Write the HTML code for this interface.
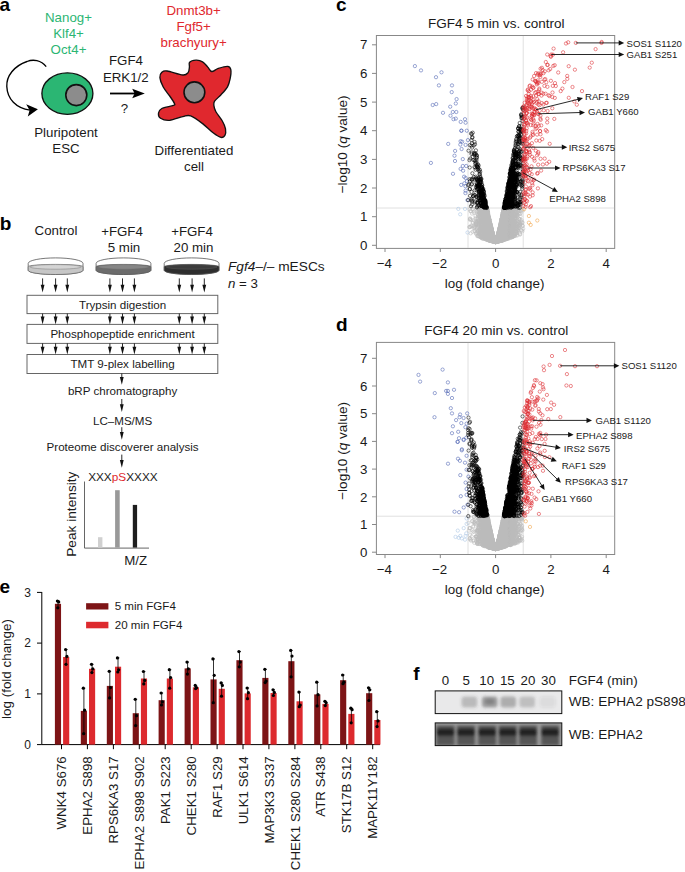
<!DOCTYPE html><html><head><meta charset="utf-8"><title>Figure</title><style>html,body{margin:0;padding:0;background:#fff;}body{width:685px;height:872px;overflow:hidden;}svg{display:block;font-family:"Liberation Sans", sans-serif;}text:not([fill]){fill:#1a1a1a;}</style></head><body>
<svg width="685" height="872" viewBox="0 0 685 872">
<defs>
<marker id="mg" markerWidth="6" markerHeight="6" refX="3" refY="3" markerUnits="userSpaceOnUse" overflow="visible"><circle cx="3" cy="3" r="1.65" fill="none" stroke="#bbbbbb" stroke-width="0.55"/></marker>
<marker id="mlb" markerWidth="6" markerHeight="6" refX="3" refY="3" markerUnits="userSpaceOnUse" overflow="visible"><circle cx="3" cy="3" r="1.65" fill="none" stroke="#a8c4e4" stroke-width="0.55"/></marker>
<marker id="mo" markerWidth="6" markerHeight="6" refX="3" refY="3" markerUnits="userSpaceOnUse" overflow="visible"><circle cx="3" cy="3" r="1.65" fill="none" stroke="#f0a040" stroke-width="0.55"/></marker>
<marker id="mb" markerWidth="6" markerHeight="6" refX="3" refY="3" markerUnits="userSpaceOnUse" overflow="visible"><circle cx="3" cy="3" r="1.65" fill="none" stroke="#4a5fb0" stroke-width="0.55"/></marker>
<marker id="mk" markerWidth="6" markerHeight="6" refX="3" refY="3" markerUnits="userSpaceOnUse" overflow="visible"><circle cx="3" cy="3" r="1.65" fill="none" stroke="#000" stroke-width="0.55"/></marker>
<marker id="mr" markerWidth="6" markerHeight="6" refX="3" refY="3" markerUnits="userSpaceOnUse" overflow="visible"><circle cx="3" cy="3" r="1.65" fill="none" stroke="#dd2a30" stroke-width="0.55"/></marker>
</defs>
<text x="-0.6" y="10.5" font-size="19" font-weight="bold" fill="#000">a</text>
<text x="68.5" y="21.8" font-size="13.3" text-anchor="middle" fill="#2bb673">Nanog+</text>
<text x="68.5" y="38.1" font-size="13.3" text-anchor="middle" fill="#2bb673">Klf4+</text>
<text x="68.5" y="54.400000000000006" font-size="13.3" text-anchor="middle" fill="#2bb673">Oct4+</text>
<text x="193.6" y="15.3" font-size="13.3" text-anchor="middle" fill="#e0282e">Dnmt3b+</text>
<text x="193.6" y="31.0" font-size="13.3" text-anchor="middle" fill="#e0282e">Fgf5+</text>
<text x="193.6" y="46.7" font-size="13.3" text-anchor="middle" fill="#e0282e">brachyury+</text>
<text x="126" y="65.4" font-size="13.3" text-anchor="middle">FGF4</text>
<text x="125.8" y="82.2" font-size="13.3" text-anchor="middle">ERK1/2</text>
<text x="124.5" y="113" font-size="13.3" text-anchor="middle">?</text>
<path d="M110,93.5H137" stroke="#000" stroke-width="1.8"/>
<path d="M144.8,93.5L132.2,88.8L134.6,93.5L132.2,98.2Z" fill="#000"/>
<path d="M46.2,66.6C41,60 33,59 27,61.5C14,66 6.3,76 6.8,86.5C7.3,99 16,108 30,110.2" fill="none" stroke="#000" stroke-width="1.35"/>
<path d="M37.9,109.2L26.2,104.3L29.6,110.3L27.8,116.4Z" fill="#000"/>
<ellipse cx="67.4" cy="93.6" rx="25.5" ry="20.8" fill="#2bb673" stroke="#111" stroke-width="1.35"/>
<circle cx="76.3" cy="95.1" r="10.5" fill="#8c8c8c" stroke="#111" stroke-width="1.6"/>
<text x="66" y="136.8" font-size="13.3" text-anchor="middle">Pluripotent</text>
<text x="66" y="153.2" font-size="13.3" text-anchor="middle">ESC</text>
<path d="M189.4,67.1C189.7,65.4 188.5,63.4 189.6,62.3C190.7,61.1 193.8,60.3 196.0,60.2C198.2,60.1 200.6,60.6 202.6,61.8C204.6,62.9 206.3,65.5 207.8,67.1C209.3,68.7 210.1,71.3 211.8,71.5C213.6,71.7 215.7,69.2 218.3,68.4C220.9,67.6 225.4,66.2 227.5,66.4C229.6,66.6 230.4,67.6 230.8,69.7C231.2,71.8 230.7,76.1 230.1,78.9C229.5,81.8 229.0,84.2 227.5,86.8C226.0,89.4 223.2,92.3 221.0,94.7C218.8,97.1 215.8,99.4 214.6,101.2C213.4,103.0 213.7,103.8 213.9,105.6C214.1,107.4 214.5,109.2 215.9,111.8C217.3,114.4 220.7,118.2 222.3,121.0C223.9,123.8 225.1,126.4 225.5,128.8C225.9,131.2 225.7,134.0 224.9,135.4C224.2,136.8 223.0,137.8 221.0,137.4C219.0,137.0 216.2,135.1 213.1,132.8C210.0,130.5 206.3,126.4 202.6,123.6C198.9,120.8 194.0,117.1 190.7,115.9C187.4,114.7 186.3,115.9 182.8,116.6C179.3,117.3 173.4,120.0 169.7,120.3C166.0,120.6 162.4,119.5 160.5,118.3C158.6,117.1 158.3,114.7 158.5,113.1C158.7,111.5 159.3,109.8 161.8,108.5C164.3,107.2 171.3,106.3 173.4,105.4C175.5,104.5 174.9,104.8 174.3,103.2C173.7,101.6 171.6,98.7 169.7,96.0C167.8,93.3 164.7,89.9 163.1,86.8C161.5,83.7 160.1,80.0 159.9,77.6C159.7,75.2 160.6,73.4 161.8,72.3C163.0,71.2 163.6,70.5 167.1,71.0C170.6,71.5 179.3,74.7 182.8,75.0C186.3,75.3 187.0,73.9 188.1,72.6C189.2,71.3 189.2,68.8 189.4,67.1Z" fill="#e0282e" stroke="#111" stroke-width="1.35"/>
<circle cx="194.4" cy="92.3" r="10.4" fill="#8c8c8c" stroke="#111" stroke-width="1.6"/>
<text x="194" y="155" font-size="13.3" text-anchor="middle">Differentiated</text>
<text x="194" y="171.4" font-size="13.3" text-anchor="middle">cell</text>
<text x="-0.3" y="230.4" font-size="19" font-weight="bold" fill="#000">b</text>
<text x="56" y="234.9" font-size="13.3" text-anchor="middle">Control</text>
<text x="122" y="235.6" font-size="13.3" text-anchor="middle">+FGF4</text>
<text x="124" y="251.6" font-size="13.3" text-anchor="middle">5 min</text>
<text x="192" y="235.6" font-size="13.3" text-anchor="middle">+FGF4</text>
<text x="193.5" y="251.6" font-size="13.3" text-anchor="middle">20 min</text>
<path d="M28.200000000000003,263.4V270.3A27.4,4.2 0 0 0 83.0,270.3V263.4A27.4,5.5 0 0 0 28.200000000000003,263.4Z" fill="#fff" stroke="#555" stroke-width="0.8"/>
<path d="M28.200000000000003,266.6V270.3A27.4,4.2 0 0 0 83.0,270.3V266.6A27.4,2.2 0 0 0 28.200000000000003,266.6Z" fill="#c6c6c6" stroke="#555" stroke-width="0.6"/>
<ellipse cx="55.6" cy="266.90000000000003" rx="25.5" ry="2.3" fill="#d4d4d4" stroke="#666" stroke-width="0.4"/>
<path d="M96.1,263.4V270.3A27.4,4.2 0 0 0 150.9,270.3V263.4A27.4,5.5 0 0 0 96.1,263.4Z" fill="#fff" stroke="#555" stroke-width="0.8"/>
<path d="M96.1,266.6V270.3A27.4,4.2 0 0 0 150.9,270.3V266.6A27.4,2.2 0 0 0 96.1,266.6Z" fill="#6c6c6c" stroke="#555" stroke-width="0.6"/>
<ellipse cx="123.5" cy="266.90000000000003" rx="25.5" ry="2.3" fill="#868686" stroke="#666" stroke-width="0.4"/>
<path d="M164.2,263.4V270.3A27.4,4.2 0 0 0 219.0,270.3V263.4A27.4,5.5 0 0 0 164.2,263.4Z" fill="#fff" stroke="#555" stroke-width="0.8"/>
<path d="M164.2,266.6V270.3A27.4,4.2 0 0 0 219.0,270.3V266.6A27.4,2.2 0 0 0 164.2,266.6Z" fill="#2e2e2e" stroke="#555" stroke-width="0.6"/>
<ellipse cx="191.6" cy="266.90000000000003" rx="25.5" ry="2.3" fill="#3c3c3c" stroke="#666" stroke-width="0.4"/>
<text x="228" y="270.6" font-size="13.7"><tspan font-style="italic">Fgf4</tspan>–/– mESCs</text>
<text x="228" y="288.2" font-size="13.3"><tspan font-style="italic">n</tspan> = 3</text>
<path d="M42.6,278.4V287.5" stroke="#111" stroke-width="0.9"/>
<path d="M40.7,284.7L44.5,284.7L42.6,292.5Z" fill="#111"/>
<path d="M55.6,278.4V287.5" stroke="#111" stroke-width="0.9"/>
<path d="M53.7,284.7L57.5,284.7L55.6,292.5Z" fill="#111"/>
<path d="M67.3,278.4V287.5" stroke="#111" stroke-width="0.9"/>
<path d="M65.39999999999999,284.7L69.2,284.7L67.3,292.5Z" fill="#111"/>
<path d="M109.9,278.4V287.5" stroke="#111" stroke-width="0.9"/>
<path d="M108.0,284.7L111.80000000000001,284.7L109.9,292.5Z" fill="#111"/>
<path d="M122.5,278.4V287.5" stroke="#111" stroke-width="0.9"/>
<path d="M120.6,284.7L124.4,284.7L122.5,292.5Z" fill="#111"/>
<path d="M134.4,278.4V287.5" stroke="#111" stroke-width="0.9"/>
<path d="M132.5,284.7L136.3,284.7L134.4,292.5Z" fill="#111"/>
<path d="M179.3,278.4V287.5" stroke="#111" stroke-width="0.9"/>
<path d="M177.4,284.7L181.20000000000002,284.7L179.3,292.5Z" fill="#111"/>
<path d="M192.1,278.4V287.5" stroke="#111" stroke-width="0.9"/>
<path d="M190.2,284.7L194.0,284.7L192.1,292.5Z" fill="#111"/>
<path d="M204.3,278.4V287.5" stroke="#111" stroke-width="0.9"/>
<path d="M202.4,284.7L206.20000000000002,284.7L204.3,292.5Z" fill="#111"/>
<rect x="27" y="295.3" width="190.8" height="18.3" fill="#fff" stroke="#666" stroke-width="1"/>
<text x="122.6" y="309.1" font-size="11.6" text-anchor="middle">Trypsin digestion</text>
<rect x="27" y="324.4" width="190.8" height="19.0" fill="#fff" stroke="#666" stroke-width="1"/>
<text x="122.6" y="338.2" font-size="11.6" text-anchor="middle">Phosphopeptide enrichment</text>
<rect x="27" y="354.5" width="190.8" height="19.0" fill="#fff" stroke="#666" stroke-width="1"/>
<text x="122.6" y="368.3" font-size="11.6" text-anchor="middle">TMT 9-plex labelling</text>
<path d="M42.6,313.6V319.4" stroke="#111" stroke-width="0.9"/>
<path d="M40.7,316.59999999999997L44.5,316.59999999999997L42.6,324.4Z" fill="#111"/>
<path d="M42.6,343.4V349.5" stroke="#111" stroke-width="0.9"/>
<path d="M40.7,346.7L44.5,346.7L42.6,354.5Z" fill="#111"/>
<path d="M55.6,313.6V319.4" stroke="#111" stroke-width="0.9"/>
<path d="M53.7,316.59999999999997L57.5,316.59999999999997L55.6,324.4Z" fill="#111"/>
<path d="M55.6,343.4V349.5" stroke="#111" stroke-width="0.9"/>
<path d="M53.7,346.7L57.5,346.7L55.6,354.5Z" fill="#111"/>
<path d="M67.3,313.6V319.4" stroke="#111" stroke-width="0.9"/>
<path d="M65.39999999999999,316.59999999999997L69.2,316.59999999999997L67.3,324.4Z" fill="#111"/>
<path d="M67.3,343.4V349.5" stroke="#111" stroke-width="0.9"/>
<path d="M65.39999999999999,346.7L69.2,346.7L67.3,354.5Z" fill="#111"/>
<path d="M109.9,313.6V319.4" stroke="#111" stroke-width="0.9"/>
<path d="M108.0,316.59999999999997L111.80000000000001,316.59999999999997L109.9,324.4Z" fill="#111"/>
<path d="M109.9,343.4V349.5" stroke="#111" stroke-width="0.9"/>
<path d="M108.0,346.7L111.80000000000001,346.7L109.9,354.5Z" fill="#111"/>
<path d="M122.5,313.6V319.4" stroke="#111" stroke-width="0.9"/>
<path d="M120.6,316.59999999999997L124.4,316.59999999999997L122.5,324.4Z" fill="#111"/>
<path d="M122.5,343.4V349.5" stroke="#111" stroke-width="0.9"/>
<path d="M120.6,346.7L124.4,346.7L122.5,354.5Z" fill="#111"/>
<path d="M134.4,313.6V319.4" stroke="#111" stroke-width="0.9"/>
<path d="M132.5,316.59999999999997L136.3,316.59999999999997L134.4,324.4Z" fill="#111"/>
<path d="M134.4,343.4V349.5" stroke="#111" stroke-width="0.9"/>
<path d="M132.5,346.7L136.3,346.7L134.4,354.5Z" fill="#111"/>
<path d="M179.3,313.6V319.4" stroke="#111" stroke-width="0.9"/>
<path d="M177.4,316.59999999999997L181.20000000000002,316.59999999999997L179.3,324.4Z" fill="#111"/>
<path d="M179.3,343.4V349.5" stroke="#111" stroke-width="0.9"/>
<path d="M177.4,346.7L181.20000000000002,346.7L179.3,354.5Z" fill="#111"/>
<path d="M192.1,313.6V319.4" stroke="#111" stroke-width="0.9"/>
<path d="M190.2,316.59999999999997L194.0,316.59999999999997L192.1,324.4Z" fill="#111"/>
<path d="M192.1,343.4V349.5" stroke="#111" stroke-width="0.9"/>
<path d="M190.2,346.7L194.0,346.7L192.1,354.5Z" fill="#111"/>
<path d="M204.3,313.6V319.4" stroke="#111" stroke-width="0.9"/>
<path d="M202.4,316.59999999999997L206.20000000000002,316.59999999999997L204.3,324.4Z" fill="#111"/>
<path d="M204.3,343.4V349.5" stroke="#111" stroke-width="0.9"/>
<path d="M202.4,346.7L206.20000000000002,346.7L204.3,354.5Z" fill="#111"/>
<path d="M121.8,373.5V379.8" stroke="#111" stroke-width="0.9"/>
<path d="M119.89999999999999,377.0L123.7,377.0L121.8,384.8Z" fill="#111"/>
<text x="122.6" y="395.2" font-size="11.6" text-anchor="middle">bRP chromatography</text>
<path d="M121.8,399V407" stroke="#111" stroke-width="0.9"/>
<path d="M119.89999999999999,404.2L123.7,404.2L121.8,412Z" fill="#111"/>
<text x="122.6" y="425.4" font-size="11.6" text-anchor="middle">LC–MS/MS</text>
<path d="M121.8,427.2V434.8" stroke="#111" stroke-width="0.9"/>
<path d="M119.89999999999999,432.0L123.7,432.0L121.8,439.8Z" fill="#111"/>
<text x="122.6" y="450.6" font-size="11.6" text-anchor="middle">Proteome discoverer analysis</text>
<path d="M121.8,454.6V462.8" stroke="#111" stroke-width="0.9"/>
<path d="M119.89999999999999,460.0L123.7,460.0L121.8,467.8Z" fill="#111"/>
<text x="122.9" y="480.5" font-size="11.8" text-anchor="middle">XXX<tspan fill="#e0282e">pS</tspan>XXXX</text>
<path d="M84.5,481.5V548.1H149" fill="none" stroke="#555" stroke-width="0.9"/>
<rect x="98" y="537.2" width="4.4" height="10.4" fill="#d0d0d0"/>
<rect x="115.1" y="490.2" width="4.6" height="57.4" fill="#999"/>
<rect x="132.8" y="504.9" width="4.3" height="42.7" fill="#1e1e1e"/>
<text transform="translate(76.3,556.8) rotate(-90)" font-size="13.7">Peak intensity</text>
<text x="124.2" y="565.2" font-size="13.3">M/Z</text>
<text x="336" y="10.5" font-size="19" font-weight="bold" fill="#000">c</text>
<rect x="376.4" y="35.5" width="238.3" height="212.9" fill="none" stroke="#888" stroke-width="1"/>
<path d="M376.9,208.0H614.2M468.0,36.0V247.9M523.2,36.0V247.9" stroke="#d6d6d6" stroke-width="0.75"/>
<path d="M372,245.3H376.4" stroke="#888" stroke-width="1"/>
<text x="367.5" y="250.0" font-size="13.3" text-anchor="end">0</text>
<path d="M372,216.7H376.4" stroke="#888" stroke-width="1"/>
<text x="367.5" y="221.35" font-size="13.3" text-anchor="end">1</text>
<path d="M372,188.0H376.4" stroke="#888" stroke-width="1"/>
<text x="367.5" y="192.7" font-size="13.3" text-anchor="end">2</text>
<path d="M372,159.4H376.4" stroke="#888" stroke-width="1"/>
<text x="367.5" y="164.05" font-size="13.3" text-anchor="end">3</text>
<path d="M372,130.7H376.4" stroke="#888" stroke-width="1"/>
<text x="367.5" y="135.4" font-size="13.3" text-anchor="end">4</text>
<path d="M372,102.1H376.4" stroke="#888" stroke-width="1"/>
<text x="367.5" y="106.75000000000001" font-size="13.3" text-anchor="end">5</text>
<path d="M372,73.4H376.4" stroke="#888" stroke-width="1"/>
<text x="367.5" y="78.10000000000004" font-size="13.3" text-anchor="end">6</text>
<path d="M372,44.8H376.4" stroke="#888" stroke-width="1"/>
<text x="367.5" y="49.45000000000003" font-size="13.3" text-anchor="end">7</text>
<path d="M385.0,248.4V252.0" stroke="#888" stroke-width="1"/>
<text x="384.4" y="267.9" font-size="13.3" text-anchor="middle">−4</text>
<path d="M440.3,248.4V252.0" stroke="#888" stroke-width="1"/>
<text x="439.7" y="267.9" font-size="13.3" text-anchor="middle">−2</text>
<path d="M495.6,248.4V252.0" stroke="#888" stroke-width="1"/>
<text x="495.6" y="267.9" font-size="13.3" text-anchor="middle">0</text>
<path d="M550.9,248.4V252.0" stroke="#888" stroke-width="1"/>
<text x="550.9" y="267.9" font-size="13.3" text-anchor="middle">2</text>
<path d="M606.2,248.4V252.0" stroke="#888" stroke-width="1"/>
<text x="606.2" y="267.9" font-size="13.3" text-anchor="middle">4</text>
<text x="494.6" y="287.8" font-size="13.4" text-anchor="middle">log (fold change)</text>
<text transform="translate(347.4,144.4) rotate(-90)" font-size="13.6" text-anchor="middle">−log10 (<tspan font-style="italic">q</tspan> value)</text>
<text x="496.2" y="28" font-size="13.5" text-anchor="middle">FGF4 5 min vs. control</text>
<polyline points="497.8,238.3 490.9,229.6 497.3,240.3 496.7,239.3 500.1,230.2 506.0,210.8 502.7,226.6 502.4,224.6 509.1,210.8 486.5,215.1 499.0,236.7 510.0,222.5 487.4,233.6 481.3,221.4 493.2,237.4 497.8,238.0 491.4,234.6 501.7,237.5 487.5,231.4 487.6,234.1 495.5,241.8 497.8,237.0 498.0,240.8 494.5,240.5 495.0,241.5 488.1,230.9 502.8,238.0 497.9,240.4 487.7,221.7 497.9,236.5 486.0,214.3 504.2,214.5 505.2,225.3 494.0,240.7 520.5,216.3 508.7,214.5 511.8,228.1 508.2,220.8 490.4,240.5 499.5,237.1 493.9,240.8 490.4,226.4 487.5,235.1 492.0,236.1 502.8,214.0 511.8,216.7 503.5,237.7 491.3,228.8 501.9,219.2 501.8,240.4 502.0,231.1 495.4,241.7 509.1,231.8 491.6,237.8 482.2,211.9 500.1,237.7 507.4,214.0 504.1,239.6 508.8,231.6 501.9,229.6 493.7,239.7 501.1,225.0 497.3,240.5 496.5,241.3 501.1,224.7 499.9,232.0 493.4,236.1 493.6,239.7 506.4,220.9 503.9,230.0 497.4,237.5 496.4,240.7 504.3,226.8 488.8,226.9 487.5,232.1 503.7,225.1 496.1,241.2 490.4,224.2 500.9,227.9 498.7,233.2 507.1,215.8 492.6,234.7 493.4,238.2 498.4,235.7 495.5,241.8 508.5,227.1 488.4,235.7 507.9,228.8 499.2,237.9 501.9,230.8 488.6,238.0 510.5,208.5 491.9,237.8 506.9,220.9 481.2,218.1 504.4,214.4 500.1,233.9 497.3,237.4 490.9,226.8 507.3,236.2 509.9,220.1 500.1,233.7 491.7,233.4 500.1,229.3 470.1,218.4 494.2,239.9 479.6,209.8 494.9,241.5 504.6,237.5 518.2,209.5 506.9,219.4 504.0,235.0 504.8,211.1 489.7,223.9 506.8,210.4 510.0,222.2 504.4,222.9 491.8,239.6 488.9,226.9 498.5,235.0 496.9,240.9 496.4,240.4 487.0,228.4 495.6,241.9 475.6,221.8 490.2,229.5 507.0,215.5 489.7,235.1 489.8,224.5 498.1,240.8 491.5,229.2 493.6,238.3 495.2,241.4 487.8,215.9 503.3,210.9 495.3,241.6 493.6,238.8 480.2,215.1 488.7,232.9 496.1,241.1 492.3,241.3 500.5,237.4 488.3,234.8 486.1,231.2 494.9,241.1 491.3,240.0 506.9,232.6 503.9,228.1 485.6,218.5 492.4,232.4 491.2,227.8 514.3,221.0 509.8,222.9 503.5,234.0 488.4,235.0 486.7,219.5 495.4,241.6 500.7,227.8 505.9,215.1 496.4,241.4 495.4,241.8 501.6,220.4 491.1,229.7 489.8,221.6 484.4,208.1 500.9,239.4 495.4,241.8 502.8,236.1 493.1,239.3 511.9,233.6 486.5,231.0 503.3,216.9 501.7,229.9 500.4,233.2 505.6,228.6 481.5,221.1 499.3,240.7 490.7,240.4 491.9,233.3 516.6,215.8 488.9,232.0 492.9,236.0 503.3,240.1 496.4,241.2 493.0,238.3 503.5,223.0 492.6,238.8 498.2,235.7 487.9,220.9 488.4,215.5 492.7,240.2 487.2,212.3 493.8,237.8 496.5,240.6 497.2,238.5 500.1,227.3 497.4,237.7 502.9,218.3 494.8,241.7 491.0,235.1 489.3,223.5 487.8,219.4 501.1,229.5 490.4,224.6 508.0,226.0 491.9,239.3 513.8,213.3 501.5,224.4 490.1,237.6 486.7,229.1 500.6,239.7 483.3,232.5 485.5,209.5 498.4,241.3 501.0,236.4 494.4,239.9 501.8,219.5 496.9,241.1 500.7,235.0 481.1,225.5 504.4,226.0 499.6,235.1 496.2,241.8 502.7,217.5 501.1,235.6 497.0,240.6 494.1,241.2 492.8,237.8 509.7,231.5 502.6,223.5 487.8,223.9 497.2,240.6 486.8,232.6 491.4,234.0 501.1,226.4 499.6,230.1 481.1,221.7 501.3,230.8 498.4,235.0 504.9,228.0 494.9,241.2 500.5,237.0 497.7,238.7 501.1,221.7 510.3,209.8 501.5,235.3 498.3,234.1 502.3,238.4 494.2,239.8 504.7,226.3 492.8,240.7 502.0,237.3 494.0,241.5 494.8,241.0 489.8,232.2 511.2,224.1 499.4,238.7 515.3,215.3 502.7,229.4 489.2,221.7 496.4,241.7 513.6,216.8 501.5,229.1 486.4,225.3 492.9,236.9 504.3,226.4 510.8,230.5 499.6,230.3 494.6,240.6 490.4,233.9 505.9,209.7 485.7,219.0 502.5,227.1 497.9,239.3 495.5,241.8 495.3,241.6 494.0,239.9 490.7,228.5 503.3,215.2 495.2,241.6 500.2,225.6 487.0,211.5 493.1,239.3 482.0,234.9 502.8,239.5 487.2,225.3 489.1,219.7 492.0,235.0 492.5,239.9 498.8,231.8 485.4,227.0 483.1,225.9 502.9,212.7 489.4,227.5 499.8,239.5 514.7,224.6 504.8,214.7 487.6,234.6 499.4,233.0 517.4,220.0 495.2,241.3 481.2,221.7 506.8,224.2 498.1,240.0 488.6,227.9 500.3,228.3 492.5,237.3 507.3,214.5 497.7,238.1 501.0,230.0 488.5,220.5 504.3,233.5 502.0,219.4 488.9,227.4 500.3,237.7 500.5,236.7 487.7,212.0 497.4,240.4 495.5,241.8 499.7,239.9 497.8,236.6 493.3,239.1 487.7,219.1 502.8,218.9 489.3,228.9 489.2,233.7 506.0,212.2 499.9,228.6 498.2,239.3 499.6,240.6 486.2,235.5 499.4,234.4 487.9,220.7 470.0,219.0 495.9,241.7 495.4,241.7 498.8,240.8 487.1,220.2 498.7,233.8 498.0,239.4 485.0,208.4 499.8,230.6 487.2,216.2 493.1,236.1 496.1,241.7 489.4,231.4 485.5,210.1 498.3,240.8 492.4,240.2 508.6,218.4 498.8,240.1 483.8,209.3 507.2,234.4 496.0,241.8 496.8,239.9 502.3,220.0 500.8,235.6 485.0,228.6 509.1,221.9 495.8,241.8 508.3,218.6 481.8,230.7 521.0,221.7 500.5,240.7 488.1,231.5 502.8,216.0 507.5,214.8 500.8,222.7 490.9,227.5 496.7,241.3 502.8,220.3 502.9,224.5 498.7,236.0 500.0,237.2 498.8,241.3 499.5,238.7 503.1,224.1 509.6,219.6 508.3,212.3 499.0,240.7 498.4,235.5 501.3,237.1 512.7,226.8 507.0,222.2 502.5,233.1 500.0,229.5 499.1,231.1 500.3,240.9 482.8,233.2 492.4,237.3 504.2,223.4 500.2,236.1 517.9,230.3 499.0,236.4 477.4,214.0 500.7,232.4 500.9,238.4 500.7,232.5 497.8,239.8 482.8,218.7 501.7,235.4 509.7,232.3 496.6,239.8 495.9,241.6 518.9,223.4 497.6,239.2 498.0,241.0 482.6,215.1 503.3,227.1 509.5,222.7 485.2,218.7 497.2,240.6 490.5,233.7 495.6,241.9 491.6,240.8 500.0,234.8 500.2,227.7 492.1,236.4 504.4,213.2 501.8,219.1 498.5,235.8 500.5,228.8 498.0,237.5 500.0,235.4 495.3,241.5 509.7,224.6 494.3,239.1 499.4,233.0 490.4,231.2 498.8,235.2 497.2,239.9 475.6,218.0 491.6,232.0 500.3,239.3 501.3,228.3 505.2,228.5 494.9,241.6 497.2,241.2 499.2,231.8 504.6,226.7 509.0,232.5 485.5,216.1 490.9,231.3 507.6,217.2 495.9,241.4 502.5,230.6 501.4,238.4 490.7,230.1 499.0,232.0 502.6,218.7 505.3,214.9 493.2,240.2 501.0,231.4 495.3,241.6 499.9,233.2 502.3,217.0 490.2,227.5 485.0,217.2 505.0,227.4 490.7,233.6 503.6,218.3 494.9,241.4 501.3,224.5 486.3,225.1 506.7,212.8 501.0,228.4 511.5,217.5 491.7,230.8 497.7,239.2 506.8,235.8 496.5,240.3 484.2,224.1 509.5,215.1 494.7,241.7 499.2,236.3 500.3,237.9 495.6,241.8 503.4,220.1 495.6,241.8 496.5,240.7 491.9,236.7 491.2,238.9 492.2,239.9 489.0,221.0 514.9,236.1 504.5,219.9 480.7,219.7 508.9,218.0 503.8,238.1 498.0,239.1 500.9,238.2 496.7,241.3 498.5,240.3 494.3,241.1 487.2,214.7 497.3,238.2 497.4,237.8 506.7,236.5 492.6,238.0 500.0,236.0 497.2,239.1 502.4,225.3 502.3,235.0 489.0,226.7 515.5,233.7 491.0,238.5 507.0,238.7 494.9,241.7 496.9,241.5 499.9,228.1 502.1,228.1 498.9,234.7 482.4,229.4 495.1,241.8 502.6,234.6 516.1,231.7 496.5,240.0 495.5,241.8 502.1,238.0 509.7,222.1 502.6,229.6 487.6,210.8 495.1,241.4 514.3,209.9 502.0,227.4 497.6,238.8 513.2,212.0 494.3,241.4 510.3,234.9 500.8,229.2 503.2,218.3 497.8,235.6 493.7,240.2 501.4,233.8 511.4,224.9 486.1,238.5 496.1,241.2 493.1,236.1 508.9,228.1 491.6,230.1 494.6,241.1 498.0,237.8 507.4,225.4 499.5,240.8 494.5,239.6 495.2,241.8 495.9,241.6 489.6,226.4 486.6,224.1 492.5,237.7 493.2,240.8 493.4,236.8 500.6,240.2 491.7,239.3 489.6,226.3 513.5,221.9 501.4,224.4 505.9,224.5 504.0,232.2 499.0,233.6 487.2,214.8 493.2,237.3 504.3,219.1 496.6,239.8 489.2,218.9 510.3,223.9 500.0,233.0 496.9,238.6 494.0,238.0 500.0,237.9 492.1,241.1 495.8,241.8 513.7,231.1 502.8,213.4 491.3,229.2 501.6,223.9 504.4,209.0 497.3,240.3 489.0,231.2 496.9,239.6 489.7,222.6 490.4,236.5 493.8,241.0 502.1,225.3 496.8,239.6 491.9,241.1 492.2,239.3 486.1,223.4 498.2,235.0 498.0,236.4 515.1,216.7 496.1,241.3 496.4,240.6 509.3,234.7 497.8,237.9 492.1,233.7 514.2,215.6 507.2,212.8 493.4,236.9 501.4,228.0 497.1,238.4 484.1,210.2 502.1,238.5 483.7,218.4 495.7,241.8 495.9,241.7 491.4,233.9 493.2,237.2 482.0,215.9 505.2,217.3 475.9,233.8 512.5,236.8 489.4,240.0 481.6,209.1 498.1,239.7 499.4,238.1 501.1,235.6 503.5,238.8 511.3,222.2 499.7,240.3 496.6,240.3 496.8,241.5 519.8,214.0 500.2,238.2 498.9,235.7 482.3,231.3 484.5,221.9 501.1,226.3 485.3,215.1 499.8,235.7 500.9,231.9 494.8,241.6 500.9,224.3 486.8,214.9 494.8,240.6 502.3,228.7 502.7,220.4 505.2,212.7 510.5,235.8 494.5,240.7 505.6,230.3 496.6,239.8 493.3,241.2 499.0,236.6 501.3,229.5 507.4,219.9 492.9,237.5 489.1,226.3 493.7,239.3 485.3,214.6 503.5,210.3 491.3,237.1 489.1,229.6 489.4,222.1 499.0,231.0 488.4,231.0 504.1,222.8 494.5,241.3 499.2,239.7 497.9,238.3 489.3,219.6 486.3,219.9 510.5,221.3 503.1,212.6 482.3,218.9 501.4,223.4 496.9,239.8 497.8,238.5 497.3,240.2 498.5,235.4 492.4,239.9 488.0,224.0 500.5,228.3 487.3,217.9 498.2,235.8 509.8,226.1 492.3,237.4 486.3,237.3 493.7,239.8 505.0,222.5 499.4,234.4 488.4,222.9 489.6,233.6 486.3,217.7 497.0,240.8 505.9,230.8 500.0,233.7 494.0,240.1 495.1,241.6 491.4,240.1 479.5,209.6 495.0,241.8 498.8,232.5 493.9,237.6 483.4,232.3 480.5,214.8 506.4,223.8 505.1,235.9 488.7,231.0 495.8,241.7 498.1,237.5 493.6,240.6 488.9,219.2 502.6,215.9 499.3,237.4 503.6,233.0 486.3,222.6 504.0,218.6 471.2,225.7 499.9,237.2 487.1,236.4 490.0,239.4 487.5,217.0 490.4,226.4 487.8,236.9 492.0,239.2 510.4,221.9 496.7,239.6 491.3,237.4 509.8,224.5 492.4,236.9 488.9,240.5 500.0,238.0 497.3,238.1 490.3,239.2 501.4,235.1 510.3,232.7 491.8,236.7 497.2,241.5 502.2,236.4 500.2,230.6 506.8,219.0 486.1,228.3 496.4,241.4 504.1,220.2 488.3,219.5 503.2,238.1 499.2,234.2 503.8,216.4 489.3,225.5 492.8,239.4 503.3,223.9 493.7,240.5 496.8,240.9 505.8,218.1 484.5,230.0 501.2,236.3 503.6,210.5 496.1,241.5 502.2,221.4 500.9,229.8 502.4,221.5 492.3,240.5 516.9,213.0 490.3,226.6 498.8,239.0 499.5,234.2 488.3,226.6 499.6,235.0 501.9,233.7 507.2,225.7 497.4,237.3 497.9,240.8 487.3,209.9 495.5,241.8 519.7,211.0 502.9,225.8 491.8,236.2 496.8,239.0 504.4,231.3 487.1,218.0 494.7,240.7 493.4,238.4 493.5,241.0 516.8,223.7 488.5,237.7 505.0,209.5 495.3,241.5 491.7,231.7 502.9,227.9 496.7,240.3 495.8,241.8 495.8,241.7 490.6,229.0 497.6,239.6 479.8,211.9 517.8,214.7 494.8,240.8 501.4,221.4 491.8,234.3 492.5,235.0 488.0,216.5 500.4,237.1 497.3,241.5 510.3,225.0 479.8,234.0 503.0,236.4 495.3,241.7 497.6,237.9 488.3,236.5 500.8,231.1 491.6,230.0 499.7,235.3 494.0,238.4 502.6,235.2 484.4,220.7 491.1,227.2 500.0,232.6 486.3,211.5 506.4,210.8 493.4,236.4 496.1,241.1 501.6,234.4 490.7,232.4 503.1,226.6 507.8,222.9 507.5,214.7 497.0,239.5 491.4,236.3 499.5,234.9 502.7,237.4 504.7,210.8 490.8,240.3 488.4,222.9 487.7,231.7 505.9,233.2 497.9,235.5 517.1,223.8 491.4,235.0 495.6,241.9 505.4,227.3 488.8,221.9 498.5,237.0 487.2,238.9 492.8,234.5 490.6,238.0 499.6,233.1 504.0,227.6 489.4,234.5 507.7,236.2 494.5,240.6 501.7,231.8 489.4,233.7 491.1,229.3 508.0,238.5 500.7,225.1 492.6,234.2 497.4,238.0 503.4,213.5 490.1,234.0 495.2,241.6 499.0,236.6 494.9,241.1 492.4,232.2 485.9,213.8 507.1,210.0 500.0,237.4 498.3,241.4 503.2,219.9 493.6,241.2 502.9,237.9 491.5,230.4 490.5,238.0 490.9,238.6 490.3,235.3 506.0,224.4 493.7,241.3 495.3,241.6 493.2,236.2 494.1,241.3 509.1,215.0 497.5,238.9 493.4,238.5 494.2,239.3 489.6,227.6 498.3,236.8 494.6,239.8 494.8,241.1 495.7,241.8 495.3,241.6 498.7,234.9 499.5,239.2 490.1,226.0 486.6,225.7 517.2,228.8 500.6,231.0 503.8,230.3 502.2,220.6 494.9,240.8 503.8,225.8 503.0,231.1 492.4,234.4 494.9,240.5 514.7,212.0 492.5,233.8 505.0,218.1 496.6,240.2 503.1,220.0 502.3,223.8 506.3,228.8 491.1,237.5 491.2,236.7 489.7,231.5 501.9,218.8 498.8,234.8 497.2,238.0 491.9,231.7 502.7,229.5 487.5,230.0 494.1,239.5 484.8,218.1 500.3,235.9 504.4,231.3 476.8,225.0 482.5,212.9 494.6,240.6 498.0,237.3 488.7,239.2 486.0,212.6 492.0,232.0 490.1,231.1 500.1,228.4 496.8,240.8 499.8,235.5 498.1,240.5 510.2,210.3 507.1,221.3 497.0,239.4 495.8,241.8 496.0,241.7 492.4,235.2 489.9,240.3 512.9,211.9 496.8,240.5 499.2,237.7 510.5,223.1 495.0,241.4 499.9,230.0 488.3,238.0 491.0,231.7 499.6,232.4 490.2,230.0 495.4,241.7 511.7,221.1 491.9,233.7 492.9,240.3 494.6,241.1 501.1,240.3 469.4,227.2 494.7,241.0 487.2,217.4 508.6,234.7 512.0,223.2 490.1,238.3 488.0,217.5 512.9,225.0 517.3,228.5 495.2,241.8 496.6,241.7 487.5,224.2 495.3,241.6 496.2,241.5 487.1,214.1 503.6,215.5 514.6,235.9 501.1,230.1 490.1,234.6 481.3,226.9 494.4,240.6 506.7,219.1 477.4,208.3 494.2,240.2 488.5,234.0 496.0,241.5 488.2,219.4 513.1,229.7 495.8,241.8 481.7,236.8 499.7,236.7 473.9,212.7 486.1,212.7 499.8,237.0 494.1,241.4 513.5,229.8 499.2,230.9 500.5,230.7 506.9,217.0 506.6,237.7 498.6,239.8 495.5,241.8 497.6,236.4 497.5,237.4 499.0,239.6 497.3,241.1 503.0,232.5 491.4,229.4 497.3,239.1 492.4,240.0 503.3,211.5 498.4,241.1 491.4,236.9 504.2,210.0 489.4,236.3 500.4,239.8 494.7,240.0 496.5,241.1 494.0,239.7 495.2,241.8 494.8,241.0 494.3,241.6 518.4,225.3 501.6,236.3 489.8,228.8 489.2,227.0 497.4,237.7 505.9,213.8 507.4,222.3 490.6,237.1 490.5,229.9 506.9,209.5 487.2,225.9 492.9,238.6 508.1,237.6 498.3,234.3 490.6,236.7 495.7,241.9 495.5,241.8 494.2,238.6 485.0,238.9 509.8,226.2 495.9,241.8 499.2,239.0 502.8,229.9 501.1,225.3 509.2,219.3 504.7,223.2 495.4,241.7 496.1,241.0 494.6,240.8 481.9,227.3 512.3,225.3 499.1,233.2 498.7,235.7 505.5,208.8 486.5,239.5 498.4,237.9 502.3,240.5 491.1,240.1 482.2,214.4 497.3,239.5 494.8,240.5 498.9,235.9 489.1,230.0 503.6,227.0 505.3,239.5 499.7,240.5 511.0,237.7 493.3,239.2 495.0,241.3 487.1,210.1 501.3,233.1 498.2,234.0 502.6,223.0 509.7,219.3 500.5,237.2 497.2,240.6 491.8,239.7 508.1,213.3 495.4,241.8 487.0,211.1 493.4,237.1 503.0,221.7 504.4,227.1 511.1,236.3 498.9,232.4 485.7,231.8 491.7,239.3 506.0,216.7 490.8,226.6 499.8,229.4 501.7,238.0 493.4,236.9 492.8,235.9 503.7,235.1 476.5,222.6 497.4,240.3 502.9,214.7 499.5,240.0 490.0,229.5 499.4,231.4 502.2,229.8 505.1,214.1 500.3,238.0 499.5,236.2 506.3,218.9 488.3,221.7 486.9,238.4 503.6,218.1 495.5,241.8 503.2,216.6 501.1,237.1 502.3,220.3 483.4,229.1 490.1,234.7 493.5,240.1 494.6,241.5 507.2,224.3 496.4,240.3 512.0,218.8 493.6,236.7 511.3,217.3 489.9,222.2 500.6,226.7 492.2,239.4 503.9,226.8 496.6,241.4 499.6,229.0 491.4,238.2 486.9,229.4 500.0,232.2 513.5,234.3 496.6,240.7 497.2,239.1 500.6,240.0 491.8,230.1 499.9,235.3 497.5,240.7 495.7,241.8 488.9,229.9 506.8,224.1 506.9,216.0 511.6,227.5 504.0,231.7 490.5,239.4 505.2,239.1 510.5,225.2 516.0,208.7 505.0,213.5 488.5,225.5 512.3,225.8 470.7,233.3 492.0,235.0 512.2,231.6 493.5,239.0 497.8,239.6 502.0,240.4 507.7,223.0 497.0,238.3 492.6,233.7 491.6,240.6 491.2,233.5 485.9,215.8 493.4,237.4 515.4,216.6 490.0,230.9 504.8,232.3 491.4,234.8 496.6,240.0 498.0,235.6 499.1,236.1 505.8,238.4 498.1,239.8 498.3,235.3 487.8,224.8 501.2,238.3 512.1,210.9 495.6,241.9 489.8,221.8 502.3,220.3 496.0,241.6 498.3,236.8 489.5,227.2 492.2,236.5 487.5,233.2 490.4,237.6 496.7,241.5 483.6,229.1 489.3,230.6 500.9,239.7 504.5,224.5 504.0,229.4 500.2,229.4 496.5,241.6 498.8,232.5 496.1,241.2 491.8,236.7 495.0,241.2 499.5,229.1 500.6,225.2 504.8,237.2 492.3,233.7 499.5,237.1 496.1,241.8 502.5,239.1 505.5,216.6 499.9,234.0 500.6,233.1 498.0,240.1 499.4,229.2 509.0,237.0 515.1,226.2 500.9,237.3 504.4,212.8 493.8,240.0 494.5,239.8 492.0,232.1 511.4,237.3 506.6,216.8 497.7,237.9 509.3,209.0 488.8,217.6 502.3,236.2 495.3,241.7 492.5,234.1 503.4,233.9 493.5,238.9 493.1,237.1 498.1,236.6 491.5,236.8 495.6,241.9 482.5,216.2 503.3,226.0 491.4,228.7 506.4,216.1 503.0,233.0 511.6,234.4 500.6,230.8 493.4,237.5 496.8,239.8 511.0,229.9 490.1,231.6 502.9,227.0 499.4,240.1 483.1,238.2 493.7,238.2 496.4,241.6 507.1,233.8 496.2,241.7 506.1,216.1 500.0,240.1 491.7,235.4 500.7,228.9 489.6,236.7 496.5,240.1 501.0,235.6 499.5,232.8 490.5,240.6 492.6,234.0 487.9,217.2 491.5,236.6 484.5,237.9 485.2,222.2 500.4,233.8 494.5,240.6 502.3,234.4 489.6,231.5 499.4,230.7 484.2,231.0 494.5,241.4 489.5,228.3 487.6,239.5 494.9,241.4 486.4,232.1 498.4,235.9 494.4,241.6 498.4,240.3 496.4,241.3 494.1,238.6 515.7,224.6 497.4,241.0 494.6,241.2 469.6,209.3 504.3,210.1 489.5,238.9 485.6,216.2 503.8,215.3 501.4,235.9 506.3,234.0 496.0,241.8 504.9,216.5 511.0,226.3 515.2,234.2 480.8,237.2 488.6,234.4 486.3,212.7 488.9,227.5 505.2,231.5 494.8,241.6 492.0,238.7 482.8,208.9 501.9,236.6 499.9,239.3 493.9,239.0 499.4,239.6 501.4,234.4 491.4,234.9 495.7,241.8 503.9,218.0 502.8,232.2 509.8,237.0 498.4,241.1 494.4,239.9 503.0,214.0 496.0,241.4 502.2,216.1 496.8,240.4 484.3,217.4 493.8,240.6 500.6,234.3 483.0,220.1 496.9,239.2 491.1,237.7 523.0,210.4 501.1,236.1 491.2,229.6 497.7,239.8 503.0,226.1 502.0,231.4 503.3,223.5 508.2,230.5 503.7,211.2 492.8,235.6 498.8,240.1 500.6,228.4 494.3,240.5 503.4,211.4 499.3,236.7 512.7,210.0 515.6,209.1 501.3,238.9 494.4,239.3 501.9,239.9 493.7,238.5 501.1,229.0 484.1,215.8 502.8,228.9 501.1,230.1 492.1,241.3 494.9,241.5 495.9,241.7 502.0,224.3 503.1,228.9 500.7,226.7 503.8,228.9 497.3,241.6 490.1,231.9 490.0,228.3 494.2,241.2 522.6,222.5 492.5,236.9 514.5,225.0 502.8,233.5 479.6,214.0 492.6,233.9 507.8,233.6 498.4,234.7 484.0,214.2 500.8,239.3 492.6,236.5 506.5,231.4 494.9,241.4 493.9,240.1 496.8,239.7 491.1,232.5 513.6,224.2 505.9,217.1 493.7,240.4 484.7,230.6 502.8,238.9 495.9,241.6 500.4,240.8 499.8,233.6 493.8,238.4 523.2,228.8 490.2,226.9 495.0,241.5 491.6,233.9 489.6,226.0 498.9,238.4 493.6,237.0 504.4,220.6 505.5,209.9 493.5,238.8 503.7,236.1 505.7,221.2 495.4,241.7 502.1,218.7 497.7,241.3 496.5,241.7 499.5,239.1 516.4,230.5 502.4,237.8 499.4,239.1 496.8,240.2 517.4,230.6 500.1,228.7 511.3,218.6 497.4,240.4 507.3,225.5 495.1,241.5 492.4,239.3 500.9,225.6 490.0,240.0 487.5,230.9 501.9,240.4 500.4,240.9 501.4,228.1 503.1,225.4 494.8,241.0 490.7,234.9 496.9,240.6 490.7,240.8 499.2,236.1 503.7,239.0 495.8,241.8 502.6,237.6 497.6,238.7 486.7,214.4 507.6,231.2 511.3,219.9 483.7,231.9 488.4,230.4 481.3,237.6 508.7,229.8 499.8,227.7 500.3,233.9 491.5,230.3 502.2,230.6 509.6,223.9 506.2,219.1 475.2,231.5 499.2,230.9 494.7,240.6 496.7,240.4 483.6,235.5 491.0,239.9 488.8,217.7 499.3,240.0 497.4,240.4 503.4,223.2 503.5,215.1 501.9,238.7 482.1,227.7 508.8,226.3 492.6,238.5 501.7,219.5 489.8,230.7 479.8,233.5 501.0,229.7 500.1,226.9 488.1,231.0 494.4,239.3 495.1,241.1 510.6,223.8 481.6,238.1 478.6,215.7 477.2,222.0 483.2,228.7 494.4,240.9 489.4,223.6 501.0,232.5 498.2,241.3 498.1,236.3 491.6,237.6 495.7,241.8 480.2,232.2 500.1,236.7 488.6,230.4 496.8,241.1 499.2,240.0 490.2,229.2 478.1,230.8 492.6,239.1 501.2,233.7 495.3,241.7 489.3,228.8 502.7,234.0 494.5,240.0 498.8,233.6 512.3,224.0 496.5,240.6 501.2,220.6 497.8,239.7 501.2,236.9 493.6,238.9 497.5,240.1 497.6,236.4 481.3,217.0 497.6,240.9 499.1,238.0 496.4,240.5 500.5,233.1 518.6,227.7 496.1,241.7 495.4,241.7 488.1,218.7 503.4,212.5 511.2,209.4 497.2,238.4 487.9,224.7 502.6,222.8 502.2,237.6 504.0,236.6 491.4,238.8 501.7,223.1 488.1,233.5 489.0,239.3 497.3,241.2 500.4,237.8 496.7,241.2 489.1,238.6 489.2,239.3 495.3,241.7 505.6,223.6 497.7,240.4 488.4,224.6 499.5,237.1 487.6,212.9 501.5,227.4 492.3,235.7 498.5,233.9 499.6,236.2 494.7,240.4 506.9,238.6 491.5,234.7 497.0,239.7 498.3,239.9 501.6,228.6 501.1,229.0 491.3,238.4 497.9,238.8 502.1,219.4 506.0,224.5 496.6,241.2 501.4,222.1 474.7,226.6 496.2,241.0 492.1,240.1 489.8,233.8 494.7,241.4 486.8,214.9 495.8,241.7 505.6,208.5 500.9,228.5 498.0,237.6 488.0,228.9 509.8,233.0 498.5,235.1 504.5,223.2 504.9,232.3 494.1,238.8 490.4,239.3 496.1,241.0 502.9,222.5 508.4,218.8 496.2,241.4 495.0,241.2 496.8,240.1 497.1,238.9 485.6,230.6 485.4,233.6 496.5,241.4 501.5,228.1 503.4,230.1 483.5,220.6 501.3,236.5 492.0,237.3 491.7,240.7 516.6,228.5 498.8,238.7 484.0,224.2 507.4,236.6 507.9,224.8 500.3,240.1 503.9,221.6 507.9,229.4 512.9,221.3 485.0,216.7 490.9,232.5 505.9,235.5 503.5,210.5 494.7,240.2 490.0,237.0 492.8,236.5 496.0,241.2 497.8,237.5 502.5,225.8 484.3,234.7 495.2,241.5 503.0,232.7 499.0,232.9 493.5,240.3 481.5,230.8 512.2,219.7 497.8,240.4 492.0,237.2 486.8,238.8 498.1,236.7 498.1,237.3 503.1,234.1 503.6,234.3 485.1,221.6 509.8,230.6 490.5,231.5 502.8,223.0 496.0,241.6 488.7,238.8 513.1,211.4 499.2,237.6 496.1,241.5 496.5,241.1 504.2,210.5 494.6,240.9 504.8,234.7 503.1,237.5 481.4,226.0 492.5,236.2 505.7,218.4 492.5,236.3 498.7,234.5 500.1,235.1 492.1,232.0 494.6,241.2 501.1,226.7 503.6,231.3 495.6,241.9 492.7,240.7 493.2,235.7 500.3,233.2 500.5,227.7 499.1,234.7 506.3,226.9 511.8,213.7 500.9,225.6 494.9,241.1 507.8,221.8 496.5,240.1 511.3,217.3 494.4,239.5 483.2,236.6 501.4,226.7 487.4,217.4 494.4,240.1 498.5,235.7 488.7,219.2 494.5,241.5 493.8,241.3 483.3,219.1 481.9,219.3 500.8,231.6 506.4,209.5 502.4,230.9 490.0,238.7 512.4,231.8 494.0,240.9 503.5,212.3 492.7,235.5 506.5,220.7 494.4,239.7 509.1,232.4 503.9,220.6 499.0,238.3 488.8,220.4 487.5,222.4 489.3,235.6 514.7,211.5 507.6,210.7 491.3,234.8 502.5,223.5 499.2,231.0 497.4,241.2 501.2,240.1 501.1,224.4 487.3,228.4 504.0,211.4 497.7,239.5 487.2,224.8 482.9,227.0 493.9,239.6 489.6,224.6 489.8,228.3 495.5,241.7 491.0,231.0 499.6,241.1 491.7,237.0 492.5,238.5 502.9,222.8 493.1,237.1 502.0,236.7 499.2,234.4 502.0,218.5 506.8,238.8 500.2,228.1 470.1,227.0 489.5,234.1 494.5,240.0 496.2,241.1 493.1,238.0 495.9,241.5 508.1,230.2 512.2,223.2 518.9,213.1 489.8,222.3 497.7,236.6 503.1,223.0 498.1,237.6 489.0,232.7 500.3,226.6 502.1,226.9 484.1,216.0 478.8,216.5 500.9,237.6 487.9,227.9 489.0,234.5 488.5,240.2 488.6,238.4 503.2,220.2 496.6,241.6 493.6,240.8 492.9,239.9 492.6,233.7 510.2,226.9 501.8,239.0 497.0,240.7 506.3,208.3 496.8,239.3 486.4,211.8 494.2,240.5 489.8,238.2 508.9,214.7 479.9,229.6 500.3,240.7 497.4,239.1 501.0,231.7 502.1,237.3 490.2,238.5 487.3,221.5 502.2,218.5 491.0,239.0 493.7,240.1 488.6,217.1 496.4,240.6 497.2,240.3 501.8,226.5 489.5,231.9 502.5,229.1 492.1,234.9 504.6,227.5 490.6,226.5 495.2,241.4 496.7,240.5 510.4,225.5 511.0,210.2 495.0,241.0 502.1,236.6 514.8,209.3 485.7,232.6 493.8,240.6 495.1,241.4 500.6,238.1 504.5,213.3 495.9,241.7 494.1,238.4 500.2,238.1 502.0,235.8 494.7,241.1 501.0,229.8 498.4,235.7 483.9,226.0 499.1,233.6 487.2,226.4 507.1,222.1 513.2,225.9 490.9,230.0 490.9,236.6 500.0,233.5 506.3,219.4 496.9,238.9 495.6,241.8 503.1,218.5 484.8,224.8 481.5,211.3 508.1,208.7 505.5,209.7 511.5,215.4 497.9,240.7 483.7,208.9 509.1,225.7 483.3,219.5 484.2,230.9 491.3,235.2 502.3,232.7 492.1,238.8 483.1,211.2 506.3,215.3 489.3,240.4 497.4,237.2 485.8,223.9 493.5,241.5 481.4,227.9 497.5,237.1 484.7,219.4 494.4,240.9 509.9,210.0 502.9,214.9 488.0,220.3 499.7,228.0 519.1,218.8 497.0,238.7 481.2,220.0 493.5,238.7 500.6,235.3 498.8,238.0 491.7,240.2 510.5,212.0 495.3,241.7 489.5,224.6 503.7,228.6 496.0,241.7 487.5,211.8 491.4,232.6 494.2,240.2 489.8,240.6 497.0,239.0 499.6,239.5 480.1,218.0 485.8,209.1 495.7,241.8 503.3,232.6 499.0,238.6 469.9,219.8 490.1,226.8 492.2,233.0 501.8,234.6 483.8,212.8 520.4,226.1 490.0,236.3 486.6,221.4 497.8,236.2 487.8,231.9 509.7,229.3 498.7,235.3 498.8,235.7 499.5,237.7 502.8,222.7 484.6,212.8 499.7,239.8 500.2,238.1 502.6,225.3 503.8,213.5 485.8,221.1 498.2,234.5 487.3,211.8 489.7,229.4 489.8,238.4 492.3,240.7 504.2,212.5 481.2,212.7 496.4,240.8 510.8,227.0 489.6,238.0 501.5,226.7 495.2,241.6 486.5,228.9 497.6,241.4 484.3,215.1 509.7,222.8 486.0,235.2 493.8,240.5 489.2,221.8 494.0,238.1 502.6,231.6 492.4,240.6 496.8,241.4 482.9,238.6 500.5,238.4 489.5,229.3 491.2,236.8 505.6,216.6 494.7,240.5 501.3,228.1 495.8,241.6 507.0,225.4 485.8,210.9 492.0,238.9 501.9,225.6 496.5,240.4 479.0,236.4 499.1,238.0 491.2,237.9 489.8,221.6 512.5,235.8 495.4,241.7 490.4,225.0 501.4,223.2 505.4,221.2 507.0,212.3 502.3,230.4 495.7,241.8 492.8,236.8 505.8,221.7 504.3,211.2 501.2,237.7 504.7,226.6 487.2,215.6 497.4,238.3 497.6,239.0 494.7,241.7 518.4,222.4 490.8,240.7 495.0,241.8 513.8,222.9 501.5,231.4 499.0,231.9 503.0,217.8 517.8,224.0 498.4,240.8 498.8,233.5 495.1,241.3 496.4,241.1 479.9,217.5 491.3,240.1 520.0,234.2 498.2,234.5 503.8,224.4 497.0,240.4 488.7,229.6 494.2,239.6 490.6,224.9 486.2,224.8 498.2,241.0 495.1,241.5 499.9,230.2 498.0,238.7 498.8,238.2 504.1,238.8 499.2,238.9 499.3,232.2 499.6,234.3 502.4,225.9 502.3,219.4 497.7,241.4 498.8,238.6 492.7,240.1 512.2,234.5 492.6,238.2 501.8,236.9 500.2,230.4 507.7,231.1 497.9,235.3 501.9,233.3 504.6,213.6 513.5,209.8 482.3,224.1 490.6,232.6 480.8,222.3 498.3,239.1 488.5,217.0 495.5,241.8 501.3,239.8 489.6,239.5 488.4,228.5 495.3,241.6 501.1,230.7 487.0,209.8 492.3,237.6 497.0,239.0 494.4,239.3 502.7,239.1 502.0,240.1 496.7,239.6 503.5,219.4 508.5,208.6 488.4,228.1 512.0,221.2 502.4,236.9 495.9,241.6 489.5,223.9 517.7,229.2 492.3,235.3 505.6,224.5 496.3,241.0 483.1,221.7 502.2,221.1 491.0,239.1 498.2,235.6 496.4,240.7 486.8,215.3 491.5,236.3 496.2,240.9 493.9,238.2 499.4,238.9 490.4,230.5 503.3,236.0 505.1,229.9 489.5,231.3 500.3,237.6 496.9,241.6 504.8,209.3 502.2,235.2 494.8,240.9 490.3,240.1 496.8,241.6 504.9,219.1 493.0,240.3 494.9,241.5 504.4,216.8 503.2,233.3 506.9,218.8 508.7,229.9 507.1,211.4 494.5,241.5 509.4,214.9 497.4,237.2 518.4,218.7 504.6,235.9 500.6,224.3 473.6,220.6 502.5,225.1 503.4,214.9 505.1,208.8 504.4,221.0 495.4,241.6 483.8,232.2 490.8,229.0 499.0,235.6 486.3,235.6 495.2,241.5 491.2,233.3 496.2,241.2 492.5,232.9 519.6,208.2 500.7,238.9 504.0,226.7 501.3,236.4 493.4,239.2 488.0,220.9 492.6,240.4 490.4,232.2 487.8,234.9 498.1,239.8 480.6,213.5 500.1,231.0 495.3,241.7 493.0,236.4 487.2,235.7 503.7,214.3 509.5,228.4 501.8,237.7 488.5,236.5 513.7,229.4 507.1,227.1 502.1,238.2 488.4,234.7 493.5,240.7 488.9,228.6 492.7,237.6 487.7,228.8 502.6,234.6 512.8,215.8 504.4,217.5 499.0,233.8 489.6,233.7 490.2,228.4 487.0,221.8 500.1,237.5 495.0,241.6 506.2,216.8 498.8,235.1 485.3,216.3 483.4,219.5 494.9,241.7 496.3,241.2 492.0,237.9 472.5,231.8 501.6,218.9 494.5,240.5 497.4,238.5 495.5,241.9 497.1,238.9 497.7,237.9 491.5,235.5 488.9,226.2 502.5,237.2 488.2,234.7 508.8,219.7 492.0,236.4 505.6,224.7 492.7,236.2 504.1,222.8 489.9,228.4 510.1,216.5 499.7,232.0 483.8,209.8 503.1,228.3 485.8,211.7 491.4,228.5 504.4,238.3 498.8,240.5 488.8,220.5 504.9,233.4 492.4,240.2 491.1,240.9 508.2,215.6 494.3,241.5 486.2,235.5 499.1,235.6 498.1,238.3 487.2,221.0 500.0,237.8 502.9,221.9 499.8,240.8 495.5,241.8 493.5,237.4 498.3,233.9 512.1,226.7 503.9,208.2 503.5,237.6 495.6,241.8 487.9,230.1 495.4,241.7 490.9,235.5 498.6,241.3 496.6,240.1 512.0,211.8 503.6,219.2 493.7,241.3 497.7,237.2 485.6,224.9 491.4,236.9 492.9,234.9 493.0,234.6 490.1,233.4 498.0,238.8 498.5,234.9 499.8,232.7 492.7,235.6 511.4,235.9 493.3,236.1 491.8,239.5 502.3,240.2 514.9,223.3 511.5,221.0 503.6,233.9 502.7,240.0 502.5,221.6 499.3,232.3 500.8,228.7 499.7,240.0 491.2,238.2 485.8,216.1 493.7,239.9 494.8,241.2 500.6,236.5 505.6,235.0 493.9,241.5 499.0,235.7 497.3,241.3 500.7,223.3 499.4,229.9 481.6,224.3 502.9,229.2 502.8,239.5 486.2,211.5 495.3,241.6 492.5,237.0 490.3,229.1 503.0,237.7 494.3,239.7 495.0,241.4 494.0,241.6 489.8,225.3 491.1,234.9 487.6,230.5 508.6,210.3 496.5,241.6 493.8,239.7 499.7,238.7 488.5,236.1 519.7,219.4 495.6,241.9 503.6,234.1 490.2,226.3 491.5,236.8 504.5,230.3 487.1,234.1 501.7,231.6 489.3,231.3 517.8,221.7 503.7,216.9 501.8,222.2 493.0,236.3 486.5,231.1 483.4,220.5 494.3,240.1 489.0,221.8 501.3,237.9 497.1,238.6 495.9,241.4 493.8,238.7 499.1,235.8 501.0,222.4 494.3,239.4 491.3,236.9 487.4,230.5 489.4,230.8 492.6,234.7 498.9,240.7 483.7,233.5 500.6,231.6 509.3,221.5 497.4,240.1 505.5,227.9 487.1,224.6 488.0,223.6 487.9,226.4 512.5,226.3 496.3,240.4 493.5,236.6 490.4,230.0 496.5,240.2 490.4,232.4 497.0,240.1 509.3,233.2 503.2,236.6 492.2,232.1 497.7,239.1 496.1,241.3 497.3,241.2 511.4,227.3 500.5,233.6 500.7,224.9 508.7,228.6 490.0,239.4 494.8,241.0 493.8,240.2 481.2,227.9 492.7,239.5 485.1,223.7 501.6,234.6 492.3,238.0 508.4,233.8 500.3,232.2 501.1,229.3 493.9,239.1 504.2,221.3 506.2,213.3 490.6,226.8 505.9,225.4 500.7,239.5 496.2,241.8 515.8,218.0 492.0,232.4 488.4,236.2 495.0,241.5 503.5,228.6 493.4,241.5 498.1,238.1 498.1,238.7 490.8,228.9 503.4,221.6 501.0,233.0 500.7,229.5 506.6,232.4 487.2,215.1 490.3,223.8 497.7,240.6 487.0,208.2 484.5,237.1 498.9,237.4 503.2,211.4 488.1,214.0 500.3,225.6 497.8,236.5 503.5,231.9 501.4,228.2 501.4,237.2 491.9,231.7 496.1,241.6 500.5,235.8 504.7,211.8 498.3,238.2 491.1,238.1 499.2,232.1 488.9,217.5 492.1,235.1 491.0,226.5 488.0,227.1 497.7,236.1 486.5,233.5 496.9,240.8 497.5,236.8 504.5,238.6 496.6,240.6 504.3,237.9 513.2,223.3 498.9,233.3 502.8,222.2 474.6,228.1 489.8,240.3 501.8,239.7 502.2,228.4 497.7,240.5 498.5,239.5 505.5,223.6 503.3,239.0 499.0,239.2 495.5,241.8 493.5,238.4 497.1,239.9 498.6,238.4 500.9,235.5 503.3,236.8 512.4,231.8 509.7,211.6 487.2,210.0 490.3,224.2 497.6,238.2 492.6,236.3 494.0,239.1 490.8,240.9 498.1,236.8 502.6,233.5 487.6,213.0 497.7,237.7 507.7,223.0 483.6,213.7 502.7,235.3 486.7,216.8 487.4,214.5 507.1,234.8 501.4,222.7 494.0,238.9 499.5,234.0 494.9,241.6 490.0,222.9 493.5,237.5 495.5,241.7 482.6,213.1 512.0,215.3 497.6,240.4 493.6,241.2 494.2,238.6 497.5,238.5 480.4,211.3 489.0,232.4 484.3,235.3 491.3,239.7 487.8,220.9 503.7,225.3 496.6,241.7 502.3,234.9 500.1,239.7 494.2,239.7 512.2,215.9 502.3,238.0 492.9,237.1 482.4,213.1 501.5,240.4 485.1,215.5 483.4,216.4 489.3,236.8 489.8,221.5 496.2,241.0 495.7,241.8 497.5,236.8 490.4,239.9 500.1,227.6 520.7,213.5 503.0,227.0 498.6,236.2 500.6,231.7 510.2,218.9 489.5,235.6 496.0,241.6 486.4,235.1 497.2,239.4 484.1,215.4 486.7,237.3 482.1,231.4 494.3,239.2 500.0,229.7 488.2,235.4 491.9,230.7 503.3,228.5 496.7,241.6 494.5,240.3 495.1,241.6 497.3,240.6 494.5,241.6 493.3,237.1 491.9,234.5 513.6,218.9 499.7,237.1 503.2,214.3 495.6,241.9 504.8,213.4 481.5,217.2 499.4,233.5 505.9,234.0 503.8,220.0 486.7,237.8 489.3,236.7 491.5,229.1 493.1,235.6 486.6,222.4 499.3,235.1 483.8,211.2 488.6,233.7 504.7,237.6 504.3,213.1 495.8,241.7 499.2,233.8 497.2,239.4 506.8,228.2 515.0,225.1 496.5,241.2 493.1,235.9 506.3,229.5 470.4,211.0 500.2,233.4 499.5,239.4 502.1,235.6 494.0,240.9 497.4,237.9 493.6,239.9 516.9,214.2 497.5,237.0 505.2,236.0 497.4,238.5 498.8,239.6 493.2,238.5 497.2,239.9 505.1,216.0 516.4,221.6 499.5,233.3 493.8,239.9 498.9,236.6 492.7,234.2 510.9,233.0 501.9,224.1 489.2,219.4 496.4,240.2 510.5,219.4 497.4,241.3 497.5,240.3 497.6,237.1 491.6,234.2 515.2,224.5 494.5,240.9 495.0,241.3 490.7,228.8 497.8,237.2 494.8,241.5 499.1,241.2 506.8,230.5 504.0,217.4 493.4,239.0 494.1,240.5 501.6,237.4 491.5,239.0 494.9,241.7 497.3,241.5 491.6,240.6 489.5,223.4 491.4,236.5 492.0,232.8 492.9,236.2 494.1,238.6 504.6,232.9 488.6,230.8 496.2,241.6 492.7,239.8 493.8,241.0 495.8,241.6 481.3,225.0 506.8,230.0 494.6,240.6 480.4,221.2 505.1,216.6 481.9,236.9 510.0,222.2 486.7,239.4 488.9,220.6 488.2,215.0 516.3,233.5 494.8,241.5 504.8,217.0 494.5,241.1 494.1,240.4 495.5,241.8 495.7,241.8 482.7,213.5 501.0,225.0 494.6,241.3 490.6,233.8 501.0,226.8 489.1,228.7 494.6,240.2 488.3,221.9 504.7,232.1 490.5,238.7 499.6,229.1 511.0,221.5 500.8,234.0 500.6,231.3 489.8,234.9 503.3,219.6 513.5,226.8 498.2,239.0 491.1,233.6 506.9,218.8 505.7,209.1 513.6,236.2 490.9,228.6 481.0,209.1 508.8,220.7 503.0,224.7 513.0,234.8 497.0,239.0 499.4,233.3 497.6,238.1 508.9,209.9 499.6,231.4 497.5,236.9 489.5,229.7 486.7,221.4 493.1,240.1 500.1,236.8 491.6,239.2 500.0,239.5 491.7,231.9 492.8,238.7 497.6,238.5 484.4,220.6 501.6,219.1 498.5,233.1 502.7,227.7 479.6,213.0 496.3,240.7 513.3,235.6 497.7,236.7 494.7,241.5 491.0,236.8 501.8,233.9 507.9,225.3 496.2,241.7 492.8,241.3 490.0,240.4 495.4,241.8 481.2,228.3 496.5,240.8 494.3,240.6 488.5,225.9 494.2,238.7 495.1,241.5 490.1,234.1 502.0,231.0 497.0,238.3 509.8,216.2 511.4,231.5 505.6,231.7 505.8,229.5 504.4,224.2 490.0,237.2 484.7,215.3 507.1,216.8 489.5,237.9 499.8,236.5 498.4,238.4 499.4,239.1 510.9,217.6 493.7,238.8 490.8,226.1 505.6,217.6 519.1,210.2 497.4,240.6 511.5,210.5 495.9,241.5 491.3,240.0 476.2,223.5 494.4,239.5 487.2,229.9 500.6,231.8 502.3,220.0 493.2,240.4 494.7,240.3 488.4,238.3 499.6,236.1 493.6,237.4 499.8,239.7 496.5,241.6 512.3,215.8 508.4,211.0 487.4,237.1 496.9,239.4 505.0,219.3 496.1,241.4 501.0,229.5 510.7,229.3 507.0,210.7 500.6,237.5 505.2,212.2 495.7,241.8 510.3,224.2 495.7,241.8 500.0,228.1 504.5,231.5 485.2,231.8 495.0,241.2 505.8,216.8 495.5,241.8 503.4,214.4 496.5,241.0 478.9,215.6 491.7,238.5 504.8,215.4 489.7,226.9 499.4,234.7 514.3,235.4 496.3,240.8 507.6,229.6 483.1,229.0 499.4,229.0 493.3,239.9 510.6,213.5 495.8,241.7 488.1,222.6 508.4,234.3 501.7,223.1 498.7,240.0 510.9,224.3 499.1,237.2 499.1,234.4 491.4,234.2 490.3,239.8 492.3,240.1 502.8,220.6 489.9,235.6 493.9,241.0 496.6,239.6 487.7,211.4 500.3,229.2 490.8,235.8 493.5,241.4 491.0,233.5 505.8,220.7 502.9,214.5 500.2,232.5 492.2,237.6 500.3,229.8 497.7,236.6 498.7,235.4 502.0,237.4 504.8,215.3 491.9,232.0 493.7,239.5 514.8,221.8 491.5,240.2 493.1,237.8 491.6,232.6 499.2,233.9 496.7,239.6 522.0,222.4 494.9,240.9 488.4,224.9 490.0,240.7 496.4,240.6 509.4,213.5 485.2,210.8 497.9,236.3 502.8,239.9 497.6,241.4 490.3,231.3 492.5,236.2 495.0,241.7 497.6,237.4 506.2,215.2 486.1,215.1 498.2,235.3 487.2,215.2 509.3,220.3 491.5,229.5 507.5,219.2 511.6,214.0 503.3,210.6 501.5,219.9 497.4,240.2 495.9,241.8 495.8,241.8 479.7,231.8 494.1,239.1 502.4,237.1 511.1,210.1 488.5,218.8 510.8,226.2 491.2,232.9 501.1,231.9 478.3,228.5 493.1,235.4 506.8,230.9 510.8,210.4 497.7,237.5 489.4,221.3 478.1,212.0 501.8,224.6 497.6,237.1 493.7,240.6 481.5,210.9 495.8,241.7 500.9,235.0 480.5,231.3 501.7,225.6 500.6,236.7 486.7,216.1 507.2,217.7 487.5,216.8 493.8,239.6 488.6,224.3 503.5,217.8 505.1,234.1 493.1,235.9 497.2,237.6 489.7,233.6 497.4,238.2 502.8,239.5 512.0,237.1 497.7,238.5 498.9,233.2 496.8,241.5 493.4,240.0 490.6,230.0 482.2,211.9 490.3,227.6 509.5,210.0 496.6,241.4 498.2,239.2 493.7,238.2 501.5,226.6 498.0,234.8 488.9,232.8 520.1,224.7 495.3,241.8 509.6,223.5 487.6,236.8 507.5,236.2 506.5,228.8 503.8,208.8 495.1,241.3 510.3,214.4 501.5,239.8 514.3,223.6 495.6,241.9 487.1,229.1 487.5,228.5 491.5,237.0 490.5,240.5 502.4,237.0 509.5,235.1 494.1,239.7 501.0,233.5 486.3,234.6 501.9,228.9 500.1,232.4 489.8,232.0 500.6,231.0 489.4,223.1 489.0,222.3 499.5,240.2 490.8,236.6 508.8,238.5 500.0,228.2 497.7,236.3 495.8,241.8 499.9,238.4 490.5,225.9 486.8,233.0 495.2,241.4 503.6,234.6 502.5,230.9 488.5,239.5 500.4,232.7 482.4,213.2 499.5,239.7 496.6,241.1 490.4,233.2 491.4,233.7 495.3,241.7 488.3,239.2 490.1,225.2 508.5,208.9 503.8,239.6 495.0,241.4 496.0,241.5 502.0,216.8 497.6,238.2 485.1,230.4 507.9,236.7 510.8,231.5 493.7,240.2 496.6,239.5 492.2,235.2 487.5,223.8 504.5,238.7 493.1,236.5 513.0,216.4 514.2,233.9 499.2,230.2 497.1,238.8 501.5,231.6 498.2,236.2 500.0,235.3 477.3,236.2 505.9,221.8 503.9,228.3 502.1,220.3 495.9,241.6 489.7,226.5 503.5,231.2 502.6,215.9 500.0,234.4 490.9,233.0 497.8,239.9 492.4,233.7 494.4,241.0 512.5,221.8 487.4,220.2 493.6,237.4 501.2,228.1 483.2,235.8 486.9,213.2 494.3,240.1 492.6,238.1 494.2,239.6 486.1,218.8 486.3,235.6 490.2,235.7 504.9,221.4 488.3,224.7 494.5,240.5 488.5,232.1 499.2,235.1 503.9,236.9 490.3,239.2 503.2,223.8 495.1,241.7 504.6,237.9 469.6,226.8 492.3,238.3 497.3,238.9 499.6,237.5 508.6,234.5 503.1,213.1 502.9,232.5 496.0,241.7 495.3,241.7 489.2,227.2 504.7,211.7 494.3,239.5 507.5,231.2 503.6,233.2 507.7,221.9 503.1,221.0 502.0,234.6 484.4,226.0 482.6,236.2 499.2,238.6 496.6,240.0 512.0,216.7 487.1,237.0 498.2,240.4 485.6,214.8 502.9,228.0 484.0,217.9 485.9,230.2 486.8,239.9 495.6,241.8 499.2,238.9 495.1,241.7 498.9,231.1 498.8,237.9 489.8,224.7 488.1,237.8 502.9,232.6 493.7,238.3 498.5,238.0 490.9,235.0 485.6,213.5 507.8,211.2 492.9,237.6 488.9,231.8 500.1,232.6 493.7,238.1 495.0,241.6 488.2,220.2 504.3,212.8 510.3,212.8 498.7,238.2 491.1,235.1 494.5,240.0 493.8,240.4 490.5,231.6 504.8,221.8 498.4,235.4 493.0,238.9 514.3,227.7 502.3,217.6 502.9,212.4 506.2,229.5 492.2,233.0 489.6,222.6 487.0,219.5 490.9,231.2 498.8,237.3 493.5,240.6 506.7,226.1 500.1,239.0 493.5,239.2 509.2,219.9 500.4,229.7 491.5,232.4 499.0,231.1 497.1,239.0 494.3,240.7 498.1,239.8 495.9,241.4 493.1,241.0 489.8,238.8 492.3,232.3 500.3,233.0 500.9,239.2 501.6,236.7 504.8,228.2 503.7,216.7 493.5,240.0 502.9,236.0 486.8,221.7 496.3,241.1 489.6,226.3 505.5,236.7 478.3,222.4 500.2,233.8 492.4,236.8 498.2,235.0 486.6,229.5 498.3,240.4 494.0,238.9 492.2,233.6 507.6,230.1 498.8,233.2 496.2,240.9 494.8,241.3 492.1,236.7 480.7,225.0 496.7,240.7 497.0,241.1 502.5,234.9 496.4,241.2 498.1,240.0 487.8,235.1 490.8,234.1 494.6,241.0 501.5,226.1 494.9,241.3 506.9,217.7 500.8,223.6 504.6,232.2 519.5,232.9 483.8,219.8 486.9,228.7 493.6,240.1 500.3,230.8 493.6,237.4 493.0,235.4 491.7,235.8 492.0,235.6 488.6,239.5 495.8,241.7 491.2,233.9 492.3,232.5 502.1,223.5 494.0,240.4 493.0,237.7 489.6,228.2 498.5,234.2 497.0,239.9 495.6,241.9 489.3,238.9 506.5,223.2 508.7,223.8 487.8,223.9 508.3,217.3 498.0,238.4 500.5,229.8 494.6,240.2 485.1,231.2 502.9,221.1 495.3,241.4 506.4,238.2 507.3,226.1 500.7,225.3 492.9,237.2 506.3,232.2 489.0,223.3 477.4,220.7 495.2,241.6 502.9,228.9 506.9,229.6 500.8,237.2 520.2,223.2 500.0,227.4 496.7,241.0 519.7,219.2 501.4,222.9 502.1,236.2 477.6,233.5 488.8,236.4 499.4,240.4 494.7,240.7 500.5,236.5 502.7,225.0 495.7,241.8 497.5,239.5 510.1,224.2 501.6,234.4 489.0,228.5 503.9,220.5 485.5,218.3 495.9,241.8 495.6,241.9 488.5,220.5 488.8,222.6 506.3,236.3 497.8,238.6 508.2,223.9 492.6,234.9 496.1,241.0 496.2,241.2 489.7,232.4 501.2,227.4 492.3,238.8 488.8,227.3 495.9,241.8 497.8,241.4 488.4,219.7 501.4,231.7 497.6,239.4 495.5,241.8 496.6,240.1 497.8,237.8 506.6,208.2 509.1,231.8 496.2,240.7 494.4,241.5 498.9,240.5 489.1,219.4 498.0,236.4 503.0,232.8 496.0,241.5 494.9,241.1 499.7,229.9 498.5,238.6 501.7,228.3 496.5,241.2 510.5,220.7 507.2,220.6 493.2,241.5 492.9,239.7 504.8,214.6 496.4,240.2 495.7,241.8 485.7,218.3 498.5,240.0 500.2,229.3 499.7,232.0 497.5,241.6 501.3,222.7 495.4,241.8 490.9,237.2 492.4,237.6 488.0,237.3 493.8,238.8 484.6,235.2 504.9,222.8 495.7,241.7 490.5,239.1 486.6,239.2 505.5,218.4 493.2,236.3 503.2,237.0 501.2,223.3 497.0,238.7 495.9,241.5 498.9,232.4 496.4,240.7 505.5,213.4 499.5,234.9 491.1,237.5 497.3,240.2 502.0,222.5 500.8,226.1 498.9,234.6 508.9,212.2 488.9,225.6 507.2,216.1 510.6,221.4 493.1,240.5 496.3,241.7 494.8,241.2 508.2,234.5 509.9,208.6 502.4,221.2 481.3,232.9 481.7,236.5 485.4,231.6 488.4,227.6 502.8,230.8 492.6,235.6 499.0,237.4 501.9,226.8 503.6,222.1 507.5,229.0 501.1,234.9 494.5,240.8 487.7,226.8 502.3,218.1 511.5,208.5 496.3,241.2 514.8,224.5 508.5,225.5 502.8,222.4 498.7,234.9 489.4,233.5 505.8,236.6 488.4,223.6 505.9,234.8 490.7,237.3 496.3,241.0 486.7,209.5 492.3,237.3 492.3,233.8 501.1,238.5 516.6,212.7 474.7,227.0 489.4,238.5 515.8,231.7 489.2,219.4 492.0,237.1 505.3,214.9 488.6,227.0 489.0,233.4 487.5,229.6 496.9,240.8 490.6,238.9 501.1,240.0 500.2,227.3 495.9,241.6 496.0,241.6 494.0,238.3 496.7,240.1 491.7,233.1 498.7,240.4 492.0,233.7 497.3,240.0 490.3,230.5 502.1,237.6 501.9,228.0 498.8,240.5 490.4,227.1 484.4,238.2 482.2,208.3 492.3,239.3 502.8,213.0 495.8,241.7 495.6,241.8 510.4,212.0 486.1,226.1 493.9,239.8 494.3,239.9 488.7,219.7 491.4,235.4 504.5,216.8 515.6,233.8 496.8,241.4 486.1,214.6 496.7,239.8 494.9,240.9 497.2,238.4 503.6,212.4 489.6,226.0 487.3,217.9 498.6,241.1 490.6,231.4 499.1,233.8 492.9,238.0 493.8,238.7 484.8,238.5 503.0,213.7 503.0,238.9 495.1,241.1 509.5,212.9 489.9,231.9 510.2,228.9 501.6,228.7 491.2,231.7 497.8,236.8 493.6,238.0 496.2,241.6 503.1,217.9 487.5,233.4 493.3,238.0 496.3,240.6 501.5,224.6 499.1,238.9 494.2,241.7 511.5,216.1 498.8,231.9 484.4,234.9 495.2,241.5 505.9,229.0 488.9,225.4 488.4,217.5 491.7,238.7 505.2,217.4 502.8,220.8 487.0,227.2 504.8,217.8 494.3,240.3 503.0,228.0 495.3,241.5 503.0,236.1 503.8,229.8 492.2,239.4 482.1,221.8 501.8,238.6 505.1,227.7 489.9,222.7 498.1,238.8 493.7,237.5 492.2,239.4 496.4,241.7 499.3,234.7 499.7,238.2 490.0,228.9 490.2,232.2 496.5,240.2 487.7,222.7 498.6,236.7 489.4,220.8 499.4,236.8 491.5,232.1 495.9,241.4 488.2,219.1 486.2,215.6 505.6,237.2 493.5,238.3 512.0,236.0 503.6,240.0 498.8,232.5 490.7,236.5 506.4,218.9 503.3,239.9 501.1,237.6 500.8,234.0 497.8,236.9 511.6,233.4 490.7,238.7 496.7,240.1 504.3,218.7 488.1,218.6 491.1,228.9 488.7,225.0 499.6,229.6 489.9,229.3 494.1,238.3 497.3,237.6 489.6,232.2 503.7,221.8 503.8,230.3 503.1,237.4 502.6,229.8 497.5,237.6 500.1,230.1 490.8,232.6 492.5,235.0 520.1,234.5 495.6,241.8 491.8,230.3 499.8,238.0 502.1,222.0 491.5,238.4 499.8,231.8 512.7,227.5 502.2,216.2 506.1,220.4 481.5,236.0 495.5,241.9 516.5,235.3 506.9,219.8 502.7,218.8 494.1,240.4 505.0,221.9 501.7,237.2 497.0,238.6 485.1,229.6 486.4,216.5 499.6,239.1 497.5,239.9 489.3,235.8 501.1,237.4 493.7,239.0 495.4,241.8 490.2,226.9 510.3,228.1 488.7,230.6 496.0,241.6 503.5,233.2 489.6,229.7 499.7,237.3 488.7,219.2 494.7,241.7 496.8,240.9 503.5,210.6 493.1,238.9 519.0,228.1 510.6,230.7 517.2,208.3 493.8,240.5 490.6,226.7 521.7,230.3 502.8,222.7 497.0,240.4 497.4,240.2 499.5,229.1 489.1,233.5 505.6,223.2 488.8,240.0 491.6,238.6 491.7,231.1 496.4,240.7 489.3,226.5 496.6,240.6 487.8,217.5 505.4,225.8 495.4,241.8 497.1,240.6 499.4,231.1 488.5,221.4 505.4,220.4 499.9,237.6 484.3,216.8 504.6,237.8 501.0,224.3 508.7,215.5 487.0,218.2 489.4,224.1 485.0,208.7 488.4,231.6 498.9,239.7 493.5,240.1 500.7,232.8 501.2,228.9 502.4,218.1 493.3,238.9 504.5,229.0 498.1,234.4 492.9,240.4 505.9,220.1 513.5,219.9 509.7,212.4 480.6,234.1 497.3,238.4 499.2,240.8 503.2,225.8 499.9,227.6 494.8,240.9 490.7,230.9 472.0,213.6 503.0,226.3 489.9,228.7 506.8,217.8 506.8,223.5 500.5,240.3 502.1,239.7 489.2,220.2 495.1,241.3 499.4,230.8 495.0,241.7 500.8,233.0 481.2,211.0 485.7,232.1 504.5,239.6 478.9,225.4 501.6,231.0 491.1,227.3 507.8,230.1 496.4,240.6 500.2,228.5 503.0,215.2 503.9,227.9 488.0,225.2 505.1,219.6 495.0,241.4 503.3,217.1 506.3,224.3 486.0,215.3 488.4,219.7 514.7,218.8 501.0,235.3 494.1,239.2 488.2,225.2 490.2,233.7 492.9,239.8 493.9,239.4 489.8,227.2 494.4,240.6 491.2,231.6 506.5,238.5 502.9,239.8 495.3,241.8 503.3,212.0 498.5,237.2 491.0,229.2 495.9,241.7 503.2,218.6 488.4,236.7 501.1,225.1 490.6,239.2 506.2,233.9 488.0,238.5 493.1,236.1 499.7,230.2 492.3,232.5 498.1,235.0 497.5,238.2 509.7,227.7 505.7,215.8 498.6,235.7 501.3,235.7 498.1,236.3 488.6,218.5 502.1,224.9 497.0,240.8 508.6,211.8 508.4,224.9 502.1,235.0 503.4,224.1 496.8,240.7 495.8,241.7 493.1,236.3 494.1,239.2 495.0,241.4 491.9,238.8 497.4,237.9 506.5,210.3 498.8,237.5 499.6,231.9 502.0,240.4 488.2,236.9 507.7,226.7 488.8,230.9 495.2,241.5 488.0,237.7 489.3,237.4 496.1,241.4 505.3,220.0 488.1,225.9 493.1,237.2 480.4,233.3 494.9,241.7 484.3,229.0 494.2,239.0 491.2,229.1 513.2,209.9 503.8,217.7 498.2,234.3 489.7,221.8 505.3,232.7 501.5,237.7 502.1,237.0 495.0,241.6 503.1,218.5 493.2,237.6 470.9,211.4 518.2,230.8 500.3,233.0 504.8,209.1 498.6,236.7 483.5,223.2 487.6,226.9 498.4,238.0 486.6,213.4 490.5,230.7 490.9,228.3 485.3,218.0 496.9,239.1 516.9,226.3 503.0,212.5 514.9,234.1 497.0,241.6 482.1,210.7 501.3,225.1 498.4,237.4 486.5,215.4 500.2,239.6 499.4,231.3 493.7,237.4 505.5,238.5 501.6,230.8 490.6,225.6 486.0,211.0 500.8,225.0 492.8,233.9 502.1,225.9 491.1,238.4 485.0,220.4 508.0,231.7 500.7,227.2 485.7,235.4 492.8,241.1 487.4,220.9 495.8,241.8 495.8,241.7 509.8,213.5 485.2,232.4 502.5,235.6 502.1,236.7 493.5,238.8 503.5,236.4 482.2,209.7 501.5,231.5 511.0,213.1 501.9,221.1 511.6,223.6 516.2,214.7 495.7,241.7 510.5,211.9 499.7,233.4 500.4,226.1 486.5,222.6 500.6,223.9 504.4,225.1 498.5,237.9 503.5,239.9 494.6,239.7 494.7,240.7 484.3,229.8 492.2,236.0 507.8,238.0 479.9,212.4 500.4,229.7 499.4,240.4 500.6,239.8 494.3,239.9 488.1,226.1 501.0,224.5 495.2,241.5 499.3,240.4 501.2,227.2 499.1,240.7 499.5,233.7 500.1,233.2 497.7,237.8 519.0,225.5 512.7,209.3 510.4,208.9 495.3,241.5 497.3,241.1 496.8,240.5 513.9,223.4 495.4,241.9 500.9,226.8 505.8,216.9 486.5,216.5 495.8,241.7 492.4,236.1 496.6,240.7 497.4,240.2 483.7,228.6 499.1,230.9 485.5,226.4 492.0,238.6 499.9,239.3 479.1,210.4 506.1,237.4 495.9,241.5 494.5,241.5 491.3,238.3 505.3,228.6 490.0,224.0 490.7,237.0 489.1,222.3 489.3,231.6 512.6,209.2 491.3,228.1 511.5,212.1 485.5,239.2 492.5,237.6 500.8,234.5 503.8,237.9 473.3,209.3 483.6,234.6 496.2,241.0 496.1,241.8 477.8,230.9 506.4,222.9 501.8,233.6 497.1,240.7 492.2,232.5 501.5,235.9 494.3,239.6 504.3,227.9 500.4,229.8 502.9,235.7 499.8,240.0 504.3,216.1 495.9,241.7 496.5,239.8 500.4,228.2 490.2,223.0 508.1,208.3 495.5,241.8 496.3,240.5 502.4,217.9 501.8,238.6 507.3,219.0 479.5,234.4 494.4,239.3 509.7,219.4 498.9,232.0 499.5,237.3 488.8,225.0 510.4,232.4 481.1,211.5 478.9,236.1 471.0,226.5 499.4,234.2 491.1,237.1 510.6,223.8 488.3,223.2 494.7,240.1 501.5,229.5 494.8,240.9 497.4,240.9 501.4,234.3 489.1,219.4 517.7,217.4 478.0,236.0 490.2,232.2 507.4,226.0 485.4,232.3 492.7,240.7 516.7,229.5 494.1,240.6 492.8,238.5 481.6,222.4 495.9,241.7 507.7,210.3 484.7,218.1 487.2,232.2 500.9,239.8 502.2,222.7 500.3,226.9 492.5,234.8 487.1,227.8 498.9,231.5 493.8,239.6 488.6,231.0 487.9,233.6 497.2,237.8 489.6,224.8 494.5,240.9 492.6,240.9 496.8,240.7 496.6,241.7 494.0,240.3 510.9,230.6 487.0,231.1 496.0,241.4 490.0,223.0 502.7,227.3 499.9,235.6 495.7,241.8 497.9,241.4 490.1,234.0 493.9,239.8 505.2,230.4 509.4,236.4 489.6,230.1 498.1,235.7 490.1,238.1 496.5,241.0 501.3,229.3 492.2,237.5 503.3,234.0 507.3,231.9 497.3,241.6 505.9,222.7 487.2,209.0 502.2,218.9 496.2,241.4 481.1,216.6 494.4,239.9 503.1,226.8 490.9,234.2 487.8,235.3 504.9,210.6 497.7,240.0 501.5,233.0 490.8,237.1 489.4,236.7 494.7,241.3 496.4,241.1 503.4,211.9 481.7,234.6 488.6,222.4 504.8,223.4 487.7,215.6 502.8,215.9 499.6,239.2 496.6,241.0 496.0,241.4 500.9,235.4 494.0,238.4 487.2,211.7 509.9,232.8 494.9,240.7 494.9,241.5 494.2,240.8 492.3,233.3 497.9,237.2 500.8,224.6 499.2,239.1 510.3,218.4 497.6,238.0 499.6,236.9 509.1,234.9 487.7,215.7 497.4,240.1 497.2,240.7 502.3,225.3 480.8,234.4 507.5,213.6 502.0,222.4 491.3,230.9 505.4,237.1 513.9,216.1 512.7,232.9 493.4,239.4 503.1,232.8 505.8,217.0 493.2,241.2 476.7,211.8 478.3,226.7 490.7,230.4 498.2,235.1 497.0,240.3 496.8,240.6 489.6,225.6 493.9,240.7 495.1,241.4 488.9,219.5 484.9,231.6 506.4,226.1 503.5,216.1 499.4,232.7 498.6,237.9 503.7,215.6 503.1,214.4 498.1,237.7 502.8,223.5 489.9,240.6 488.4,233.7 489.9,239.3 494.9,241.7 496.8,240.5 489.2,223.1 504.3,230.2 494.5,239.9 473.3,226.3 497.1,238.4 480.5,232.0 496.1,241.0 486.6,237.6 495.0,240.8 508.5,214.0 509.8,226.8 492.4,237.3 501.7,237.1 504.4,223.5 495.3,241.7 495.0,241.8 495.2,241.8 501.7,222.6 503.2,222.9 502.9,227.4 498.9,237.5 494.7,241.0 494.9,241.0 504.4,221.8 490.7,226.0 476.8,223.9 515.1,222.1 500.0,233.4 495.0,240.9 503.6,237.4 503.6,222.0 488.9,218.4 489.5,237.0 482.8,216.8 493.6,241.4 500.6,234.0 492.8,238.7 492.8,240.5 497.9,236.5 498.0,235.1 494.9,241.8 490.6,229.6 500.9,231.0 506.3,211.5 504.9,225.0 513.0,230.3 494.1,238.4 500.2,233.7 479.1,233.6 519.6,224.8 497.8,239.2 502.9,238.4 487.9,235.2 492.4,235.0 472.9,222.3 499.1,239.0 485.9,232.2 502.9,231.4 490.6,237.7 492.9,234.8 492.2,233.7 495.9,241.8 488.8,235.1 507.8,223.8 501.9,218.6 506.8,221.7 496.7,241.3 496.8,240.2 497.0,239.8 495.8,241.8 497.3,239.7 490.6,233.3 515.4,212.0 501.1,234.0 488.7,222.8 491.9,237.2 496.3,241.2 502.9,216.6 513.3,219.9 494.4,239.3 496.0,241.6 490.1,236.1 497.7,241.5 484.6,236.7 495.3,241.8 491.0,236.8 500.4,231.9 504.0,233.7 497.0,239.3 478.7,220.1 502.3,222.9 513.0,227.6 500.9,240.3 490.5,233.4 492.2,231.8 498.2,240.2 508.1,228.4 498.1,237.3 505.0,222.0 484.0,215.8 490.8,236.1 488.0,231.8 514.4,220.8 486.6,214.5 479.6,223.9 494.7,240.4 493.4,237.8 505.1,230.1 495.1,241.6 492.9,237.0 508.0,210.8 505.0,227.5 503.3,229.4 496.7,241.6 503.4,226.6 485.3,224.0 498.4,238.4 503.9,215.7 506.2,220.7 489.6,224.2 497.0,239.3 500.6,232.0 483.8,218.6 507.3,216.6 491.1,238.6 496.6,241.7 502.0,227.4 491.5,231.3 503.6,237.4 496.4,241.7 498.5,233.8 481.7,209.7 496.3,241.0 501.0,235.7 506.5,227.7 485.4,228.7 492.7,237.2 492.9,235.0 504.4,212.6 498.7,240.6 496.2,241.8 493.0,239.3 500.5,228.1 501.9,223.3 501.4,221.4 499.7,231.6 505.1,225.7 499.0,239.0 486.9,214.5 498.8,232.6 478.6,220.5 498.1,238.8 488.7,225.4 499.2,233.9 499.0,232.7 492.5,238.6 494.7,241.2 510.1,220.4 505.7,222.4 500.8,224.7 505.3,231.0 504.5,231.7 503.4,224.5 489.0,238.8 499.2,234.8 490.5,238.6 499.1,233.5 492.1,236.5 503.6,220.6 499.5,230.0 496.4,240.6 503.1,213.7 510.1,225.3 505.7,219.7 498.4,233.7 489.3,233.8 512.3,221.0 497.6,237.0 496.2,240.8 510.5,224.1 502.6,235.7 513.8,214.8 497.3,241.3 491.5,233.8 497.8,237.0 511.0,211.6 507.5,233.7 496.0,241.7 502.3,217.9 490.9,226.1 480.8,220.6 491.8,237.6 486.6,211.0 500.4,233.1 500.4,233.0 500.9,228.3 494.1,240.1 490.8,225.8 490.6,230.5 480.2,216.9 506.1,232.0 490.4,235.8 499.8,228.6 491.5,236.6 472.7,223.0 484.8,230.3 497.7,240.7 501.7,227.6 503.9,211.6 493.1,235.8 490.2,224.4 509.5,214.7 504.2,233.7 497.4,239.2 500.9,228.7 498.9,238.9 498.7,235.5 492.5,239.9 501.6,228.1 498.6,235.6 506.5,234.5 501.6,219.9 492.7,234.5 490.8,226.5 509.7,225.2 492.9,238.3 510.1,235.0 495.6,241.8 498.6,237.3 491.0,228.8 499.4,240.6 499.1,240.3 490.4,223.9 498.5,239.1 490.5,230.3 503.8,232.5 505.5,213.1 506.3,228.7 497.6,240.8 498.9,240.8 486.8,217.4 499.2,236.1 499.7,232.3 507.2,222.3 487.8,212.9 490.5,239.1 496.1,241.1 501.9,227.7 493.2,240.7 489.0,238.0 489.1,234.9 493.2,241.0 485.3,213.3 481.6,229.5 498.9,233.5 497.4,240.5 493.9,238.9 498.7,239.7 506.1,220.9 492.4,237.1 490.1,234.6 495.1,241.3 498.5,239.2 488.2,216.5 506.0,208.2 481.7,210.7 500.8,231.6 492.0,236.5 497.2,239.6 488.3,232.4 499.9,233.5 488.4,217.1 487.7,224.9 479.3,212.4 503.0,218.5 498.7,236.9 496.2,241.4 499.5,231.6 495.1,241.3 501.3,230.8 504.1,234.9 486.9,209.7 502.3,235.3 496.6,240.9 496.2,241.5 500.1,227.7 497.0,239.5 499.2,238.1 487.5,222.5 494.7,240.9 495.1,241.8 497.2,241.1 503.5,222.0 501.7,220.6 495.1,241.3 503.2,239.8 498.7,237.7 490.3,236.0 493.1,238.7 493.7,238.6 493.5,239.4 495.4,241.8 497.4,241.2 500.7,236.1 478.4,209.2 501.3,232.8 501.4,223.1 503.4,232.4 486.6,231.5 497.4,241.3 495.7,241.7 486.2,234.0 508.7,235.0 495.3,241.5 503.0,217.7 507.3,213.9 501.0,236.0 492.2,235.3 496.6,240.6 489.3,237.7 503.5,229.8 493.9,240.5 485.1,220.5 498.2,240.9 504.0,222.1 482.2,232.1 490.8,230.3 499.3,230.6 489.9,233.8 489.7,223.4 503.6,236.0 491.3,231.2 480.0,210.9 493.0,235.9 495.9,241.8 489.0,238.1 501.4,235.5 499.5,232.7 494.4,239.7 497.7,238.4 486.2,235.2 503.0,226.3 484.5,209.3 499.3,234.5 505.6,220.9 493.9,238.3 490.8,233.0 492.4,234.4 497.3,239.9 498.8,239.1 492.9,236.1 500.1,236.0 489.3,231.8 491.1,236.7 507.8,208.8 502.7,216.7 494.7,241.5 508.2,212.7 489.2,228.5 515.5,230.4 502.6,231.3 495.4,241.8 489.4,227.2 494.2,240.3 492.7,235.0 494.6,241.1 517.9,226.9 496.3,240.7 478.5,230.4 498.4,235.5 492.7,234.6 499.6,235.5 492.2,235.0 493.8,240.8 495.5,241.8 503.7,239.7 492.2,237.2 500.3,229.5 491.5,235.1 507.4,221.1 501.8,238.9 489.9,223.6 506.3,231.8 493.6,240.0 499.1,239.2 492.0,239.9 500.4,225.2 475.6,224.9 480.4,223.1 500.2,240.3 501.1,231.3 491.2,233.7 498.8,231.9 496.1,241.4 510.4,211.1 499.2,233.2 504.3,218.5 500.9,225.3 502.9,238.6 495.6,241.8 489.0,227.8 503.2,214.1 492.3,233.3 487.5,217.2 485.9,237.7 499.9,234.8 496.8,239.8 499.9,231.2 507.7,231.0 503.9,228.9 519.7,223.0 497.2,241.1 489.4,226.7 496.7,240.7 502.0,239.0 481.9,226.9 514.6,219.1 488.9,224.7 499.0,235.5 504.5,228.8 504.9,222.4 485.7,214.2 499.1,235.7 497.4,241.5 494.3,241.2 500.1,241.0 500.8,232.1 502.7,229.1 490.7,240.7 493.6,239.1 499.8,235.1 490.1,238.4 488.8,218.9 491.8,238.2 492.1,235.0 496.5,240.1 490.5,234.4 491.7,230.7 478.4,211.3 500.8,238.1 506.8,237.9 497.5,239.8 493.5,240.1 493.5,237.9 497.7,237.4 480.4,230.1 491.6,235.8 493.0,236.0 485.2,225.6 488.9,217.2 500.9,229.7 503.6,217.1 494.9,241.7 508.7,235.3 488.3,229.7 504.0,229.2 498.3,241.3 501.3,228.6 487.3,209.8 505.2,214.1 505.6,237.9 491.3,231.6 492.5,234.7 493.8,238.2 488.9,236.0 504.6,238.8 480.2,222.3 493.9,238.4 497.9,241.1 483.8,226.0 497.0,241.3 498.6,238.2 490.3,231.1 505.1,228.5 490.4,229.8 503.5,218.3 502.9,218.7 498.1,235.3 499.5,240.0 498.5,239.4 497.5,237.5 492.1,235.7 506.5,221.0 498.0,236.8 485.0,216.2 485.2,234.1 496.0,241.5 507.2,227.0 494.1,241.5 490.6,232.5 496.5,241.3 490.5,224.9 495.2,241.6 493.4,237.7 482.4,223.4 501.7,232.5 504.4,221.7 495.3,241.5 499.0,232.7 511.5,213.8 504.2,232.1 500.0,236.7 509.3,210.0 494.1,239.8 506.3,216.9 496.7,239.7 505.4,232.3 487.2,239.4 507.9,231.5 491.3,230.9 495.0,240.8 487.6,229.3 476.8,227.4 496.8,240.0 496.9,240.4 496.1,241.6 498.9,231.7 498.3,237.0 482.4,236.3 502.0,240.2 479.8,231.2 498.5,240.8 497.5,239.1 495.4,241.8 498.0,239.2 500.1,230.3 482.6,238.6 495.0,241.2 515.4,214.4 487.0,235.7 502.2,220.2 506.2,223.5 500.9,233.1 495.8,241.7 494.8,240.5 498.0,237.1 478.3,224.0 502.3,223.6 491.9,237.3 499.7,231.5 516.4,232.0 491.4,232.2 491.8,231.9 491.8,231.0 486.7,229.3 489.6,233.4 494.1,240.4 504.1,225.4 496.7,240.9 487.3,227.9 499.4,233.3 506.3,226.7 488.9,237.2 504.8,221.4 489.6,232.1 501.4,235.5 500.0,240.1 485.5,219.2 496.6,241.5 489.3,221.3 498.8,240.9 489.7,234.3 478.7,220.8 499.3,230.2 490.3,237.4 499.6,230.9 496.4,240.6 503.8,226.4 502.5,236.5 512.5,220.7 496.9,240.9 503.0,226.6 491.7,239.3 500.7,233.3 496.0,241.5 506.8,216.9 494.1,240.7 499.3,235.7 489.8,228.1 496.9,238.8 484.6,236.6 507.9,232.7 495.4,241.8 496.1,241.0 497.9,238.4 490.0,240.7 501.0,229.1 493.3,236.5 492.3,234.4 487.3,224.6 508.8,223.8 504.0,237.4 508.6,221.3 493.5,240.1 511.5,208.5 517.7,224.4 513.5,225.0 483.4,209.6 499.4,235.5 492.3,231.9 500.7,239.0 497.6,240.5 482.0,225.3 505.5,224.8 487.1,211.4 499.6,233.6 482.1,215.8 492.2,231.9 502.7,220.2 491.4,232.8 506.8,234.8 495.5,241.8 494.8,241.4 504.7,239.1 484.4,228.3 514.6,221.2 490.9,235.0 498.7,234.0 494.4,241.2 506.4,209.8 490.7,240.5 491.0,235.7 505.4,217.8 496.9,241.5 493.2,241.3 502.7,213.4 487.7,212.1 504.8,224.8 496.7,241.4 502.4,238.9 486.5,216.4 488.4,232.1 495.3,241.8 505.2,214.3 488.2,227.2 510.8,210.8 497.6,240.7 497.9,241.1 506.6,225.5 501.9,228.1 491.0,227.7 499.8,240.6 513.2,236.1 499.9,237.4 498.1,236.3 489.1,233.4 502.0,238.4 500.6,224.0 487.6,234.0 486.9,223.5 502.0,227.2 505.0,210.3 484.3,230.1 495.9,241.7 503.5,213.8 495.8,241.7 479.9,228.7 480.8,215.0 499.7,235.0 488.2,240.2 506.3,223.8 485.4,231.6 484.9,211.2 497.1,238.1 488.7,237.2 483.6,221.9 493.5,238.6 515.1,218.1 493.5,237.4 499.5,240.5 489.6,230.4 512.2,215.6 500.5,229.2 475.4,216.0 504.7,223.8 494.0,238.8 501.2,238.2 494.0,240.8 505.5,214.4 501.6,227.3 510.9,228.5 501.1,221.2 498.6,234.4 503.4,229.6 506.4,215.7 499.9,230.7 496.9,240.5 497.6,239.3 503.2,225.5 497.7,241.0 492.3,237.8 511.3,210.0 507.1,223.4 504.4,212.8 494.8,241.1 501.3,240.5 493.3,237.1 483.6,231.0 484.8,210.2 493.4,237.1 498.6,239.0 499.7,232.1 496.6,240.9 483.5,212.0 507.8,233.1 505.3,220.1 490.0,232.8 490.4,229.1 479.4,216.3 477.5,235.4 499.5,234.5 494.2,239.5 503.0,220.3 485.7,212.8 491.8,230.7 489.4,222.4 487.3,211.8 503.5,223.1 486.6,230.1 497.8,240.7 512.7,230.5 493.6,238.9 505.8,209.3 498.0,238.5 490.6,233.2 494.6,241.0 492.5,238.1 495.5,241.8 505.8,236.4 495.1,241.5 499.4,230.1 502.0,225.0 489.9,234.3 498.9,236.7 491.5,240.5 492.3,237.6 504.2,235.3 491.7,238.9 491.2,227.9 492.9,237.0 495.5,241.8 487.3,238.4 501.4,228.6 490.3,234.6 491.1,231.3 495.1,241.3 503.3,239.3 485.9,216.7 509.8,232.8 501.5,223.4 498.1,237.5 501.7,222.7 487.4,228.1 482.3,233.0 508.3,226.3 490.0,234.4 498.8,240.9 493.4,240.2 507.9,222.0 489.0,233.5 498.3,239.9 496.2,241.0 502.9,238.1 486.0,225.3 494.0,239.4 502.7,229.5 502.6,237.9 484.1,232.8 485.1,217.0 493.0,235.7 502.7,234.1 492.4,234.6 504.5,208.8 501.9,218.3 489.7,232.4 490.8,229.4 491.1,236.7 507.4,235.3 486.5,232.9 487.3,234.0 491.1,229.6 501.1,238.9 484.4,224.0 505.8,234.4 489.7,229.8 498.9,237.4 493.6,241.2 497.4,237.7 513.0,208.9 483.8,230.1 502.5,231.8 508.2,213.2 505.0,230.0 494.8,241.4 490.5,236.6 490.8,232.3 522.4,231.2 503.7,221.4 487.8,232.9 482.8,224.9 486.3,234.2 473.6,227.9 493.1,236.6 491.0,231.6 503.7,225.7 494.9,241.7 503.8,235.9 504.2,212.9 505.0,209.5 502.8,234.5 502.7,215.2 480.9,226.9 520.9,211.4 493.1,236.5 489.7,231.1 514.9,216.1 492.1,232.8 493.4,240.2 488.5,218.8 501.4,223.7 489.4,240.6 494.6,240.6 497.2,240.7 500.7,226.8 489.4,240.3 479.7,236.8 502.9,220.4 488.8,228.0 503.7,214.5 499.8,232.0 484.2,218.3 500.9,235.0 511.7,217.1 498.8,239.4 502.9,229.6 504.4,228.0 491.5,229.3 500.1,228.3 505.2,214.8 486.6,216.6 502.8,228.1 500.7,228.7 499.5,240.9 486.2,217.4 510.4,218.6 502.3,222.3 497.8,240.1 491.1,239.1 489.3,229.8 479.5,213.0 491.4,228.4 497.9,239.8 504.3,216.4 505.5,213.8 490.8,229.0 519.4,226.3 497.4,237.8 499.6,230.6 491.2,238.5 501.3,228.3 502.4,219.4 511.9,209.9 493.4,240.1 487.1,212.8 488.9,226.7 503.8,209.0 508.5,233.5 490.5,227.7 499.9,231.8 502.2,229.7 496.9,239.5 495.5,241.8 495.2,241.7 500.3,239.1 489.7,223.2 489.5,223.8 499.6,239.7 492.8,237.3 499.1,233.7 492.9,238.7 500.5,226.9 488.3,227.1 503.2,215.4 499.1,230.8 493.6,241.2 505.8,236.8 495.0,241.6 493.9,240.1 497.0,241.0 495.7,241.9 512.3,235.1 482.1,224.2 492.1,233.2 488.0,228.3 500.3,227.1 498.9,241.2 496.8,240.8 497.2,240.8 506.6,224.0 487.3,223.3 505.3,212.5 493.7,239.2 493.4,237.0 496.7,241.3 503.2,220.5 501.2,232.6 495.3,241.5 496.5,240.0 498.7,236.3 510.7,210.4 496.7,240.7 506.4,212.0 503.5,213.2 486.1,229.2 497.8,237.6 494.8,241.8 509.6,213.1 487.7,225.6 494.7,239.9 498.0,238.8 491.2,237.5 495.6,241.8 501.1,221.5 495.6,241.9 491.1,240.6 499.4,229.4 491.7,235.8 486.4,228.7 496.4,241.1 492.5,240.0 522.9,225.8 486.3,208.8 509.0,230.6 491.3,228.3 494.8,241.1 493.4,237.1 498.0,237.1 485.4,214.1 497.3,241.3 487.7,224.9 505.4,224.7 501.9,229.2 502.8,233.2 506.8,223.5 499.2,238.1 495.1,241.5 498.3,239.9 502.1,228.8 493.6,236.8 503.5,226.9 494.7,241.4 502.5,215.6 522.3,225.7 488.3,218.8 490.0,226.2 491.8,233.4 496.5,240.1 503.5,226.4 492.1,232.8 488.7,223.4 494.2,240.4 484.5,213.9 509.0,223.8 488.8,236.2 486.4,226.0 485.7,232.4 500.7,237.7 494.8,241.6 494.4,240.7 495.5,241.8 479.0,212.5 494.8,240.6 493.0,235.6 497.2,240.4 506.2,235.5 501.8,228.6 496.3,241.3 503.5,215.2 500.6,236.4 516.6,226.9 512.5,222.5 494.8,241.3 482.4,220.9 504.1,237.4 512.7,237.0 501.8,223.6 494.8,240.4 493.9,238.8 498.2,234.4 503.6,238.7 503.2,217.5 498.3,241.0 479.5,229.8 493.8,239.6 495.4,241.6 497.6,241.3 498.0,236.8 499.3,230.2 498.2,235.4 508.0,238.5 513.8,216.3 479.7,208.3 504.9,224.6 496.1,241.2 499.3,234.3 489.6,232.3 498.0,238.4 498.7,240.3 487.7,239.8 491.2,239.9 496.7,240.9 499.9,227.5 492.3,236.5 504.0,229.1 500.7,223.4 501.4,233.4 490.6,229.0 490.3,231.3 498.7,240.0 495.4,241.7 498.4,237.4 496.6,240.1 497.4,238.5 512.0,223.4 494.1,240.6 486.1,239.1 501.1,235.1 494.2,241.5 491.6,239.6 500.7,236.1 492.7,240.6 498.1,238.1 489.2,228.7 495.2,241.2 496.7,239.4 490.1,237.7 497.6,237.0 492.7,240.5 484.2,230.3 498.8,239.1 495.9,241.5 492.4,234.7 495.3,241.5 498.2,235.7 491.2,239.2 507.2,213.9 494.2,239.1 492.0,241.2 490.4,232.3 508.8,210.1 488.6,231.6 495.0,241.4 501.8,235.0 503.8,222.9 516.5,221.1 494.3,239.4 483.0,213.5 486.2,217.6 512.3,209.3 490.7,238.2 495.5,241.8 497.8,238.5 487.0,216.9 486.4,235.5 498.5,236.5 489.1,235.7 500.0,239.2 498.9,233.4 498.0,234.9 496.6,241.7 495.9,241.8 487.7,216.9 494.3,240.4 496.1,241.8 501.5,237.4 496.4,241.1 483.6,231.8 496.4,241.3 505.7,233.1 514.7,228.8 513.0,220.0 499.9,227.1 500.6,228.9 497.2,239.1 511.0,219.2 503.5,237.9 493.5,238.9 503.6,238.1 500.5,239.1 496.6,239.9 480.8,214.5 478.5,224.5 486.0,222.1 500.0,235.1 489.1,237.7 499.4,237.8 493.7,241.3 474.1,211.2 502.2,233.2 489.1,238.9 499.7,229.0 486.2,216.8 499.2,237.5 498.1,238.0 505.4,211.5 492.2,241.1 491.7,240.8 491.4,237.6 498.1,236.4 492.5,233.4 498.9,231.8 498.9,235.8 497.8,237.2 499.8,238.1 495.3,241.7 499.2,241.2 492.7,236.7 494.2,239.9 501.0,239.4 489.9,230.7 500.1,230.6 472.7,209.1 512.0,230.6 499.5,234.0 495.8,241.8 487.7,236.8 500.8,227.3 505.2,231.7 499.7,232.3 494.9,241.5 503.0,224.2 490.6,236.3 496.0,241.4 501.5,221.3 494.3,241.4 485.4,208.8 489.4,228.8 500.7,227.2 485.8,237.5 488.3,236.1 502.5,215.3 496.5,240.5 487.0,223.6 502.6,223.0 507.8,223.2 493.9,238.9 495.7,241.8 501.1,223.3 487.0,227.2 502.4,223.2 498.0,239.9 512.7,219.1 484.6,231.5 511.5,218.1 493.2,237.2 487.9,212.8 504.5,218.7 483.9,225.5 488.2,235.5 495.7,241.8 494.3,239.8 499.6,234.7 500.5,240.0 509.7,221.5 499.0,235.2 502.0,221.4 493.2,238.4 504.4,233.5 490.6,229.1 498.8,235.6 493.0,239.9 510.0,229.0 489.9,225.7 487.5,238.5 487.7,213.7 491.6,232.2 490.6,231.8 494.0,241.6 511.4,210.7 504.0,221.3 509.4,232.4 507.6,212.4 505.1,213.1 480.6,210.7 503.4,222.3 494.4,241.4 498.1,234.9 504.2,232.7 496.5,240.0 498.9,236.3 504.6,235.1 500.0,226.7 496.0,241.6 496.8,239.5 504.6,239.1 499.3,236.6 497.2,238.4 489.7,228.9 491.9,234.7 485.3,217.2 492.8,236.3 493.2,238.7 492.1,232.9 498.9,238.4 508.9,224.9 497.3,240.3 487.0,226.3 507.9,223.5 496.3,241.0 484.4,214.5 497.9,235.9 490.3,229.3 495.3,241.8 497.5,241.2 500.6,224.7 510.8,213.7 505.2,216.1 499.4,232.3 489.5,231.9 494.6,241.5 502.5,216.6 487.0,209.9 496.3,241.5 505.0,237.5 502.8,225.7 493.9,238.8 503.5,210.7 499.7,228.9 509.0,227.6 491.4,234.9 498.7,239.0 502.2,220.4 510.9,231.2 502.8,217.5 500.8,232.6 507.3,212.8 499.0,230.6 500.8,239.8 521.1,230.1 501.2,221.3 497.1,240.8 506.5,224.5 490.8,234.9 499.4,232.1 495.3,241.6 499.8,228.9 512.2,234.7 481.9,230.1 492.8,237.1 498.9,236.4 497.0,239.7 500.7,238.4 505.7,211.8 498.8,233.3 511.4,222.5 498.0,240.3 501.8,233.3 500.4,227.2 493.1,241.1 504.3,208.4 499.2,236.9 488.0,238.0 507.6,231.8 489.8,224.8 489.1,219.3 488.3,223.3 487.5,214.1 510.2,210.5 498.4,240.1 496.2,240.7 493.2,241.0 502.8,225.2 497.7,236.8 495.0,240.9 497.2,241.2 494.9,240.8 486.1,213.2 501.2,236.9 498.8,236.3 509.6,218.2 492.7,235.5 499.6,236.4 504.2,232.6 506.1,214.5 495.8,241.8 500.5,233.0 503.8,225.5 500.5,230.7 487.9,219.4 505.3,214.5 492.4,237.3 502.9,227.8 503.0,228.3 503.6,225.7 506.0,219.9 491.6,230.6 501.6,229.7 497.2,240.3 491.5,233.5 491.7,239.6 497.7,240.4 500.8,232.6 496.7,239.7 488.3,226.0 496.2,241.2 495.5,241.8 497.2,239.0 506.5,223.5 504.0,212.7 520.4,224.2 506.1,209.0 496.7,240.0 498.3,234.0 497.5,240.3 498.0,239.2 487.9,219.7 483.3,225.4 503.9,230.2 490.4,238.4 502.3,219.4 495.4,241.6 493.2,241.2 499.8,230.0 490.1,230.9 483.9,209.5 495.8,241.8 508.7,220.0 479.8,213.9 501.7,230.9 497.0,239.3 506.7,208.9 494.1,241.4 493.7,237.1 497.0,239.5 500.5,228.7 490.4,228.2 498.4,234.0 485.7,224.6 491.3,229.5 501.5,233.3 500.1,238.9 494.7,241.1 501.2,228.5 500.1,234.7 495.2,241.4 497.9,239.9 500.5,228.3 502.5,225.3 491.8,232.1 504.9,211.6 503.4,233.3 504.7,223.4 496.0,241.6 491.8,237.5 484.4,223.7 490.1,232.8 491.0,230.8 493.8,237.7 494.0,240.6 496.4,241.6 501.9,218.7 509.9,221.4 509.2,231.8 493.9,238.4 507.3,214.4 486.4,219.7 486.2,234.3 495.0,241.2 501.3,234.6 488.8,232.6 486.6,219.7 492.4,240.0 516.9,233.3 503.5,210.1 498.3,236.2 516.7,209.1 493.2,236.8 498.1,240.9 501.2,234.7 496.5,239.9 497.0,238.9 510.5,219.6 506.8,220.4 495.5,241.8 487.4,230.0 505.7,210.5 496.1,241.1 491.2,234.1 490.7,229.8 508.1,216.9 506.5,230.3 501.4,235.6 499.8,239.4 496.3,241.5 500.1,235.5 499.5,238.8 503.7,219.4 498.2,234.4 493.3,239.1 482.7,228.3 492.1,236.5 477.6,218.6 497.1,239.1 499.0,239.0 503.0,237.9 497.5,237.0 503.7,232.0 496.8,240.8 514.1,211.2 488.2,235.6 495.0,241.2 490.6,234.9 479.9,227.8 500.4,234.5 481.9,210.2 488.1,234.0 491.3,236.2 501.8,230.5 493.7,240.5 500.2,229.4 491.1,235.9 485.8,236.8 498.2,234.4 487.9,220.1 498.9,231.6 495.0,241.4 498.0,236.4 494.6,240.3 497.8,236.3 502.4,230.2 488.6,220.9 492.7,234.7 488.7,227.1 480.8,236.1 503.9,214.1 491.6,236.2 488.3,239.5 488.5,229.9 502.2,224.6 501.0,225.6 498.6,233.9 521.6,209.9 503.6,230.9 496.4,241.4 499.9,236.7 507.6,216.6 475.8,223.8 502.5,226.4 485.0,223.3 489.7,227.8 502.9,229.1 493.4,239.5 477.1,231.9 495.8,241.7 497.7,240.3 496.5,240.2 498.6,234.4 497.2,240.4 498.5,237.6 493.8,237.8 505.8,219.3 500.6,233.4 492.7,234.2 494.0,238.9 495.9,241.6 490.7,233.4 491.5,231.0 488.7,233.0 509.4,230.5 488.3,217.3 497.6,237.6 489.4,225.1 495.0,241.0 503.1,229.3 498.3,237.5 501.7,230.1 502.2,227.2 498.9,241.1 485.7,217.4 498.0,234.9 505.1,229.0 486.1,211.8 492.2,238.8 502.5,235.6 500.0,232.0 494.4,239.5 485.8,236.7 502.4,214.8 489.4,223.7 497.1,239.9 494.9,240.6 501.6,222.4 490.5,232.8 481.3,232.9 509.6,226.6 493.3,236.6 500.4,235.0 489.9,232.2 493.8,240.2 494.1,239.8 492.8,238.5 487.1,211.4 502.2,215.9 501.6,233.0 491.4,235.3 498.7,236.3 504.6,222.0 496.0,241.6 499.4,235.8 510.1,232.4 511.9,221.0 497.1,240.0 498.5,239.7 478.4,225.3 493.2,235.4 495.7,241.8 495.6,241.9 499.4,230.1 504.1,233.6 490.2,236.2 500.3,227.4 498.2,235.6 482.2,228.2 495.6,241.9 489.3,223.2 503.3,223.1 501.2,229.8 491.8,236.4 500.8,233.6 496.6,240.3 474.3,230.8 502.8,215.5 490.5,239.8 498.9,236.3 495.4,241.7 500.1,233.6 501.1,240.7 507.0,218.3 503.9,236.9 515.2,221.2 501.2,225.4 498.6,235.1 515.1,208.5 480.5,237.1 493.8,237.9 515.0,224.5 500.1,239.8 500.0,237.3 501.8,221.7 488.6,220.3 505.8,213.1 504.1,233.1 490.6,231.5 488.5,220.5 500.3,227.6 491.2,233.2 488.5,238.8 488.2,239.0 497.9,241.4 507.1,238.0 492.0,231.7 506.3,236.3 498.8,236.6 503.2,211.6 510.9,231.6 491.8,234.3 501.5,233.2 505.7,233.5 499.6,230.5 496.3,241.8 502.4,225.5 491.6,237.0 480.9,209.5 496.7,240.0 486.0,238.8 497.7,239.8 497.5,236.9 497.5,241.5 502.3,237.1 489.7,228.2 492.2,236.2 512.9,210.1 502.4,214.9 490.0,223.5 492.7,235.1 506.5,225.8 504.2,218.4 490.3,239.7 495.9,241.7 504.7,225.1 491.6,234.3 486.2,208.8 500.8,233.0 505.2,224.3 494.2,240.0 497.4,239.5 506.4,238.8 505.9,222.2 479.8,234.4 487.0,227.6 500.0,236.4 489.4,219.6 495.6,241.8 503.6,235.0 490.2,240.7 497.1,239.1 489.9,238.8 493.2,238.7 504.4,211.7 498.6,233.2 490.4,234.6 508.4,220.0 498.4,235.7 498.7,234.1 488.0,216.9 487.9,226.8 496.1,241.7 499.5,235.0 487.3,230.4 492.0,235.2 496.7,241.6 495.6,241.9 503.0,217.4 487.4,210.8 490.6,236.9 500.1,238.9 495.6,241.9 497.6,238.3 494.4,241.0 488.7,226.4 497.1,241.4 496.4,241.2 488.9,231.0 497.6,237.8 485.2,224.4 495.7,241.8 510.4,236.7 494.3,241.2 489.1,224.4 488.5,219.4 476.3,233.2 489.3,234.0 493.7,239.8 501.5,227.9 494.7,240.3 500.6,232.0 497.0,241.7 504.2,233.1 509.5,210.1 484.4,213.4 492.5,238.6 488.2,221.3 491.1,229.9 483.1,230.8 514.5,214.5 501.0,228.6 497.7,240.0 513.8,226.7 501.1,236.3 507.1,220.8 498.3,236.3 486.0,224.2 500.2,228.1 505.8,236.3 503.2,224.6 497.3,241.5 495.1,241.4 490.8,231.7 499.1,239.2 490.1,227.2 488.8,237.8 483.8,227.7 500.0,227.6 517.4,235.4 497.9,238.1 492.5,239.2 498.2,237.5 499.9,237.6 496.5,241.2 492.8,234.1 503.7,233.7 496.7,240.7 498.6,240.2 499.4,237.0 514.1,226.1 494.0,240.0 495.6,241.9 492.3,240.5 493.5,237.7 483.0,227.8 490.3,229.5 493.6,240.3 497.7,239.1 491.7,235.1 508.1,222.7 488.2,224.7 502.7,237.7 495.2,241.3 507.6,232.7 511.5,208.4 513.9,218.8 492.9,237.8 487.4,214.0 503.5,224.3 503.0,229.3 499.3,231.1 499.4,234.0 508.3,217.0 502.7,226.8 495.0,240.8 491.4,240.5 491.7,229.9 502.6,235.7 489.7,226.2 512.2,227.0 508.9,214.6 494.3,239.9 498.5,236.2 498.6,235.2 510.7,232.1 500.1,230.1 494.0,238.7 498.9,237.2 497.3,237.6 493.2,236.2 479.4,223.9 496.2,241.5 503.4,210.1 491.3,234.9 492.3,239.2 501.4,240.0 497.8,238.8 506.8,224.8 504.5,222.6 493.1,235.7 497.3,239.5 492.6,234.3 503.4,211.7 487.2,211.4 487.5,212.8 492.5,241.3 492.1,237.1 498.5,238.6 483.4,209.8 496.9,241.0 492.1,240.0 496.2,240.6 482.9,210.4 487.6,234.1 493.8,238.6 499.1,238.9 494.0,240.5 498.0,235.7 510.2,214.9 493.2,238.7 485.1,222.8 498.3,239.6 499.6,237.1 495.5,241.8 484.0,213.9 497.7,236.0 496.2,241.1 490.7,233.8 477.3,219.0 487.4,229.4 494.9,240.5 495.3,241.7 488.8,235.4 503.9,225.6 501.7,223.0 490.9,238.7 514.4,222.0 497.2,240.8 496.2,241.6 502.6,240.4 494.3,241.4 498.2,241.1 490.4,234.5 501.3,239.4 507.1,237.1 505.6,220.0 499.6,237.2 482.3,212.5 483.1,221.6 491.3,228.4 476.2,224.5 500.3,230.8 496.6,240.6 494.1,238.5 498.9,234.5 513.6,222.9 496.4,241.2 495.7,241.8 506.2,219.2 485.2,221.3 500.0,232.8 505.0,232.3 489.6,231.4 496.7,240.8 500.1,238.9 487.6,225.6 489.1,240.0 499.6,231.9 488.4,215.2 494.4,241.4 502.2,224.5 501.1,235.8 492.3,239.9 501.9,227.7 488.0,212.8 489.3,219.4 499.6,232.6 501.8,239.5 484.9,231.3 486.0,218.5 496.4,240.7 491.4,230.1 497.8,240.9 503.9,220.3 486.9,231.4 495.9,241.7 486.5,232.2 494.6,240.6 489.8,223.2 477.9,214.9 494.0,241.2 499.3,235.8 514.4,232.9 492.1,237.8 476.2,223.3 504.1,225.5 497.9,241.3 500.5,225.5 492.3,236.0 492.1,236.7 498.6,236.4 504.3,221.6 503.9,215.1 504.0,214.3 471.2,219.8 494.1,240.6 498.0,236.0 499.9,236.7 500.7,227.4 491.2,234.7 494.7,241.6 497.6,239.9 496.0,241.7 504.6,217.9 499.5,231.2 499.1,237.5 504.1,239.4 489.9,239.4 496.0,241.6 501.0,240.7 503.1,240.1 490.5,233.6 501.4,220.9 490.9,240.4 486.0,234.5 501.7,230.8 505.8,215.8 502.7,237.5 486.4,233.2 496.2,241.8 491.1,235.7 483.8,219.9 491.6,240.7 507.0,219.9 487.3,218.1 502.8,214.8 506.8,217.0 503.0,230.4 501.9,235.2 508.1,208.9 509.6,236.2 487.8,233.9 499.8,234.9 497.2,240.9 492.7,234.8 498.5,240.3 498.8,237.3 502.5,227.3 505.6,239.4 509.9,237.9 495.6,241.9 498.2,239.0 492.3,239.4 516.9,215.9 503.4,213.2 498.1,237.1 492.4,236.0 500.0,230.5 496.3,240.5 496.8,241.2 500.9,224.7 499.7,236.0 505.1,238.0 494.9,241.3 499.6,235.6 506.0,217.2 503.1,217.3 497.7,240.5 491.9,237.8 494.1,239.6 491.6,231.9 488.3,230.4 516.7,228.8 497.5,237.8 491.2,229.8 486.9,210.2 497.3,240.0 497.2,239.5 505.9,214.5 499.2,233.7 497.4,238.2 499.8,232.3 497.4,238.2 501.3,228.9 487.0,209.6 486.8,214.7 503.3,221.7 491.7,233.6 485.2,227.0 494.6,240.5 484.3,238.9 490.8,236.9 499.3,237.1 483.9,216.6 492.6,235.5 489.9,226.2 504.6,236.0 493.2,241.0 490.5,233.2 497.9,238.6 489.9,240.2 485.7,235.8 499.4,230.2 516.6,215.1 489.5,222.7 492.5,239.0 497.2,239.7 510.4,226.7 487.7,235.2 490.4,229.0 508.4,236.7 491.5,229.0 490.4,235.9 491.4,232.7 496.1,241.2 504.4,211.8 501.0,233.7 502.4,227.1 503.5,213.6 492.3,233.6 504.9,210.2 496.8,240.2 486.2,226.2 493.7,237.9 510.7,215.7 493.1,239.7 493.1,237.7 499.2,234.2 488.6,228.1 512.6,236.8 494.7,240.4 515.6,227.8 504.3,235.7 498.8,236.0 497.0,238.9 503.1,224.3 504.7,215.4 498.7,234.3 491.0,226.7 490.8,228.5 497.1,241.5 499.8,239.2 497.8,239.9 504.2,215.7 494.8,240.7 496.1,241.7 505.0,231.1 489.0,222.1 517.0,208.5 492.0,234.9 483.5,235.4 489.7,234.5 483.7,228.4 503.1,235.1 491.9,231.8 504.7,209.9 499.8,232.4 493.7,239.0 505.7,223.5 497.0,241.3 496.9,240.0 518.3,211.6 500.8,236.6 491.0,235.3 497.4,241.2 499.4,231.1 505.6,230.8 489.5,239.1 503.6,232.3 491.2,229.4 484.0,232.3 494.8,241.0 476.8,229.4 509.9,232.0 484.9,212.8 499.7,236.3 493.6,241.1 495.7,241.8 489.5,231.5 488.7,230.1 486.5,228.8 496.3,240.6 514.5,229.4 496.3,240.9 499.0,233.8 489.7,225.1 481.6,237.3 501.8,219.1 497.5,240.1 504.8,225.0 485.9,238.6 505.4,215.6 502.1,218.8 507.0,216.1 491.2,227.5 497.0,239.9 500.9,226.8 497.3,237.8 514.8,222.4 496.9,240.6 499.8,231.5 493.4,237.7 500.1,231.3 505.1,223.3 497.3,240.2 499.0,231.9 491.4,241.0 503.6,238.3 500.7,226.1 488.4,217.3 515.2,213.4 493.9,238.2 489.0,227.8 500.2,238.2 488.4,230.1 508.1,217.7 491.5,232.2 501.6,231.1 497.3,239.9 497.6,238.9 488.4,215.9 491.8,237.6 508.8,223.9 479.8,215.9 515.7,212.2 499.4,239.5 488.9,219.0 492.0,234.3 488.0,216.9 488.3,237.3 493.1,236.8 499.8,227.4 496.9,238.8 500.6,233.3 495.9,241.7 497.2,237.8 492.8,237.6 498.7,240.6 492.2,239.2 502.6,236.7 500.7,231.3 492.3,233.2 499.7,228.0 494.8,241.7 491.8,230.5 494.9,240.7 490.5,232.5 490.2,237.3 495.5,241.8 500.0,239.6 493.6,238.7 500.8,225.6 507.9,232.1 497.8,236.1 495.0,241.3 479.2,221.2 493.6,237.0 500.2,233.4 497.7,236.9 499.0,234.7 475.5,219.1 494.0,239.3 509.9,218.3 486.5,222.9 498.1,238.2 498.5,234.3 498.1,238.3 491.7,239.3 497.6,240.8 501.3,235.6 489.0,229.6 498.9,233.2 492.4,236.0 504.5,221.7 505.4,219.7 496.5,241.7 492.3,241.1 504.0,233.1 491.0,240.4 494.4,239.8 506.4,239.0 507.2,208.7 496.1,241.7 503.5,231.3 498.5,237.7 493.8,241.5 498.3,237.6 499.9,233.7 486.9,219.5 483.2,235.1 496.0,241.6 487.8,236.8 502.2,233.5 494.7,241.2 488.8,229.6 516.8,223.6 487.1,239.1 487.7,220.9 493.4,238.7 501.0,235.6 490.5,225.0 494.2,239.6 499.7,237.1 495.2,241.6 503.3,211.1 494.2,241.3 486.7,227.1 493.8,241.0 502.1,224.3 504.2,232.1 493.2,240.7 511.1,221.6 496.8,241.4 497.5,237.9 507.9,215.0 502.6,237.4 493.0,238.2 490.1,239.1 483.7,234.8 508.4,212.6 510.5,226.0 500.9,228.0 509.7,234.0 489.4,228.3 499.3,236.8 505.4,223.2 484.1,227.1 501.7,235.3 502.5,233.7 497.8,239.3 510.4,231.5 501.4,227.6 491.8,233.7 497.1,240.8 496.0,241.3 488.1,213.4 494.7,240.7 486.1,215.3 500.7,227.0 501.8,218.1 486.1,231.6 485.2,232.4 499.9,230.4 495.1,241.4 501.6,230.4 494.9,241.7 499.2,236.9 495.3,241.7 482.8,219.9 509.1,234.8 491.9,237.1 500.6,235.3 510.7,221.2 502.1,220.0 494.4,239.3 490.8,236.6 497.1,238.8 494.7,241.3 498.2,241.1 496.0,241.3 505.4,238.5 498.2,235.8 482.3,222.2 495.5,241.8 498.3,239.4 497.3,237.9 487.2,229.4 485.3,229.4 492.2,233.1 502.8,231.5 487.3,227.3 501.9,238.2 481.5,222.1 502.0,235.8 500.9,231.5 493.9,239.1 487.5,229.0 509.7,210.4 501.6,240.5 492.8,235.4 489.1,221.5 492.6,234.1 485.8,215.2 501.9,224.7 502.9,225.5 492.7,239.2 500.0,235.8 498.8,232.7 497.5,241.5 495.7,241.8 503.4,236.6 504.7,209.2 504.6,211.0 521.5,220.1 491.5,231.0 501.7,234.2 493.6,238.3 502.8,225.7 508.7,222.3 499.0,240.6 513.4,214.3 495.2,241.3 488.0,232.7 505.0,217.4 493.1,239.5 490.9,240.6 497.5,238.9 487.3,227.7 513.4,231.0 500.4,239.8 494.0,240.0 496.4,241.2 499.2,235.9 483.0,217.0 478.8,223.7 506.2,231.7 500.2,230.4 497.3,240.1 503.5,220.2 501.3,225.3 495.5,241.7 503.9,229.7 496.2,241.2 485.6,218.9 484.8,230.8 500.9,224.5 506.8,213.0 499.7,228.9 489.6,236.1 485.4,227.1 518.0,211.6 490.0,238.4 490.7,232.4 489.2,221.5 502.4,238.7" fill="none" stroke="none" marker-start="url(#mg)" marker-mid="url(#mg)" marker-end="url(#mg)"/>
<polyline points="458.3,208.9 465.0,208.9 460.2,214.3 467.5,232.5" fill="none" stroke="none" marker-start="url(#mlb)" marker-mid="url(#mlb)" marker-end="url(#mlb)"/>
<polyline points="524.1,209.2 528.9,216.0 537.3,220.5 528.9,222.7 530.7,224.9" fill="none" stroke="none" marker-start="url(#mo)" marker-mid="url(#mo)" marker-end="url(#mo)"/>
<polyline points="414.9,66.1 421.0,70.4 441.5,72.3 436.0,77.2 438.9,85.4 452.0,85.4 451.7,92.1 456.6,99.1 455.8,103.5 432.7,105.0 436.2,104.1 450.2,106.7 443.0,112.8 452.8,112.0 456.3,112.0 450.5,115.7 453.5,119.2 455.8,118.6 460.7,121.9 465.0,119.2 465.6,122.7 461.3,130.7 466.8,130.7 461.5,130.7 467.9,140.1 460.6,141.2 462.1,141.7 460.3,144.6 465.6,144.9 448.2,143.9 461.6,149.0 455.1,150.9 454.5,155.7 455.0,161.0 462.8,159.1 430.9,162.9 462.8,166.0 466.2,166.0 460.6,168.9 463.1,170.7 453.0,173.8 464.1,176.7 465.6,178.0 466.9,181.2 461.2,184.9 464.4,183.3 465.4,186.2 465.6,190.6 465.4,193.1 467.5,200.1" fill="none" stroke="none" marker-start="url(#mb)" marker-mid="url(#mb)" marker-end="url(#mb)"/>
<polyline points="519.8,132.9 513.1,173.7 512.5,190.1 514.1,179.7 510.0,194.8 480.7,194.9 469.6,189.2 511.5,168.2 514.6,191.7 485.1,206.5 513.4,169.3 510.5,199.9 481.5,205.7 505.4,207.6 485.6,206.9 522.5,182.8 482.7,204.0 517.2,167.4 472.7,132.7 510.2,202.8 516.5,204.2 516.2,174.4 511.5,167.4 469.8,145.2 482.4,194.6 519.5,138.4 476.8,207.4 515.5,175.8 511.3,170.1 506.9,196.2 511.4,168.1 505.4,201.9 468.1,185.3 514.3,155.0 518.5,207.7 515.4,204.2 476.6,185.7 479.0,179.5 477.0,178.8 514.1,190.2 506.0,207.2 510.1,179.9 480.0,200.5 513.1,158.0 521.2,185.6 485.4,205.6 483.4,200.7 518.4,159.3 505.6,207.3 484.2,204.7 509.5,196.0 512.6,204.7 514.1,151.8 511.1,170.1 480.5,200.6 471.6,198.8 511.7,199.8 481.4,186.7 485.8,206.1 521.3,129.8 513.5,173.0 515.2,178.6 515.0,180.3 521.9,117.7 514.3,206.0 510.5,194.3 519.7,123.0 480.8,181.1 481.1,197.8 468.9,184.5 512.6,202.6 513.3,164.9 508.7,184.2 510.9,182.5 510.6,170.5 509.8,200.8 505.1,205.4 471.1,133.5 485.3,200.5 478.9,180.3 512.0,193.4 480.2,171.8 477.8,188.3 506.3,196.1 515.1,178.2 517.5,135.9 474.4,159.9 482.7,194.1 479.6,181.8 514.5,183.6 513.1,164.0 509.2,188.7 471.5,184.7 516.9,154.0 507.1,201.9 510.6,187.7 511.7,174.5 482.7,200.6 519.3,143.8 478.5,184.5 472.0,204.5 513.5,178.2 521.5,175.4 514.4,151.1 478.7,197.4 520.0,207.7 513.1,173.3 505.5,201.9 511.6,196.7 481.1,191.0 510.1,195.4 517.9,174.8 479.1,193.7 509.5,193.9 505.7,205.5 484.7,207.0 469.5,160.1 515.0,155.3 519.0,135.0 520.1,203.2 522.5,120.9 512.4,166.1 504.9,207.3 514.3,159.7 516.6,184.6 485.7,207.2 478.1,181.4 514.1,152.1 507.9,202.4 511.4,177.1 508.5,207.7 477.8,169.5 522.2,159.9 485.3,200.4 513.8,175.2 506.0,206.3 504.6,204.4 516.5,178.2 510.2,193.3 510.1,197.6 506.6,206.6 522.6,179.8 505.4,205.7 483.3,205.5 484.1,204.6 483.7,192.0 504.9,205.7 483.2,204.9 510.2,181.4 512.8,181.2 482.7,194.4 510.2,184.7 505.3,201.1 520.7,181.4 515.0,197.3 485.2,202.0 507.4,193.4 504.1,206.7 519.9,184.5 480.8,199.5 516.5,157.2 522.6,116.8 509.6,184.9 522.5,141.5 479.8,174.0 485.3,201.6 515.6,178.7 509.6,206.7 472.4,173.3 506.8,204.3 472.5,178.7 520.8,157.7 514.8,161.1 510.9,204.6 508.9,186.6 519.4,139.4 481.3,206.1 477.9,164.3 480.6,185.6 509.9,182.7 508.1,185.5 511.0,186.6 505.7,204.1 520.1,199.4 506.4,204.2 512.1,172.7 512.1,166.0 516.5,186.9 521.0,133.8 512.6,176.2 507.3,197.1 481.7,186.5 511.1,203.3 477.2,206.7 506.8,201.4 515.4,203.2 514.5,193.5 511.1,191.9 508.6,190.6 474.2,152.9 484.9,207.1 468.2,200.1 517.4,206.0 510.0,194.6 507.5,203.9 475.7,176.7 521.2,165.0 513.4,179.1 509.6,182.2 476.4,162.1 506.9,203.0 480.2,176.2 511.8,169.8 521.3,195.7 515.6,192.4 470.3,158.5 508.5,186.4 510.3,180.7 512.1,197.6 509.1,202.1 476.6,183.0 479.5,206.3 522.4,107.8 508.9,202.8 507.6,191.2 473.1,196.0 510.9,202.0 481.0,179.2 517.5,196.9 484.0,206.0 473.9,194.8 514.5,178.9 517.1,206.4 519.1,140.7 508.1,201.9 521.7,181.4 513.2,155.6 510.8,169.2 510.5,180.1 512.8,161.6 482.5,190.3 509.3,179.6 515.1,154.4 483.0,196.4 480.7,192.3 516.4,152.3 516.2,173.8 475.2,201.3 516.3,185.1 513.8,205.3 504.9,205.3 515.1,189.0 511.5,194.5 472.4,137.1 513.5,193.4 512.4,193.0 510.5,169.7 517.1,184.8 508.8,195.9 516.5,170.7 509.3,191.7 475.5,163.0 479.5,174.5 512.5,176.9 518.9,202.1 470.1,195.8 510.6,182.8 482.1,188.3 475.0,144.3 517.9,205.9 515.0,176.9 509.5,185.0 521.3,134.8 519.5,156.2 482.8,200.7 477.0,165.2 512.4,191.5 516.9,136.4 484.5,200.3 515.3,164.4 472.3,200.4 508.1,193.3 505.3,207.7 511.2,175.6 517.7,173.4 509.3,204.7 510.9,170.9 478.1,181.4 514.3,183.2 504.9,207.1 508.2,185.7 511.3,178.1 515.4,145.6 511.7,184.1 510.1,178.6 521.5,126.4 518.2,152.2 480.5,193.4 483.0,195.5 509.5,205.8 506.8,191.7 508.5,183.9 509.0,195.4 509.8,186.7 511.6,203.9 484.7,202.6 520.2,165.7 510.2,179.9 510.4,192.7 508.1,196.1 480.4,177.6 521.5,160.5 480.6,179.9 476.8,157.9 511.2,192.8 483.5,199.3 519.6,178.7 480.3,203.1 521.7,194.8 511.7,178.3 473.8,177.0 471.8,152.5 508.1,199.4 480.0,200.2 516.8,204.2 479.6,191.5 479.0,185.2 480.8,192.3 485.5,203.4 515.0,174.0 509.7,176.6 508.5,201.9 512.7,186.4 511.6,196.3 486.2,207.8 506.6,208.0 505.1,203.0 510.2,202.6 517.5,180.0 507.7,187.6 478.6,165.4 511.4,185.7 517.8,181.2 518.4,128.8 522.8,171.3 471.7,134.1 509.9,185.8 516.3,139.0 513.3,159.9 512.8,206.8 508.2,202.5 508.7,206.3 515.0,186.5 511.8,183.9 476.7,157.1 512.7,177.9 477.4,187.2 508.7,201.4 518.3,200.9 471.5,191.9 515.8,162.8 506.4,204.4 515.0,175.5 513.0,197.4 485.5,204.0 484.0,200.6 509.4,204.7 476.6,155.4 469.7,167.5 511.3,169.8 510.3,195.4 480.8,195.8 518.6,136.5 518.4,131.6 481.0,203.5 515.6,161.2 515.2,167.5 510.1,187.1 517.5,203.3 505.4,203.7 521.2,114.2 483.6,197.6 521.5,115.2 505.7,200.8 520.2,202.0 508.5,183.2 510.7,200.6 475.0,153.9 511.3,198.2 478.4,168.6 518.1,205.3 504.2,207.2 481.4,182.2 477.7,186.1 510.2,199.0 510.2,190.8 511.8,201.5 483.0,190.5 508.3,201.3 513.8,206.4 506.2,207.2 515.9,156.1 485.0,202.3 477.7,186.6 511.5,195.9 478.4,186.7 520.1,191.9 512.8,164.3 471.5,140.1 521.7,143.5 518.4,142.3 515.3,191.2 516.7,141.3 510.1,174.7 522.4,156.6 517.6,158.5 510.1,201.9 507.5,187.1 481.0,202.3 513.7,173.2 509.5,186.1 514.7,200.3 472.1,179.9 509.6,199.1 512.5,161.2 514.8,197.2 511.4,200.2 514.8,154.2 483.6,190.8 518.9,179.4 515.6,167.5 484.3,199.6 521.1,138.2 475.4,167.6 477.1,184.2 511.0,176.2 515.6,206.3 515.1,188.1 486.7,207.3 485.0,202.0 486.9,207.9 512.5,170.4 510.5,186.1 510.2,181.8 476.9,166.1 513.8,151.1 508.4,190.3 481.3,204.8 521.8,116.4 507.2,205.1 519.0,166.1 482.1,204.8 481.3,191.4 483.8,207.1 514.8,178.4 483.2,188.9 506.9,190.8 511.5,201.3 510.7,207.7 516.1,176.6 479.7,191.3 515.7,176.5 507.9,198.5 512.1,186.9 521.4,118.2 511.9,206.4 512.0,203.3 509.8,203.3 478.6,200.9 512.8,171.9 503.9,207.0 480.2,180.2 513.8,186.4 483.8,206.7 505.5,205.0 510.0,202.9 515.0,181.4 510.8,185.1 509.5,177.2 504.3,207.6 515.6,154.6 472.6,157.0 515.1,189.9 514.9,173.6 504.9,204.9 505.0,204.7 510.4,186.8 475.0,160.9 520.3,150.8 508.0,192.2 512.7,162.4 516.1,154.0 511.0,203.6 514.4,149.8 507.6,195.2 506.5,202.8 513.0,172.5 512.0,193.1 505.7,204.5 471.4,145.7 484.7,196.0 517.8,154.1 515.5,206.6 505.4,200.9 515.0,176.8 504.9,205.8 504.6,203.1 471.4,153.9 512.7,193.4 522.8,181.0 507.6,189.2 517.6,183.2 511.4,192.3 514.2,178.3 483.3,196.4 511.9,203.2 481.7,192.0 484.0,201.3 482.0,195.2 516.4,164.4 511.5,172.1 513.4,199.7 507.9,199.7 485.1,205.3 505.2,200.7 505.5,198.9 482.8,190.0 513.6,185.1 510.9,173.5 511.4,197.1 484.1,200.1 512.0,205.7 511.6,207.4 509.5,206.9 509.2,199.6 510.3,193.1 514.4,188.1 521.9,185.1 478.5,186.2 522.4,130.1 509.6,191.4 473.8,145.4 484.2,194.3 476.8,196.3 512.1,185.9 475.0,195.1 504.1,207.7 513.1,179.0 485.6,207.3 517.2,174.9 515.0,189.6 513.2,194.2 517.0,165.6 511.6,182.7 505.2,207.2 513.7,168.3 513.7,185.9 515.0,148.0 518.2,155.9 521.4,165.9 510.3,193.9 506.7,196.7 512.3,206.2 468.5,150.7 509.0,181.1 508.5,188.5 523.1,143.7 485.1,204.5 513.6,197.3 509.8,187.2 476.5,160.0 513.5,195.4 518.6,168.0 483.2,194.7 483.6,203.8 511.0,167.8 507.7,188.7 507.0,203.2 506.0,206.9 508.5,183.0 480.4,189.7 482.2,187.3 481.9,184.5 477.3,167.2 478.9,171.0 517.9,144.0 481.9,187.1 513.7,176.7 504.8,204.3 520.3,164.9 505.9,198.7 518.3,183.6 505.6,201.1 515.5,157.7 512.1,183.3 515.2,202.2 480.2,178.7 519.5,148.5 481.9,194.1 471.9,143.3 484.7,205.6 515.0,193.1 476.3,197.0 507.0,194.8 513.3,154.2 523.1,175.8 513.1,187.7 483.9,197.3 481.3,189.1 483.1,197.4 507.0,193.3 511.6,178.5 486.7,206.7 515.9,184.5 505.7,202.9 477.8,184.9 477.1,202.8 485.5,206.8 514.0,149.9 510.5,181.8 512.4,206.1 512.1,163.5 504.5,206.6 522.3,182.1 521.8,158.4 511.2,204.2 484.6,199.5 509.9,173.2 507.8,193.9 475.1,202.5 507.1,202.8 504.9,202.9 507.7,199.0 521.1,202.0 504.5,207.8 478.8,185.3 519.5,153.6 513.8,185.1 522.6,166.3 514.6,191.2 483.0,202.0 512.8,165.0 510.2,196.8 509.5,183.7 475.9,186.9 484.6,207.2 517.4,192.1 510.8,171.3 478.6,196.0 508.2,198.9 514.6,170.6 513.1,160.1 512.5,197.5 521.6,129.3 515.7,142.1 518.7,131.6 511.5,180.9 513.9,169.2 479.0,195.4 509.6,196.0 519.9,142.4 510.7,181.4 472.2,137.8 482.3,197.3 481.1,195.9 475.4,163.8 509.1,180.6 478.1,202.7 477.5,166.9 514.2,175.3 509.1,182.1 505.1,201.7 516.3,153.1 522.5,108.7 511.5,198.8 521.1,151.9 506.9,201.2 512.6,158.2 517.9,135.5 519.5,142.0 508.9,184.0 479.3,185.7 516.4,146.1 504.9,205.6 511.7,195.0 511.2,185.9 515.5,178.7 511.4,171.2 484.0,194.0 516.4,155.2 507.7,194.0 472.1,183.9 483.8,196.9 479.4,184.4 482.6,206.1 520.6,157.8 514.4,181.1 514.4,181.4 508.9,185.8 508.3,183.8 483.8,191.7 510.3,194.2 481.7,205.9 511.9,193.7 509.5,182.7 515.8,181.5 507.8,204.0 511.3,188.1 516.8,192.0 516.8,149.8 508.2,193.2 514.9,202.4 509.7,177.6 511.6,175.9 518.5,167.0 515.5,163.9 515.3,151.9 516.1,176.3 506.7,203.4 520.2,128.5 512.2,194.2 504.3,207.7 478.9,205.0 486.0,205.1 518.7,154.1 506.2,195.0 517.2,165.4 511.3,206.3 519.0,126.3 506.7,197.4 519.3,126.3 520.8,130.9 516.3,163.8 515.5,166.9 481.9,199.0 512.1,204.0 474.4,155.0 519.3,204.1 510.8,195.7 512.2,194.7 472.0,201.6 475.9,150.4 513.4,182.1 522.7,169.7 510.4,179.4 509.6,186.1 478.2,167.0 505.7,205.2 517.7,173.3 508.0,205.5 477.2,197.5 523.0,107.5 513.9,187.7 508.1,188.8 481.1,196.2 505.9,198.5 511.1,179.5 475.8,153.7 515.7,157.9 513.5,161.8 516.6,180.4 518.2,128.2 471.1,200.3 513.6,165.5 512.0,178.5 505.4,201.3 479.2,190.3 519.6,137.6 479.9,182.0 511.9,206.7 476.5,190.0 515.4,198.7 481.6,188.5 477.1,188.9 474.4,179.6 481.4,178.9 510.5,178.4 485.7,203.1 508.2,199.6 485.3,202.8 510.1,172.9 471.4,179.3 474.6,142.0 514.0,187.7 485.3,201.8 481.9,190.7 481.3,188.7 478.3,178.0 485.3,201.7 505.5,203.8 514.5,153.5 519.6,202.1 515.0,179.7 513.9,187.8 476.1,178.2 477.2,186.1 511.2,183.7 516.1,140.4 511.3,165.2 506.7,201.2 519.3,174.1 522.2,186.7 515.1,175.9 508.0,204.5 509.8,173.9 512.4,194.3 477.6,179.9 520.3,149.5 513.3,170.1 513.9,179.1 479.9,184.3 482.2,185.4 477.5,179.8 506.4,203.4 512.9,162.3 482.2,193.7 515.0,203.9 480.8,182.1 507.8,187.9 511.8,200.9 518.4,165.4 522.2,188.8 484.5,202.7 513.3,197.5 485.1,206.8 504.9,207.8 482.2,206.0 512.5,178.8 510.2,179.1 479.6,201.0 509.7,193.8 519.2,174.4 506.7,203.0 509.2,186.4 477.8,185.7 512.9,185.2 511.8,172.5 482.8,206.3 517.3,163.6 484.0,207.3 518.6,154.7 510.4,179.7 480.3,182.5 478.9,192.3 511.7,182.5 511.7,198.4 470.0,188.9 513.4,171.6 520.6,161.3 515.3,200.7 510.0,173.9 481.6,194.9 510.7,172.5 507.2,207.1 510.4,173.5 511.5,182.7 507.2,197.2 520.7,204.3 515.4,185.2 509.7,192.5 481.0,202.9 518.4,157.2 509.1,187.6 507.7,200.7 505.8,207.1 517.7,164.0 482.7,189.1 511.2,189.4 512.5,168.5 518.5,161.3 509.6,192.7 505.8,199.2 511.3,178.3 484.7,200.1 521.6,197.3 480.5,190.5 518.2,128.5 509.9,198.8 512.5,198.8 481.7,197.1 511.1,172.1 509.2,202.3 505.8,200.9 474.5,167.0 504.7,203.0 512.1,178.4 484.0,207.3 517.0,192.2 511.3,194.3 513.3,192.3 485.0,201.6 478.4,189.1 469.9,181.3 506.9,196.0 506.4,206.4 508.3,195.6 476.8,155.5 507.3,196.3 511.9,196.7 522.0,151.5 509.1,185.1 477.1,202.6 515.0,182.5 476.3,179.6 479.0,192.3 515.7,186.7 506.7,203.4 515.1,157.7 507.0,200.6 516.9,179.1 522.6,184.7 515.7,155.1 506.4,207.3 520.0,129.8 516.5,157.9 509.8,199.6 478.8,198.6 516.4,164.6 518.4,182.0 473.3,160.0 512.9,191.1 475.6,169.7 508.6,207.1 513.1,167.7 469.6,179.2 474.7,190.3 511.4,195.4 518.2,147.1 519.4,136.0 510.8,182.8 518.3,166.4 509.7,189.0 472.1,147.6 505.8,198.9 477.9,205.7 516.1,152.8 510.8,174.8 516.9,156.4 518.5,136.9 504.4,207.0 512.1,183.3 515.1,199.0 509.0,203.9 510.9,198.9 513.5,165.3 520.8,158.8 479.1,184.3 505.3,206.6 484.2,207.5 503.8,208.0 509.2,193.2 481.3,192.8 481.2,192.0 513.2,168.3 520.4,197.8 506.9,198.0 517.7,175.0 473.4,196.0 480.8,200.1 513.9,199.7 517.3,195.0 479.9,169.9 474.3,154.1 512.9,196.4 521.1,115.3 519.0,151.1 478.7,191.8 513.2,170.7 513.1,169.1 515.4,186.9 509.6,194.7 507.6,195.9 513.6,196.8 507.2,195.3 518.6,153.0 504.6,207.0 515.4,191.2 523.2,109.9 519.6,174.3 518.2,204.9 483.0,202.7 510.7,177.1 511.2,187.7 515.7,144.0 520.2,138.4 519.0,193.6 521.2,131.6 481.6,199.3 511.0,190.2 504.5,206.8 505.0,201.5 471.0,206.2" fill="none" stroke="none" marker-start="url(#mk)" marker-mid="url(#mk)" marker-end="url(#mk)"/>
<polyline points="575.8,42.9 601.5,42.9 566.0,43.5 551.3,54.5 536.0,109.7 538.0,113.8 524.7,147.2 527.8,168.0 522.7,172.7 533.5,87.6 536.5,103.1 524.4,117.1 536.1,82.0 553.3,65.9 533.0,114.2 530.6,169.4 531.7,174.2 523.4,158.4 525.6,175.9 540.3,118.6 528.6,99.6 527.9,89.5 523.3,139.7 547.2,122.4 526.4,171.3 525.3,161.3 531.8,115.8 528.8,97.8 527.8,180.6 537.1,134.6 525.6,116.8 544.4,79.6 525.4,192.4 532.2,86.6 528.3,100.8 534.3,111.9 540.3,77.0 523.8,196.6 553.6,48.6 523.9,173.9 547.3,65.0 527.5,103.3 525.8,189.4 540.4,115.7 524.2,159.3 547.2,54.5 529.4,111.5 528.0,124.7 524.3,171.2 525.4,107.2 536.1,95.7 535.0,92.7 546.1,102.9 541.7,92.7 537.1,155.3 524.8,125.0 527.6,156.4 547.3,118.6 543.2,104.5 532.3,108.1 576.8,104.7 530.7,125.1 532.5,185.2 527.9,170.3 533.6,180.4 525.6,190.2 528.1,144.4 527.8,123.2 540.6,158.8 544.7,158.6 529.4,97.2 532.1,156.8 534.4,115.0 548.6,95.3 528.7,96.9 531.6,119.6 567.3,78.9 538.7,101.3 524.6,134.4 530.4,189.6 527.3,97.1 531.0,206.1 554.3,118.9 552.3,97.0 531.0,95.9 530.0,187.9 536.0,73.1 563.1,52.3 538.8,114.1 526.3,178.2 537.9,188.4 523.6,171.9 546.8,163.7 529.7,145.1 536.7,128.1 528.5,181.4 547.0,131.4 534.1,76.0 529.0,105.3 549.2,161.8 541.2,125.4 534.7,112.1 524.6,155.3 523.5,106.8 531.0,102.3 526.0,120.9 533.2,119.1 523.8,131.1 545.6,93.7 543.8,110.3 532.7,195.3 527.7,102.5 524.5,117.6 525.4,140.7 552.9,54.7 540.3,74.9 523.8,172.1 526.7,140.6 537.2,173.6 541.1,170.6 528.0,194.7 528.1,177.3 532.1,114.0 523.7,160.8 523.7,121.7 528.9,145.8 540.1,131.0 558.2,72.5 531.0,106.4 524.0,119.0 525.5,158.8 527.1,201.2 552.5,92.5 526.1,151.5 536.3,140.5 541.5,95.6 530.4,118.4 536.6,111.6 523.4,110.6 541.9,81.8 542.6,70.0 523.8,165.8 535.7,81.1 531.3,101.0 533.0,135.0 540.0,73.4 539.5,105.2 532.7,79.5 533.8,101.8 526.0,151.2 543.3,93.7 530.0,196.6 529.0,103.5 595.6,49.1 523.4,176.8 582.0,91.1 537.2,99.1 527.1,117.3 529.2,109.0 529.8,154.8 525.9,204.5 552.3,108.3 537.7,82.0 527.5,139.0 523.8,129.4 529.1,150.2 538.8,125.7 547.4,86.8 526.1,120.3 545.8,62.0 531.1,119.8 554.8,97.9 531.0,89.7 574.3,101.4 529.8,152.4 539.0,93.9 533.0,114.3 536.2,92.0 523.6,106.2 524.7,110.9 524.7,102.7 532.7,192.4 538.3,152.1 523.5,159.4 537.8,80.4 534.3,107.9 545.3,79.1 525.0,199.0 547.6,111.0 540.7,119.8 541.9,67.8 532.7,133.6 544.4,85.9 524.1,124.3 529.4,152.0 536.9,84.4 527.0,158.5 538.3,104.5 524.2,139.3 550.2,69.0 532.1,179.4 525.4,170.2 523.5,175.7 535.5,126.2 537.5,74.6 523.9,139.9 526.4,150.7 523.3,149.0 526.4,113.3 591.8,62.7 538.2,153.7 523.3,138.2 525.9,186.5 533.3,96.2 533.2,147.9 530.1,207.2 548.6,70.3 541.2,73.6 539.2,89.7 526.1,171.5 574.9,69.7 533.3,125.3 530.7,136.4 562.4,88.6 533.1,87.9 526.7,152.1 526.5,167.0 526.1,113.6 532.0,115.5 538.1,73.4 527.7,90.4 535.8,109.2 529.8,173.1 523.6,129.7 525.5,206.8 552.8,85.9 524.4,108.5 524.7,174.8 523.4,200.8 525.5,193.4 523.7,145.5 543.4,73.2 555.0,83.1 568.8,97.8 537.0,101.7 533.6,123.4 526.8,99.0 554.7,65.2 564.3,82.1 539.7,110.7 526.4,200.4 538.3,94.1 533.1,99.7 533.5,108.8 525.7,138.4 529.1,188.7 523.8,192.6 527.1,100.8 534.6,160.7 531.9,143.2 528.7,93.9 532.0,104.3 528.8,91.2 541.9,103.1 525.7,154.3 534.1,158.5 526.9,123.2 526.7,164.4 524.3,202.7 523.5,206.0 547.7,64.8 601.7,42.0 539.3,88.6 550.9,80.8 539.7,140.8 524.6,199.8 526.7,128.4 534.9,80.8 524.3,133.8 530.0,137.7 526.2,133.4 526.8,105.1 535.6,129.0 532.5,131.9 524.8,165.2 527.1,143.7 533.8,120.6 589.7,67.6 524.6,129.6 523.7,142.3 550.6,56.0 534.0,179.6 538.2,91.6 524.7,140.4 524.3,169.9 524.9,182.4 550.9,56.8 532.5,102.7 538.4,83.1 538.2,164.7 529.8,106.8 526.3,131.0 525.6,165.6 523.7,194.2 535.8,150.7 546.3,82.2 524.3,154.5 560.7,91.1 567.2,75.9 524.9,138.1 526.9,112.9 540.0,131.2 542.2,139.1 568.7,66.2 525.4,159.6 529.6,86.2 523.8,167.8 531.5,166.3 549.7,143.8 526.0,96.0 542.9,164.5 544.8,71.3 525.2,146.7 530.0,85.5 523.3,130.9 572.5,87.0 524.0,158.2 549.5,96.0 546.8,102.8 525.7,109.6 523.9,113.5 537.6,123.9 545.8,130.1 524.7,137.7 537.7,173.0 527.3,108.2 531.2,97.8 525.3,176.5 568.2,42.3 523.9,126.6 532.1,183.2 540.6,68.7 537.0,83.4 523.9,148.2 525.2,108.7 555.8,86.0 526.6,109.4 523.4,161.1 531.8,107.0 540.5,134.3 539.4,75.3 526.5,194.3 526.4,122.8 534.1,114.9" fill="none" stroke="none" marker-start="url(#mr)" marker-mid="url(#mr)" marker-end="url(#mr)"/>
<path d="M575.8,42.9L619.7,42.9" stroke="#111" stroke-width="0.9"/>
<path d="M624.2,42.9L618.7,45.5L618.7,40.3Z" fill="#111"/>
<text x="626.6" y="46.7" font-size="9.6">SOS1 S1120</text>
<path d="M551.3,54.5L619.7,54.5" stroke="#111" stroke-width="0.9"/>
<path d="M624.2,54.5L618.7,57.1L618.7,51.9Z" fill="#111"/>
<text x="626.6" y="58.4" font-size="9.6">GAB1 S251</text>
<path d="M536,109.7L578.6,99.2" stroke="#111" stroke-width="0.9"/>
<path d="M583,98.1L578.3,101.9L577.0,96.9Z" fill="#111"/>
<text x="585" y="99.5" font-size="9.6">RAF1 S29</text>
<path d="M538,113.8L580.5,112.5" stroke="#111" stroke-width="0.9"/>
<path d="M585,112.4L579.6,115.2L579.4,110.0Z" fill="#111"/>
<text x="588.1" y="114.8" font-size="9.6">GAB1 Y660</text>
<path d="M524.7,147.2L562.8,147.2" stroke="#111" stroke-width="0.9"/>
<path d="M567.3,147.2L561.8,149.8L561.8,144.6Z" fill="#111"/>
<text x="568.7" y="150.7" font-size="9.6">IRS2 S675</text>
<path d="M527.8,168L556.0,168.0" stroke="#111" stroke-width="0.9"/>
<path d="M560.5,168L555.0,170.6L555.0,165.4Z" fill="#111"/>
<text x="562.6" y="171.1" font-size="9.6">RPS6KA3 S17</text>
<path d="M522.7,172.7L553.9,189.7" stroke="#111" stroke-width="0.9"/>
<path d="M557.9,191.9L551.8,191.5L554.3,187.0Z" fill="#111"/>
<text x="549.3" y="202.2" font-size="9.6">EPHA2 S898</text>
<text x="336" y="330.7" font-size="19" font-weight="bold" fill="#000">d</text>
<rect x="376.4" y="342.4" width="238.3" height="212.1" fill="none" stroke="#888" stroke-width="1"/>
<path d="M376.9,516.2H614.2M468.0,342.9V554.0M523.2,342.9V554.0" stroke="#d6d6d6" stroke-width="0.75"/>
<path d="M372,552.2H376.4" stroke="#888" stroke-width="1"/>
<text x="367.5" y="556.9000000000001" font-size="13.3" text-anchor="end">0</text>
<path d="M372,524.5H376.4" stroke="#888" stroke-width="1"/>
<text x="367.5" y="529.2" font-size="13.3" text-anchor="end">1</text>
<path d="M372,496.8H376.4" stroke="#888" stroke-width="1"/>
<text x="367.5" y="501.50000000000006" font-size="13.3" text-anchor="end">2</text>
<path d="M372,469.1H376.4" stroke="#888" stroke-width="1"/>
<text x="367.5" y="473.8" font-size="13.3" text-anchor="end">3</text>
<path d="M372,441.4H376.4" stroke="#888" stroke-width="1"/>
<text x="367.5" y="446.1" font-size="13.3" text-anchor="end">4</text>
<path d="M372,413.7H376.4" stroke="#888" stroke-width="1"/>
<text x="367.5" y="418.40000000000003" font-size="13.3" text-anchor="end">5</text>
<path d="M372,386.0H376.4" stroke="#888" stroke-width="1"/>
<text x="367.5" y="390.70000000000005" font-size="13.3" text-anchor="end">6</text>
<path d="M372,358.3H376.4" stroke="#888" stroke-width="1"/>
<text x="367.5" y="363.00000000000006" font-size="13.3" text-anchor="end">7</text>
<path d="M385.0,554.5V558.1" stroke="#888" stroke-width="1"/>
<text x="384.4" y="574.0" font-size="13.3" text-anchor="middle">−4</text>
<path d="M440.3,554.5V558.1" stroke="#888" stroke-width="1"/>
<text x="439.7" y="574.0" font-size="13.3" text-anchor="middle">−2</text>
<path d="M495.6,554.5V558.1" stroke="#888" stroke-width="1"/>
<text x="495.6" y="574.0" font-size="13.3" text-anchor="middle">0</text>
<path d="M550.9,554.5V558.1" stroke="#888" stroke-width="1"/>
<text x="550.9" y="574.0" font-size="13.3" text-anchor="middle">2</text>
<path d="M606.2,554.5V558.1" stroke="#888" stroke-width="1"/>
<text x="606.2" y="574.0" font-size="13.3" text-anchor="middle">4</text>
<text x="494.6" y="593.9" font-size="13.4" text-anchor="middle">log (fold change)</text>
<text transform="translate(347.4,450.9) rotate(-90)" font-size="13.6" text-anchor="middle">−log10 (<tspan font-style="italic">q</tspan> value)</text>
<text x="496.2" y="335.4" font-size="13.5" text-anchor="middle">FGF4 20 min vs. control</text>
<polyline points="494.4,546.6 500.1,538.9 486.3,538.9 498.6,546.9 488.5,545.5 488.5,530.5 493.8,546.1 491.6,535.8 498.6,547.2 513.2,531.7 512.8,540.1 488.1,525.0 503.8,533.9 504.1,538.9 487.6,527.5 492.9,544.0 502.2,531.3 495.9,548.5 495.3,548.8 495.9,548.6 500.4,536.5 511.1,529.6 512.2,532.8 492.8,543.6 498.7,541.6 498.1,544.7 489.9,535.7 483.3,528.0 496.6,546.8 501.4,538.9 503.0,522.4 484.2,524.5 485.1,541.3 491.4,539.1 484.0,534.7 484.5,530.4 496.8,547.0 494.7,547.1 500.4,534.9 502.2,524.2 495.1,548.6 499.1,545.4 492.8,548.3 488.2,541.1 494.2,547.2 502.5,537.2 489.8,528.4 493.1,545.4 502.9,532.2 514.5,521.1 488.8,526.9 494.4,547.2 499.5,545.5 490.5,534.0 489.9,540.3 496.3,548.0 511.1,528.4 494.1,545.8 487.6,528.7 480.8,517.9 484.6,534.9 491.3,535.4 489.7,537.1 500.0,534.2 497.3,544.6 500.1,537.9 496.4,548.8 506.1,526.7 492.5,546.4 480.4,521.7 511.4,520.0 494.4,546.9 505.6,524.9 487.5,541.2 489.0,535.2 485.6,538.3 494.4,547.3 500.5,537.1 511.2,537.3 503.6,528.5 490.7,545.9 484.7,529.6 468.4,522.9 502.9,530.6 500.5,540.9 509.8,519.3 485.4,528.4 497.8,546.7 486.8,520.2 493.5,544.3 501.9,524.8 505.3,534.7 491.6,539.7 492.2,543.9 499.5,536.7 506.2,544.5 504.1,536.0 502.0,527.8 484.1,540.4 507.5,539.1 505.2,516.7 479.1,544.1 503.3,524.8 496.8,546.6 487.9,527.8 502.7,524.2 483.5,516.8 491.6,542.1 492.4,541.3 488.5,532.5 487.5,527.5 500.9,545.7 491.2,536.6 491.1,546.1 489.3,530.6 499.9,541.2 493.4,548.1 492.7,545.2 497.4,548.1 489.9,544.4 489.6,538.0 497.6,543.7 495.1,548.2 490.3,533.3 492.8,547.2 500.1,542.4 502.8,520.5 503.8,528.8 502.8,520.9 489.9,546.9 495.7,548.8 499.9,539.8 481.0,518.4 500.3,547.0 496.9,547.1 509.1,532.4 509.6,516.9 492.6,547.5 489.3,546.2 497.8,546.0 500.1,543.9 500.7,539.0 499.0,546.9 504.2,523.8 479.9,522.4 498.5,545.3 493.0,548.2 501.2,537.2 496.3,547.7 497.1,546.9 494.5,548.1 503.1,539.0 492.7,542.3 497.0,547.3 504.9,523.2 495.3,548.5 494.8,548.2 500.6,540.0 491.0,546.6 497.2,547.3 491.4,536.6 489.6,540.4 513.0,528.3 492.9,548.2 494.1,547.2 505.8,524.8 494.1,546.8 502.2,545.7 492.4,545.6 512.5,533.9 510.0,537.5 485.5,541.5 499.3,544.7 504.9,526.7 488.9,547.5 510.4,532.4 497.5,548.1 510.4,536.4 491.7,547.5 494.6,547.6 510.3,540.1 509.5,539.4 489.4,539.8 487.5,546.1 499.5,544.8 492.4,539.3 488.3,544.2 503.9,523.1 484.1,522.7 501.9,540.0 487.6,523.7 502.6,531.7 507.1,523.0 503.9,540.2 505.1,540.2 494.1,547.3 501.8,525.4 504.5,537.3 490.2,530.0 487.9,532.5 487.9,537.3 495.0,548.2 486.5,539.7 489.6,527.0 487.2,545.8 493.1,544.5 490.0,544.8 495.0,548.1 496.5,548.2 502.3,545.3 492.8,540.6 502.8,544.9 492.5,540.6 497.1,546.8 489.7,536.5 492.3,545.7 495.1,548.4 509.3,543.8 488.5,523.2 502.6,547.1 490.6,535.0 498.5,543.4 490.0,543.2 483.5,527.2 484.3,537.9 512.5,538.5 488.6,544.6 500.2,536.2 503.7,543.7 491.7,543.7 495.6,548.9 502.4,538.8 487.9,531.3 497.1,546.9 503.1,543.6 478.2,536.8 501.0,534.8 491.0,547.7 484.7,533.3 486.7,525.9 500.4,535.4 490.5,536.5 496.7,548.0 498.5,542.0 498.7,544.1 492.2,546.8 491.9,546.3 502.0,536.5 481.2,526.2 515.2,532.7 500.9,530.0 491.6,547.4 486.0,526.5 483.8,519.8 505.9,517.6 495.1,548.1 504.3,520.3 498.7,546.9 499.3,537.8 488.7,536.3 494.0,545.4 495.9,548.7 489.9,543.6 488.0,533.0 490.8,534.5 522.0,528.7 514.1,517.5 498.3,547.3 498.2,547.2 504.1,517.3 490.7,544.0 495.0,548.8 508.3,537.0 502.3,531.4 492.7,543.5 501.2,532.7 507.3,519.3 500.6,547.7 497.9,544.2 497.4,546.0 482.5,535.0 501.3,532.4 490.6,545.3 486.9,532.8 492.2,545.5 504.1,527.8 499.0,544.8 491.7,538.2 503.9,541.4 492.0,544.2 478.3,532.2 501.0,547.3 491.7,544.7 482.5,529.3 484.3,538.5 487.3,533.7 502.1,543.7 513.1,535.8 487.5,530.9 493.8,547.2 510.4,519.3 510.4,533.7 498.2,544.5 497.3,546.2 504.6,528.5 489.2,544.6 486.2,539.9 499.5,542.7 482.3,523.7 506.6,530.7 499.7,543.0 506.1,534.1 493.8,548.3 501.3,528.1 484.3,540.8 488.3,522.6 484.2,534.5 491.8,544.5 498.2,542.3 494.1,545.8 494.2,545.9 489.4,546.7 496.5,547.0 514.8,518.7 515.7,516.3 496.6,546.7 491.0,533.4 496.3,548.8 504.4,521.9 491.2,534.3 484.6,522.4 503.0,526.7 489.7,531.8 493.6,547.7 508.0,542.1 504.2,520.3 507.7,523.8 507.3,533.4 493.5,545.4 487.3,544.6 484.7,535.3 509.1,527.1 498.2,547.1 492.4,545.3 490.6,544.6 483.4,542.7 503.2,534.3 488.2,536.4 490.3,534.2 503.1,538.4 510.9,527.5 499.5,535.9 507.6,539.5 495.5,548.8 497.1,545.5 494.5,546.8 481.4,521.4 507.5,518.8 489.0,526.5 495.8,548.8 492.9,540.9 510.1,537.9 504.3,523.7 496.9,547.5 503.0,546.0 496.8,547.4 496.2,548.0 501.5,534.1 502.6,540.8 491.2,541.0 486.9,530.4 491.2,539.8 493.7,544.6 503.1,546.3 492.6,546.4 495.2,548.7 490.4,545.5 497.6,545.7 495.3,548.4 493.6,545.2 490.1,535.0 504.6,525.0 488.2,529.5 513.2,518.1 500.5,536.0 484.9,516.5 518.4,542.4 490.8,544.4 483.7,522.4 495.5,548.9 494.7,548.3 499.7,542.8 493.1,542.8 505.4,536.7 500.1,547.8 492.4,539.6 511.6,532.1 491.2,545.9 501.7,547.1 503.1,542.8 484.7,537.4 489.6,532.9 498.5,545.1 493.1,542.7 498.2,544.6 485.1,536.2 486.3,522.3 492.2,548.2 507.3,537.4 503.3,538.3 506.8,517.3 493.8,547.0 498.5,544.6 511.4,523.8 498.4,546.0 492.2,538.8 497.7,545.2 514.2,534.9 484.7,541.9 510.0,521.5 502.0,528.9 489.0,543.4 499.1,544.7 495.5,548.8 497.9,544.6 499.3,537.8 497.9,543.3 499.1,545.8 480.2,517.6 498.0,546.2 489.7,530.7 502.9,531.2 502.9,536.9 506.5,527.3 497.3,547.8 488.5,531.1 489.9,542.8 489.5,530.2 502.4,529.8 515.6,528.6 497.6,546.1 492.0,541.7 497.1,546.9 506.2,521.4 484.4,544.0 506.1,533.3 507.8,520.1 489.3,541.8 500.1,537.2 495.8,548.9 501.2,539.9 484.4,523.7 503.8,533.0 501.2,545.4 495.6,548.9 481.6,533.3 490.5,543.0 497.3,548.5 495.7,548.9 489.5,531.1 496.0,548.4 501.6,537.5 492.8,544.1 486.1,523.3 489.0,527.5 490.2,531.0 497.4,548.4 484.1,542.3 505.9,542.1 513.5,520.9 495.0,548.1 502.7,528.2 486.3,534.0 488.9,535.4 499.5,545.1 491.9,545.7 506.1,530.5 493.9,546.0 489.3,541.3 485.8,517.3 497.8,543.4 510.4,517.7 484.6,530.7 499.6,545.2 514.8,536.2 495.9,548.8 501.8,526.1 489.0,543.4 487.8,540.1 482.9,537.4 500.5,532.2 502.0,533.1 493.9,545.3 492.5,546.1 499.2,547.7 493.2,545.5 491.5,537.3 494.2,548.1 490.0,534.5 488.1,536.6 509.3,542.2 511.4,537.7 497.9,548.4 499.3,540.5 496.2,548.7 492.8,543.0 495.0,548.7 488.2,547.3 497.4,548.1 485.7,538.8 489.1,542.3 487.8,522.8 502.6,524.6 497.5,547.7 503.0,520.5 495.6,548.9 509.6,516.4 488.5,525.8 493.6,546.0 493.9,546.2 509.1,535.6 492.0,542.4 505.9,526.4 500.2,541.6 491.7,538.8 486.4,526.1 498.8,546.9 487.9,529.6 496.8,547.0 489.4,539.6 480.9,517.1 486.8,543.7 502.5,546.0 495.8,548.7 510.0,542.4 513.3,533.4 495.3,548.8 485.2,543.4 493.6,545.2 509.4,517.2 502.3,525.9 496.9,548.1 501.0,533.1 506.7,543.6 494.0,547.4 477.5,540.6 482.3,529.1 492.4,541.9 498.5,544.7 498.1,543.5 489.7,533.8 511.5,527.3 495.1,548.1 501.5,540.2 495.9,548.7 502.2,542.9 493.1,547.4 485.4,526.9 494.5,547.8 509.6,525.8 491.9,546.7 497.2,545.7 487.8,525.2 509.0,527.8 492.1,545.5 504.0,522.9 495.8,548.8 491.5,542.6 500.3,539.9 504.4,522.7 505.3,519.2 501.4,536.0 495.2,548.3 494.3,546.2 496.6,548.4 500.6,539.1 496.4,547.5 482.8,516.5 495.7,548.8 492.7,545.7 493.7,547.1 482.3,530.6 512.3,537.9 491.3,541.5 491.0,540.4 522.3,518.8 499.3,546.2 494.1,547.6 500.0,547.4 513.4,541.8 500.8,537.7 492.1,541.5 506.2,541.1 506.0,531.2 504.5,521.0 491.1,547.7 494.2,545.4 496.5,547.7 499.3,536.9 495.0,548.2 502.1,545.3 512.7,531.3 495.1,548.5 489.2,538.1 495.9,548.6 500.6,541.4 497.7,543.1 498.9,547.5 480.9,525.5 492.8,547.7 502.2,524.0 486.6,525.1 500.1,540.0 489.1,537.0 486.4,542.5 497.8,547.9 497.6,547.1 505.6,539.1 516.5,530.7 502.8,543.6 494.6,547.2 491.0,535.4 500.0,536.2 496.7,548.1 494.3,548.7 494.0,548.4 501.0,542.2 491.6,538.5 488.3,538.2 493.9,548.4 503.4,531.1 497.9,547.5 499.7,536.8 495.5,548.8 512.7,520.7 500.1,536.6 500.6,544.6 497.2,545.9 508.7,517.6 500.7,540.8 493.7,543.7 500.0,536.6 495.3,548.8 502.1,545.9 500.0,539.2 485.6,525.8 495.5,548.8 487.0,541.7 486.0,542.8 492.8,540.8 491.2,545.0 499.7,542.8 493.4,544.1 503.2,519.6 499.5,542.1 496.0,548.4 498.8,546.4 497.9,546.2 479.7,519.5 493.2,548.4 499.9,535.3 496.1,548.8 500.5,542.4 495.5,548.7 486.2,530.9 493.0,547.8 506.2,542.5 495.7,548.8 503.9,546.6 511.3,529.0 497.9,544.3 501.2,543.4 501.2,531.7 492.4,542.8 515.1,522.3 504.5,528.7 499.2,543.7 494.7,548.5 489.1,546.2 491.8,538.9 498.7,545.9 495.3,548.7 497.9,546.8 503.0,544.4 497.6,543.8 491.4,542.6 497.5,544.7 485.9,528.0 490.2,546.2 494.3,547.7 495.1,548.5 497.9,544.7 504.7,536.9 487.3,533.2 491.1,537.3 489.1,532.2 495.9,548.7 505.3,540.2 492.5,542.2 491.8,540.0 499.9,536.5 488.9,546.5 494.3,547.0 487.1,536.4 504.5,535.7 493.9,548.0 499.8,542.1 492.7,546.6 493.6,545.0 495.2,548.4 497.7,547.6 491.4,540.2 495.2,548.5 498.5,542.0 500.1,536.6 486.9,529.8 503.8,538.0 495.2,548.4 494.9,547.9 496.1,548.3 492.8,543.9 496.4,547.6 507.8,525.8 490.7,531.4 492.8,545.4 483.5,545.7 503.2,521.6 490.2,539.4 489.0,543.8 502.1,542.9 519.2,540.5 491.2,544.6 499.1,538.2 490.0,535.1 495.6,548.9 498.4,547.1 490.2,546.4 496.5,548.6 495.3,548.5 488.7,544.1 481.3,535.2 498.4,545.1 493.6,546.5 496.0,548.5 510.2,540.0 494.0,547.2 499.1,538.5 488.7,523.1 500.8,537.5 500.4,541.1 496.2,548.7 500.1,534.1 496.3,548.2 496.0,548.8 498.3,544.1 493.5,548.1 503.0,539.9 501.1,532.3 498.9,546.5 497.9,545.0 497.8,543.2 494.0,547.1 479.5,535.7 498.5,545.9 501.0,544.9 470.0,538.1 493.2,544.2 500.4,535.4 501.6,541.7 489.0,524.3 497.4,545.7 495.9,548.5 495.7,548.8 489.9,530.7 484.1,537.2 513.3,539.5 504.6,521.9 494.0,546.4 512.1,524.8 511.0,533.0 510.9,544.7 496.0,548.5 486.5,529.2 499.6,544.1 490.9,534.4 490.5,530.9 491.7,536.7 500.3,536.4 494.5,548.5 488.3,526.3 497.2,545.3 513.4,521.1 495.6,548.9 504.3,531.8 493.0,547.1 492.5,539.3 506.9,533.3 498.1,547.8 488.4,521.4 495.7,548.8 497.5,547.8 496.3,547.9 486.5,525.1 498.3,542.6 475.3,522.6 513.6,529.6 488.6,530.8 513.9,520.1 502.8,530.8 490.6,546.3 511.6,526.7 489.1,544.2 490.0,544.9 497.5,544.1 497.9,544.6 490.1,539.0 495.8,548.8 510.4,544.1 489.4,528.0 502.4,543.5 489.5,541.2 493.0,547.5 496.5,548.1 485.0,518.0 495.4,548.8 496.7,548.2 502.9,531.5 501.5,536.6 506.6,543.7 501.1,535.5 500.2,533.4 499.7,538.4 500.1,539.7 496.8,548.7 490.6,544.3 490.6,534.7 499.7,542.8 486.7,530.5 494.0,547.8 491.6,541.4 491.5,543.1 500.9,537.7 486.9,527.0 494.3,545.7 507.2,538.5 492.8,548.2 494.4,547.4 486.5,516.6 489.2,534.0 499.4,544.1 495.1,548.7 502.7,525.9 485.0,527.5 495.5,548.8 504.9,545.1 501.9,528.4 492.7,541.0 503.5,538.1 500.9,538.0 490.2,537.3 497.9,545.4 489.9,528.7 485.8,522.6 484.4,530.7 489.7,531.7 481.7,537.4 501.8,537.2 491.9,544.1 484.6,516.6 501.2,547.7 498.6,541.1 483.6,531.7 489.6,536.4 497.5,547.9 517.7,535.0 497.8,545.1 491.9,543.4 498.4,545.2 498.1,547.3 496.3,547.8 496.7,546.9 497.2,546.2 500.5,533.5 501.6,526.9 499.8,535.3 487.0,536.3 498.0,542.0 490.4,534.7 500.6,541.1 495.7,548.9 496.9,546.7 471.0,540.6 496.4,547.5 497.6,543.8 488.0,521.7 500.0,544.1 504.6,546.5 487.9,529.1 499.5,544.4 490.5,547.1 482.6,542.6 489.2,543.9 497.8,544.4 499.8,544.7 492.3,542.2 505.5,517.9 493.9,546.9 493.7,545.7 492.7,546.6 483.8,516.8 498.8,544.2 500.2,542.6 503.1,542.3 493.8,546.6 509.8,524.5 498.5,548.4 500.0,535.3 514.6,539.1 494.2,548.4 490.5,540.4 488.2,540.1 503.9,530.4 483.8,543.5 511.8,525.3 497.1,547.8 503.9,534.8 510.5,519.0 476.2,541.2 489.0,525.0 485.1,542.5 493.4,543.6 493.1,545.9 495.0,548.4 499.9,537.4 501.8,543.5 497.5,547.3 489.3,533.6 482.0,521.7 498.6,544.9 491.1,537.0 491.4,547.8 493.5,547.0 519.0,540.1 508.0,519.6 491.8,537.3 479.4,517.8 518.2,526.4 502.1,528.1 488.9,538.2 479.8,536.1 491.4,547.9 502.6,537.9 487.0,521.4 490.1,531.8 514.2,541.0 501.8,540.6 490.5,535.9 498.3,542.7 496.9,546.5 509.7,523.3 494.7,547.8 495.8,548.9 491.7,538.0 514.8,518.8 499.4,540.4 499.3,537.8 495.5,548.8 488.0,529.4 504.5,540.2 496.2,548.2 501.0,538.0 489.2,531.9 496.6,548.2 500.7,546.8 481.8,544.3 495.7,548.7 488.4,533.7 494.7,548.5 495.3,548.7 506.6,541.3 487.8,529.1 502.3,537.5 503.9,521.2 504.9,525.0 499.9,541.4 495.6,548.9 484.0,541.1 498.1,545.4 504.4,536.6 495.6,548.9 492.5,541.1 483.9,522.6 489.1,524.4 482.6,518.0 490.5,542.0 497.3,545.2 504.7,532.4 514.4,523.6 508.7,525.2 494.9,547.6 488.2,533.4 488.3,527.9 492.9,546.4 490.4,538.6 494.2,548.4 509.0,544.5 506.5,526.1 503.9,519.8 497.4,546.9 496.2,547.9 486.8,541.5 510.4,531.0 494.9,548.8 486.9,534.6 497.9,543.8 494.2,547.0 509.4,520.6 501.6,546.8 500.7,543.3 506.5,537.5 487.1,531.0 492.2,542.8 497.0,545.8 487.5,531.2 501.2,546.1 498.3,548.0 500.1,544.9 495.5,548.8 500.3,545.7 485.6,543.2 493.5,544.0 495.7,548.9 488.5,534.3 514.5,527.1 495.7,548.8 490.3,536.8 490.5,544.4 470.5,539.5 495.4,548.9 491.2,537.0 502.1,539.3 499.3,547.4 495.0,547.8 498.7,542.1 487.5,531.1 494.7,547.6 496.8,546.7 505.8,543.2 476.3,530.6 507.0,536.1 498.5,547.5 485.6,539.3 488.9,530.3 488.3,533.3 491.7,542.7 496.4,547.8 494.8,547.4 494.4,546.3 494.3,548.4 503.1,522.3 509.9,525.8 495.4,548.7 490.6,534.4 501.3,547.6 503.0,532.3 488.0,528.0 497.5,547.2 492.7,546.1 506.0,522.8 487.1,541.7 496.1,548.3 502.8,540.2 494.6,547.7 495.0,547.9 503.9,534.7 499.9,540.9 495.0,548.0 484.0,521.0 484.2,535.2 491.4,537.3 480.3,532.3 489.9,530.0 494.6,547.6 501.9,544.9 502.5,541.6 517.2,536.4 493.0,545.0 503.3,537.0 495.3,548.8 501.6,546.5 493.7,544.9 497.9,544.7 514.7,516.5 493.7,545.4 501.6,527.7 497.3,547.2 501.4,539.1 501.4,544.3 492.8,542.2 489.5,539.5 485.4,542.3 491.4,543.0 509.1,531.0 500.1,547.0 479.1,533.2 513.8,541.2 501.2,532.3 500.7,543.0 493.4,548.5 500.1,542.6 482.1,530.3 493.6,545.9 484.4,527.5 498.2,545.5 499.7,537.6 517.1,541.7 490.9,539.9 494.5,548.4 501.1,534.6 489.7,543.2 503.5,540.9 508.6,537.8 499.0,543.6 485.3,524.3 496.6,548.2 499.2,543.0 510.5,531.6 502.5,528.5 492.5,548.2 512.6,516.7 486.3,536.2 504.1,525.6 498.1,542.3 486.2,544.9 496.3,547.6 497.0,547.3 500.4,537.3 494.9,547.6 498.5,544.2 486.6,536.1 498.3,547.7 505.7,528.9 507.0,533.4 490.4,537.4 490.7,546.1 485.0,516.4 494.7,547.4 517.0,540.7 495.6,548.9 493.7,544.6 500.1,540.4 486.2,543.3 500.0,544.1 499.6,536.4 500.6,537.4 500.1,540.5 496.9,546.1 491.3,542.4 494.6,548.3 506.9,535.9 498.0,542.6 488.1,526.9 491.3,534.4 504.1,543.9 494.4,547.0 509.8,540.7 486.6,533.2 504.0,522.3 495.4,548.7 487.7,517.1 499.1,547.0 504.2,519.5 489.4,545.5 492.0,539.1 490.6,535.1 498.2,544.1 503.4,524.6 490.8,534.4 500.7,539.1 488.7,540.3 498.3,542.4 499.6,544.4 496.4,547.5 492.9,541.7 492.2,541.8 480.1,531.9 498.7,546.5 501.2,532.7 498.4,543.7 491.7,545.0 489.1,542.5 497.3,545.0 503.4,534.3 494.8,547.6 501.9,543.3 516.3,538.3 500.0,535.5 501.5,527.9 511.8,540.7 487.5,524.6 495.5,548.8 487.3,524.4 509.8,527.5 489.4,547.6 497.3,548.3 502.7,532.7 504.8,530.6 497.0,548.7 514.4,528.5 488.9,544.9 498.1,541.9 483.1,524.0 491.7,544.4 514.5,532.6 497.6,547.0 496.8,547.9 503.4,526.9 487.6,534.4 506.7,536.3 495.0,548.6 499.5,538.2 508.3,525.9 494.9,548.5 506.4,540.3 507.3,544.1 499.5,545.1 491.2,537.1 488.7,540.3 495.4,548.8 499.4,539.9 482.8,523.5 502.2,538.8 492.2,539.0 507.3,534.6 498.0,548.3 504.1,535.2 494.8,548.5 499.9,544.2 499.6,545.7 487.2,546.4 501.4,529.3 498.5,543.9 497.3,546.6 493.5,544.0 515.4,538.2 486.8,533.1 486.8,522.8 503.2,541.6 497.3,545.0 499.3,544.6 502.5,526.4 486.8,526.7 488.9,523.3 486.2,530.1 491.7,547.1 490.4,547.7 486.0,521.9 492.6,541.2 496.6,548.0 483.7,534.6 493.8,544.2 495.6,548.9 490.7,547.5 513.2,532.0 495.3,548.7 511.0,517.1 504.2,543.5 497.6,546.4 487.5,541.7 505.1,521.9 488.1,541.3 499.9,541.3 498.1,546.7 498.0,546.6 493.6,547.0 505.5,520.8 511.8,520.5 494.4,546.6 504.7,528.6 482.4,541.0 497.1,547.3 487.0,544.3 514.5,541.9 496.9,548.2 498.1,543.9 487.6,545.7 503.2,541.3 484.2,523.5 502.0,534.5 497.5,546.3 500.6,534.9 503.8,529.2 500.6,531.5 486.2,543.0 495.8,548.9 495.1,548.1 508.6,544.9 489.5,547.6 495.1,548.7 499.7,538.3 485.6,525.4 496.3,547.5 483.6,518.5 492.6,544.5 495.5,548.8 502.2,542.6 499.0,540.7 497.9,543.7 489.4,534.3 502.9,523.5 503.5,533.1 491.5,544.4 497.1,546.0 487.6,536.2 493.5,544.7 507.1,535.6 484.7,525.8 496.7,546.8 489.4,544.4 497.6,545.9 506.9,524.6 500.3,547.8 488.1,524.9 488.6,540.2 502.0,533.2 497.5,546.6 491.2,545.2 498.6,540.3 499.5,536.7 476.2,523.7 497.8,544.4 491.0,541.8 498.3,547.8 502.8,547.2 490.1,535.2 498.5,547.6 500.5,535.8 482.5,542.8 487.8,533.9 493.8,547.1 484.7,536.4 493.0,544.1 499.2,546.7 500.4,544.2 506.7,522.4 489.5,538.1 484.4,529.0 489.6,537.7 497.5,546.9 502.0,525.3 500.9,546.1 505.5,522.3 479.6,525.4 487.5,530.3 502.1,525.3 493.3,543.8 497.2,548.0 508.0,523.9 485.4,524.7 495.9,548.8 495.8,548.8 499.0,545.8 503.1,544.3 502.5,531.1 500.7,547.8 497.2,546.4 489.2,528.5 493.4,544.6 498.5,545.8 491.1,533.4 495.4,548.9 505.2,520.2 499.7,542.5 514.5,525.0 492.4,539.7 498.4,542.9 489.7,546.0 486.1,524.6 495.1,548.3 501.9,537.0 492.3,548.0 487.8,543.6 499.9,542.1 495.1,548.6 515.4,543.4 477.0,543.8 490.9,534.4 490.1,539.6 493.0,544.9 481.5,540.0 492.9,544.7 496.8,548.3 511.1,538.2 504.5,527.7 501.1,535.5 501.2,546.3 498.7,544.6 520.6,530.0 486.6,545.9 495.1,548.5 507.2,528.9 500.0,541.7 487.6,525.2 503.4,523.0 497.4,546.4 495.4,548.7 513.8,534.8 502.9,520.2 489.7,536.3 507.8,538.0 500.8,546.2 491.9,537.3 496.5,546.9 497.2,546.3 496.0,548.7 501.9,525.3 499.8,546.2 490.0,531.0 488.4,534.6 507.4,530.3 496.5,547.2 494.9,547.7 502.7,533.0 497.9,546.0 515.7,540.5 502.4,542.3 512.5,525.2 490.4,532.5 489.4,547.0 489.5,531.0 502.4,544.9 500.2,539.4 495.6,548.9 490.9,533.5 516.1,531.5 496.2,548.6 498.3,541.0 505.4,538.8 481.9,522.5 494.5,547.3 496.7,548.0 498.9,546.8 499.1,544.9 485.3,526.8 491.8,537.6 493.1,544.6 500.3,536.3 491.1,542.2 504.9,546.3 494.0,548.4 493.3,544.6 510.4,537.3 480.7,524.8 493.9,544.7 495.6,548.8 493.6,545.1 497.6,543.6 493.8,547.7 499.1,540.8 514.4,522.0 497.6,543.9 492.3,546.3 494.2,546.0 489.2,544.5 497.8,548.3 497.1,547.8 488.1,526.4 500.9,530.4 490.7,532.4 501.2,539.7 513.1,520.3 487.8,542.6 499.0,542.8 489.4,526.1 488.0,518.7 502.3,524.6 514.1,532.5 498.6,541.7 479.0,527.4 492.5,547.8 494.7,547.8 484.0,522.2 501.7,528.8 496.9,548.1 500.1,539.3 488.0,538.0 504.8,535.3 495.8,548.7 500.4,537.9 505.9,533.3 493.0,544.0 495.4,548.6 499.7,539.0 506.7,535.1 501.1,534.1 501.1,539.8 497.3,547.7 493.9,547.5 488.1,525.1 499.9,547.4 501.2,538.2 487.9,519.9 491.0,538.4 491.3,540.0 497.1,545.7 498.1,544.2 501.9,537.6 512.2,541.5 502.2,525.1 490.7,545.6 494.0,546.5 505.7,543.4 502.6,535.0 479.5,540.9 487.1,525.2 487.3,529.0 510.0,527.9 497.8,546.8 486.6,529.8 498.8,545.2 491.0,541.5 498.8,545.6 498.2,548.2 498.4,543.8 499.5,542.0 521.8,529.6 490.6,538.5 498.2,542.6 496.3,548.1 489.5,536.5 499.4,547.1 488.9,539.0 502.8,528.4 502.2,546.7 489.8,543.4 494.9,548.3 501.8,534.8 503.4,522.7 503.2,543.9 499.9,539.5 489.8,528.7 500.9,533.7 505.8,517.8 502.4,533.9 496.9,548.2 490.1,547.2 507.4,544.4 487.2,529.3 506.0,521.5 490.5,538.2 502.9,524.2 505.7,519.5 503.8,531.3 499.6,540.5 500.2,538.4 502.1,541.8 513.7,529.6 500.1,534.9 493.7,544.1 493.2,546.4 496.5,548.5 503.4,524.0 502.9,533.9 495.3,548.8 512.3,530.3 496.0,548.8 495.3,548.7 501.0,534.6 506.8,520.1 498.2,547.7 502.0,546.1 487.7,538.2 503.9,518.3 494.3,547.1 502.9,524.9 504.0,534.0 507.1,540.1 486.1,526.5 501.4,547.6 489.7,532.2 504.7,525.6 498.1,548.4 494.0,547.5 505.3,530.2 486.8,542.3 503.0,536.2 498.7,548.4 485.9,523.4 507.0,539.4 507.0,544.6 487.0,529.7 489.2,533.6 509.4,542.4 506.1,535.5 497.2,546.7 487.7,528.5 493.3,544.5 504.1,527.4 501.1,541.4 504.4,520.9 488.8,537.5 508.5,519.5 494.7,547.2 498.4,544.5 495.4,548.7 501.0,533.7 499.3,541.7 495.1,548.3 505.6,530.4 492.0,543.1 483.3,524.5 484.9,527.7 479.4,523.3 492.1,542.5 482.0,524.0 486.5,519.9 506.5,543.7 485.9,540.8 507.7,527.4 494.6,548.4 493.0,547.9 482.8,533.0 499.9,534.7 475.8,520.7 500.6,534.2 492.8,541.3 504.7,538.0 503.8,542.1 499.9,543.0 498.7,542.4 503.4,518.3 491.7,544.4 498.6,540.5 497.1,548.4 504.9,542.5 489.7,536.4 480.6,536.9 491.7,542.5 485.4,539.5 505.7,523.6 494.5,548.5 493.9,546.7 492.0,546.4 492.3,543.6 493.3,547.7 502.3,545.0 504.0,546.9 501.5,529.6 502.5,528.2 496.0,548.5 497.9,542.8 516.4,532.1 506.2,533.4 493.5,543.6 496.9,547.1 493.7,547.3 499.6,541.7 493.9,545.1 495.7,548.7 497.8,547.3 496.8,548.5 488.9,536.5 488.2,529.6 487.2,518.5 487.8,539.6 481.3,521.5 514.8,523.0 493.2,542.8 503.2,543.4 497.3,548.1 491.8,543.2 511.6,538.7 495.2,548.3 502.8,534.1 503.5,523.8 509.7,541.8 482.0,539.1 493.5,545.2 501.0,530.5 498.5,540.6 490.7,534.6 486.6,524.7 496.9,548.4 507.9,521.5 488.9,539.2 504.6,532.0 504.9,525.0 494.5,546.7 503.6,527.0 480.7,520.0 496.6,547.9 503.2,526.0 504.8,525.6 512.2,526.7 499.2,542.7 489.4,531.6 501.2,544.3 488.5,538.8 484.3,523.4 506.7,526.6 481.7,530.6 504.1,535.3 500.8,532.1 516.0,533.0 502.9,520.8 504.3,532.9 500.3,547.3 488.1,524.9 489.7,530.5 488.7,544.4 505.4,516.8 501.1,539.9 493.8,546.4 490.8,547.5 493.7,548.2 490.2,533.0 499.1,545.6 481.2,534.5 495.0,548.5 495.0,548.0 500.8,543.6 501.4,546.0 515.8,526.4 491.3,548.1 500.6,543.1 504.6,530.5 498.0,545.5 500.4,532.4 502.3,546.4 489.2,539.1 496.1,548.5 509.8,525.8 492.8,547.6 484.1,528.8 483.5,530.1 471.7,536.4 488.9,524.9 501.0,540.2 493.9,545.4 485.3,522.6 490.0,529.2 493.0,542.0 497.9,548.5 491.1,545.8 492.6,547.8 483.4,521.7 511.6,524.5 497.8,543.1 486.6,539.6 497.5,546.2 483.2,531.5 502.7,527.2 501.1,545.7 497.1,546.1 485.6,527.7 499.5,537.5 487.0,518.1 499.9,537.0 499.0,539.5 493.1,543.5 485.3,516.4 503.4,540.5 492.4,542.5 507.5,531.9 507.0,541.0 492.6,543.2 489.2,540.7 502.5,538.7 486.4,517.9 496.4,548.8 499.6,546.0 509.7,517.0 507.0,525.2 482.7,544.8 491.3,535.2 495.4,548.8 486.3,517.1 486.0,544.5 504.1,536.4 500.2,539.3 496.5,548.4 483.6,519.3 502.7,525.4 496.1,548.3 515.0,521.9 510.3,518.8 487.9,532.6 492.2,547.1 492.9,547.4 507.3,526.4 491.5,537.3 503.3,538.6 501.2,547.7 499.3,544.4 498.6,539.8 483.1,517.8 490.1,538.2 514.6,529.4 486.1,533.3 509.8,540.7 491.5,547.6 485.3,542.7 496.5,548.3 515.0,534.7 505.4,542.1 487.6,531.8 493.4,543.3 494.3,546.2 517.5,523.8 499.0,543.1 503.4,535.5 499.3,545.8 482.4,544.4 504.9,532.6 496.3,548.8 497.5,546.3 503.0,534.1 503.2,522.0 485.2,535.8 504.1,533.9 500.6,546.8 503.6,520.1 486.7,534.3 518.1,529.7 502.6,522.2 502.0,526.7 477.4,542.3 500.3,546.1 502.7,524.1 501.9,534.0 498.5,541.0 499.6,546.6 489.5,526.7 494.6,548.5 493.3,544.3 492.5,545.9 489.1,541.7 497.2,545.9 500.9,546.7 499.7,540.5 489.6,533.6 496.7,548.7 502.3,528.6 503.4,524.1 499.8,538.9 504.0,524.1 488.8,531.8 496.1,548.4 498.1,545.7 490.2,545.6 510.0,527.4 495.5,548.8 489.2,532.2 501.1,534.6 496.3,547.8 507.4,517.8 496.7,546.4 498.0,541.9 473.9,517.1 494.8,548.0 504.3,529.7 493.7,548.2 492.3,545.3 487.0,545.8 498.4,546.7 487.4,531.9 474.7,518.7 487.9,523.2 488.7,535.8 499.1,544.1 505.4,525.2 493.8,545.0 501.5,546.5 494.7,547.6 494.7,548.2 496.4,547.4 512.4,521.1 493.7,548.2 503.5,540.5 495.7,548.9 500.6,545.3 505.0,528.7 506.8,526.6 485.5,527.1 498.0,542.4 500.8,533.1 496.6,547.3 479.2,524.6 505.3,541.4 503.4,517.6 504.2,518.7 502.9,540.4 495.7,548.8 492.1,540.7 497.7,544.9 496.5,548.6 513.9,542.0 497.0,547.1 503.1,523.1 496.1,548.5 498.7,545.3 508.1,526.9 515.4,525.7 485.1,536.7 499.4,544.2 505.1,522.3 497.0,545.6 492.7,541.0 494.9,548.4 498.2,544.7 491.3,540.4 492.4,542.7 511.9,540.3 510.4,523.2 489.7,534.7 491.6,541.0 509.1,537.2 495.2,548.3 485.2,529.0 497.7,546.5 494.9,547.9 488.8,535.1 484.1,538.8 504.7,543.1 493.3,547.2 494.7,547.3 502.7,524.3 489.8,542.9 487.8,528.2 496.3,548.0 507.3,540.1 475.9,536.6 477.5,530.5 500.0,534.5 480.4,535.8 492.4,547.0 487.6,540.6 497.4,547.6 504.2,519.2 488.0,524.4 489.0,536.4 488.9,545.2 483.7,532.0 494.6,547.8 500.3,541.7 497.6,548.5 494.2,548.0 496.8,548.5 492.4,545.2 496.4,548.0 487.9,518.5 504.0,516.6 495.5,548.8 494.4,548.3 481.0,518.3 503.2,542.6 478.6,520.3 511.7,519.3 495.7,548.8 516.4,531.5 515.7,542.6 506.3,517.5 489.4,545.7 493.7,548.6 506.2,537.7 491.5,542.4 498.9,547.3 494.2,548.4 495.6,548.9 493.0,546.4 504.8,542.1 496.6,546.8 494.1,548.4 493.5,546.2 501.0,539.7 490.7,546.9 494.9,548.6 511.2,536.2 504.3,527.4 505.6,533.0 485.7,538.9 491.9,548.1 499.3,541.3 486.7,543.4 488.9,524.7 493.0,547.4 482.1,527.7 495.6,548.9 505.5,542.5 510.8,545.0 491.9,545.8 507.8,534.2 502.6,521.7 497.9,545.7 499.9,543.1 506.6,516.4 492.9,548.2 516.3,524.9 496.0,548.3 492.5,548.0 497.1,546.8 512.0,530.7 496.7,547.6 504.1,521.7 500.2,534.9 506.2,524.1 500.4,533.4 486.6,540.3 500.6,540.4 503.6,542.2 489.3,524.9 502.8,523.2 494.6,547.3 499.1,537.8 501.6,538.7 493.9,545.0 487.2,528.4 496.0,548.5 496.4,547.5 489.0,528.6 522.3,540.7 511.0,538.7 498.0,547.2 500.8,529.9 494.7,547.1 498.2,543.0 511.5,535.2 489.9,538.4 492.1,540.8 478.3,537.8 496.2,548.5 493.6,547.8 506.2,537.0 491.2,533.9 494.9,548.7 485.9,519.4 496.8,546.2 495.8,548.7 495.3,548.4 498.6,541.7 498.4,540.6 499.2,540.8 489.2,533.1 498.8,539.2 506.3,541.5 494.0,545.0 502.6,542.1 495.1,548.7 487.0,541.9 498.3,547.2 497.7,547.3 499.3,545.0 500.2,544.0 491.5,547.1 501.6,532.6 490.7,547.2 489.3,530.7 504.6,546.8 500.3,541.5 497.1,547.1 491.1,536.7 500.9,545.4 489.4,535.4 512.5,526.1 492.4,546.1 496.7,546.7 498.6,543.6 492.0,546.0 506.7,533.1 472.0,521.0 488.5,521.2 512.5,525.6 502.9,524.1 498.1,541.9 496.3,548.1 496.2,548.3 507.8,540.7 489.2,538.0 490.1,537.2 501.1,533.7 487.2,519.6 491.0,538.5 505.3,528.1 496.0,548.7 495.0,548.5 495.2,548.7 496.7,546.5 502.5,540.4 496.1,548.6 488.1,519.5 493.2,546.3 479.4,518.6 495.6,548.9 495.2,548.3 499.8,534.8 510.7,520.7 495.1,548.5 512.0,524.7 499.3,541.7 486.7,523.6 499.8,543.2 516.2,521.5 491.5,546.0 492.8,541.4 488.4,527.1 495.0,548.5 494.0,548.2 494.4,547.3 501.4,538.7 502.3,538.5 491.8,540.9 501.1,529.0 519.9,540.7 496.0,548.4 493.1,542.4 474.9,522.3 490.9,534.8 499.4,541.7 496.9,546.2 507.5,542.6 496.7,547.1 501.9,541.4 478.3,525.7 496.9,546.1 512.3,533.3 505.4,528.6 493.4,546.8 496.8,547.8 489.3,532.5 503.4,528.2 488.7,541.1 486.8,518.5 501.5,532.6 508.5,528.8 479.6,524.4 499.7,536.8 501.3,528.9 490.7,534.1 506.9,523.8 492.6,548.2 496.8,547.6 508.0,542.0 493.3,546.5 503.0,533.8 496.1,548.8 492.2,547.3 486.9,529.9 492.8,540.7 493.9,546.6 493.3,542.7 483.6,533.8 486.0,546.0 497.6,543.7 518.2,523.9 495.3,548.4 495.3,548.6 494.9,547.9 501.8,535.1 502.1,540.0 490.4,541.1 489.3,538.6 498.0,546.8 511.1,529.2 505.3,517.7 500.7,531.9 493.4,544.2 491.0,538.9 491.4,536.6 510.7,533.8 512.3,542.8 508.3,531.9 487.2,522.8 511.4,538.4 486.4,530.5 503.5,530.7 503.4,540.4 498.0,545.4 493.9,545.9 497.9,546.8 489.1,531.5 498.8,544.5 487.7,532.7 490.0,537.2 489.7,542.2 492.2,541.2 493.8,545.5 498.4,545.4 496.5,548.3 494.7,548.7 478.4,519.5 492.9,546.1 499.3,542.5 507.6,518.2 498.3,548.4 491.0,542.8 486.6,528.4 488.0,539.4 489.8,546.9 489.6,537.1 495.7,548.8 494.9,548.0 497.3,546.1 511.4,534.1 493.9,546.3 496.9,548.5 469.9,528.1 487.2,536.8 495.9,548.5 499.1,539.7 486.5,522.1 493.7,547.1 502.9,542.2 498.9,539.8 500.3,534.1 485.0,516.5 503.6,516.4 505.5,534.9 494.4,546.7 491.6,537.8 496.2,548.2 503.3,545.8 513.4,530.0 492.0,540.4 486.3,546.2 487.0,524.8 497.7,548.0 500.2,537.8 499.6,543.1 506.8,529.6 503.5,544.0 491.9,543.4 473.3,527.0 494.1,546.8 494.1,547.2 492.8,546.7 490.1,541.6 489.4,526.2 497.1,545.2 493.6,544.4 503.6,540.8 495.4,548.8 489.7,533.3 497.4,545.6 498.7,543.9 490.1,542.0 497.6,547.1 507.4,544.6 495.3,548.5 493.4,544.0 488.5,542.6 477.3,530.2 499.3,548.1 487.7,518.5 504.2,536.1 496.3,548.5 497.3,546.5 491.9,539.0 499.3,539.0 490.8,535.2 502.4,535.8 478.1,539.8 493.4,547.4 492.6,540.4 484.2,521.9 493.5,544.9 510.0,538.8 500.3,537.8 497.8,543.4 489.2,545.8 491.0,547.0 494.0,546.9 491.7,542.7 494.2,546.8 489.0,544.2 502.8,546.4 485.5,539.8 481.4,522.2 497.2,546.5 492.4,542.2 499.0,546.8 495.6,548.9 501.8,541.8 500.0,539.5 502.6,526.1 514.8,541.3 503.7,523.4 500.7,533.8 490.6,546.4 491.2,539.7 492.0,542.2 497.0,546.0 503.2,542.6 505.2,517.0 482.9,525.6 510.1,519.0 501.7,544.9 501.4,535.3 490.8,545.7 501.9,542.5 503.7,545.4 487.4,524.3 501.3,540.3 519.6,537.8 481.4,530.0 492.7,543.8 495.1,548.3 490.6,538.7 493.0,548.4 516.1,519.9 485.7,523.2 486.6,530.4 488.8,527.8 486.4,527.9 483.2,522.8 490.0,528.6 495.7,548.8 496.2,547.8 494.3,547.4 498.1,543.0 514.9,519.2 493.9,548.1 498.9,545.1 493.3,546.6 513.7,519.5 492.2,547.3 497.2,544.7 496.3,548.8 489.4,547.0 494.9,548.4 501.4,539.9 493.2,544.0 496.5,547.6 495.0,547.9 499.0,542.5 490.2,532.2 497.8,545.4 489.7,534.3 490.7,541.5 499.9,541.7 504.7,544.3 513.6,533.5 499.5,540.3 502.5,528.0 500.9,539.3 493.0,547.5 472.7,521.8 494.7,548.2 500.9,533.3 487.5,527.8 500.1,545.3 478.5,527.4 503.7,525.6 488.8,528.9 487.3,527.6 500.9,544.3 485.3,519.9 498.8,540.9 491.9,546.9 497.8,547.1 490.9,533.0 504.1,536.3 501.6,541.6 495.2,548.7 472.5,532.2 483.0,539.4 490.7,532.4 479.3,525.1 490.5,534.5 502.9,539.9 497.4,545.7 489.6,547.7 489.4,542.2 505.4,529.8 505.6,541.3 495.7,548.7 493.9,546.8 504.7,524.1 502.8,522.9 501.9,543.0 486.3,521.5 479.5,530.4 493.2,545.2 497.2,545.8 495.8,548.7 513.2,516.8 495.6,548.9 493.7,547.8 488.1,532.9 490.1,536.3 504.0,529.9 473.4,540.9 500.3,540.6 505.8,525.0 491.2,543.1 492.7,544.7 509.5,519.3 497.7,543.9 493.3,542.9 516.0,516.6 498.9,548.3 487.8,539.2 512.1,521.1 488.7,541.9 504.8,524.9 487.5,522.8 499.1,541.0 500.7,547.4 491.8,542.9 488.1,536.7 520.1,523.5 493.0,541.5 486.5,535.0 495.6,548.9 502.0,527.4 499.6,544.0 499.0,542.0 494.6,548.0 512.0,516.7 489.9,539.5 503.9,546.7 505.2,546.4 496.1,548.6 513.3,537.9 494.0,547.4 507.3,530.0 487.3,541.5 486.5,527.8 500.0,538.5 494.7,547.4 480.3,525.4 494.5,547.5 510.9,526.7 483.4,526.0 502.1,533.2 499.8,534.6 491.4,542.4 497.0,547.3 500.7,540.0 492.9,544.5 489.1,545.1 487.2,546.4 492.5,546.2 502.5,536.3 488.1,532.1 499.5,543.9 505.4,541.7 489.6,528.2 498.9,544.8 507.3,519.1 498.3,547.6 494.2,547.3 502.1,540.3 483.2,537.5 493.9,548.0 512.5,523.6 489.2,528.4 493.1,544.3 500.6,534.6 491.0,539.7 490.5,540.3 484.7,519.1 494.5,546.6 491.2,541.1 490.1,541.1 486.7,544.0 495.5,548.8 502.1,526.0 494.0,547.8 488.5,545.7 500.6,540.1 483.3,538.0 497.7,548.5 496.9,547.9 499.2,541.3 496.9,547.5 496.5,547.4 501.0,537.9 507.4,531.4 488.9,538.1 498.3,543.2 507.4,534.2 491.0,541.8 494.8,547.9 491.2,544.2 498.6,542.5 505.1,545.7 477.8,539.6 501.8,533.2 501.4,540.3 488.5,523.8 486.1,541.3 487.3,534.7 493.4,545.1 494.5,548.5 506.5,525.5 497.6,546.1 502.3,536.2 494.4,548.4 498.1,544.5 496.4,548.4 497.1,546.0 500.8,531.2 496.6,546.7 501.9,534.9 498.4,542.9 492.1,546.5 501.1,542.4 485.9,531.6 505.9,545.5 493.1,546.0 509.6,525.8 501.6,529.9 499.8,542.9 485.0,523.0 501.0,542.9 493.1,546.5 500.6,538.2 489.7,527.3 495.5,548.9 482.8,542.4 493.2,542.8 496.0,548.3 490.7,532.7 485.6,532.2 498.6,540.8 504.2,538.4 480.6,535.5 522.1,525.9 477.5,543.9 521.3,527.5 504.5,535.7 485.3,535.0 504.9,544.1 492.8,547.8 496.3,548.0 497.6,547.9 488.8,536.0 493.4,547.0 496.7,547.7 510.9,524.8 487.1,541.7 484.5,546.2 500.3,543.5 493.4,543.7 491.8,545.7 500.6,539.7 503.0,532.2 503.4,532.5 476.3,536.3 489.1,535.7 485.4,544.9 506.6,525.4 505.5,544.1 484.8,525.5 502.4,533.1 491.5,544.3 496.4,548.3 500.7,542.6 499.2,540.7 491.8,542.7 500.6,536.7 514.0,531.7 498.0,546.4 500.2,545.4 482.6,530.5 496.7,548.5 508.1,540.4 502.2,535.7 482.5,525.6 497.1,547.8 504.8,539.4 502.0,530.9 468.8,530.7 492.5,545.0 507.8,532.1 484.3,539.5 507.7,541.1 492.3,543.5 493.4,543.4 479.8,532.9 500.8,535.9 496.7,546.6 497.9,546.4 489.7,544.6 491.6,545.6 513.8,523.9 480.7,528.9 498.5,540.9 514.7,542.3 498.1,545.0 496.3,547.6 490.2,545.3 491.9,539.5 495.9,548.5 502.6,546.4 482.1,524.2 499.5,543.2 502.4,535.9 497.7,543.3 492.9,548.0 491.0,544.6 502.3,536.0 492.3,545.1 498.2,541.9 493.4,545.5 502.6,528.4 484.6,522.4 507.9,516.8 494.6,548.0 492.7,543.9 493.8,545.3 493.3,543.3 491.1,540.5 496.4,548.8 502.7,528.6 507.6,524.2 485.8,522.9 494.4,547.1 499.7,545.4 501.8,536.2 510.5,541.1 492.1,541.5 499.9,543.1 495.8,548.8 508.8,532.7 489.2,529.8 494.6,547.5 485.9,523.7 491.7,540.9 504.2,541.4 493.7,544.2 502.8,543.1 511.1,537.3 489.0,537.6 500.0,535.1 499.0,547.8 486.9,524.1 500.6,538.1 501.5,530.5 503.6,522.7 505.6,530.2 490.8,533.9 504.3,544.8 502.6,538.1 491.1,547.2 493.6,544.1 488.3,525.3 484.3,528.2 505.6,538.1 491.5,543.7 495.6,548.9 492.9,547.4 492.7,541.6 489.6,544.1 487.6,540.1 487.7,539.3 494.5,548.4 496.4,547.5 498.4,540.9 494.8,547.8 495.3,548.7 501.3,536.4 496.1,548.6 490.7,540.2 492.8,544.6 490.2,545.5 497.8,545.1 500.6,534.4 500.1,537.9 504.7,539.6 505.0,529.7 494.4,547.3 503.4,537.1 500.9,544.2 494.9,548.4 499.8,536.5 499.2,540.0 485.5,542.8 492.5,545.9 490.8,546.8 520.9,519.5 499.4,543.1 499.6,537.4 501.7,532.7 489.2,546.8 502.0,541.5 493.4,548.5 501.9,531.2 481.5,516.8 498.2,544.0 496.2,548.0 509.1,526.2 498.7,543.7 491.8,545.4 499.2,542.3 501.7,546.6 502.6,538.7 488.4,520.7 486.4,520.1 489.6,528.8 498.1,545.7 501.1,536.7 511.4,531.5 493.0,542.7 500.0,546.5 493.6,545.0 500.2,539.5 490.5,544.3 499.2,542.9 493.7,543.8 498.0,543.2 495.8,548.8 511.5,521.7 496.0,548.8 486.8,531.8 497.4,548.3 501.6,531.4 504.4,544.3 479.9,534.0 499.6,545.8 516.1,516.7 491.9,545.6 500.4,541.4 501.1,543.7 500.5,544.1 494.9,548.3 490.0,538.0 498.6,548.1 483.8,519.8 495.9,548.9 497.2,547.4 491.2,534.7 501.3,545.5 496.1,547.9 497.8,546.9 494.5,548.0 493.2,542.8 488.9,525.0 491.5,545.4 496.8,548.0 500.0,534.5 501.5,529.3 505.2,518.1 490.7,544.1 483.1,542.5 498.5,543.1 503.2,538.4 491.3,538.9 502.2,545.1 497.8,545.0 503.0,539.2 492.1,538.1 509.4,527.6 498.4,545.5 493.1,547.9 499.9,541.4 480.8,530.3 491.7,540.1 487.7,543.6 506.7,523.0 505.5,527.7 502.8,545.4 505.6,521.8 492.6,545.1 498.6,545.5 513.3,539.4 506.4,545.7 501.9,538.6 503.5,537.5 491.1,533.5 488.8,535.2 516.6,520.3 503.8,530.5 500.6,532.1 499.5,537.5 505.1,532.0 496.5,548.0 501.7,538.4 509.9,544.7 507.3,545.0 493.2,548.3 498.6,546.8 489.0,528.3 500.3,533.1 503.3,521.3 483.5,516.6 500.3,544.3 500.4,543.5 502.3,527.3 483.9,519.4 505.7,530.0 482.0,539.7 500.7,534.2 493.7,545.4 495.1,548.8 508.9,532.1 493.4,547.3 493.2,544.2 496.3,548.5 491.1,535.4 493.9,545.4 502.9,538.8 494.0,547.9 492.5,547.1 500.3,537.8 483.5,540.6 495.0,548.5 500.9,540.6 510.4,516.6 492.9,545.3 491.7,545.3 501.8,535.3 496.2,548.1 491.2,547.5 494.5,546.9 491.4,537.1 507.9,526.3 499.5,539.6 490.4,543.5 492.7,547.3 510.2,538.2 496.2,548.6 496.2,548.3 502.7,527.4 490.9,540.8 497.9,546.0 501.4,540.3 499.6,540.9 499.3,547.5 518.1,518.9 492.0,538.1 509.6,543.0 490.0,535.7 500.1,533.7 498.7,548.1 480.0,536.7 494.8,548.7 496.5,548.8 493.9,547.5 489.7,529.9 491.2,537.6 498.0,542.1 502.5,546.8 494.8,548.3 489.2,533.1 509.8,532.4 494.6,547.7 491.6,546.3 498.9,541.8 492.8,546.6 492.0,544.8 510.5,537.9 486.7,536.3 491.7,546.0 503.0,542.8 486.2,524.9 493.9,545.2 511.8,517.5 499.0,538.4 497.6,544.6 495.4,548.8 488.7,528.7 506.0,525.2 497.6,545.6 495.2,548.3 488.3,524.8 508.5,537.8 500.1,540.1 489.4,547.6 499.4,546.8 487.6,535.6 503.4,537.9 496.2,548.4 478.9,518.4 492.3,542.6 501.6,544.8 496.7,547.3 496.8,547.3 488.0,540.3 494.3,548.4 482.0,539.1 494.5,547.9 494.3,547.0 494.1,546.1 490.0,534.7 485.3,516.5 509.6,538.8 487.9,541.4 487.4,517.4 493.5,544.2 501.9,545.2 495.2,548.3 503.3,532.5 494.3,545.8 514.6,517.5 502.9,532.9 491.1,545.5 502.4,545.4 504.8,533.0 474.2,521.9 489.0,536.6 497.0,547.2 491.6,544.4 505.3,536.5 512.4,544.3 498.0,544.8 482.7,520.1 501.9,536.3 503.8,534.7 491.6,542.7 501.2,541.8 506.1,535.7 499.4,544.8 498.2,543.9 504.0,535.8 496.4,548.7 502.3,546.9 506.9,532.4 487.7,533.2 492.2,539.6 492.3,544.6 509.6,542.6 497.4,547.5 492.4,546.4 488.1,545.6 512.4,528.8 502.9,545.2 500.3,537.1 497.6,544.5 497.3,546.8 487.4,517.9 503.2,532.6 490.9,535.5 509.0,520.8 487.9,529.2 502.8,523.0 493.6,545.9 521.2,518.8 501.1,543.4 500.1,540.9 497.4,546.7 498.4,545.3 496.2,548.7 496.8,547.0 496.4,547.4 496.8,546.2 508.8,526.6 476.3,536.6 487.5,522.8 497.1,545.2 490.9,541.2 495.4,548.8 501.1,539.3 502.7,536.0 503.8,545.5 491.1,545.2 501.7,540.8 507.3,539.5 498.7,545.6 504.5,526.2 508.2,521.8 488.1,533.3 503.4,544.1 515.8,535.5 483.1,541.0 499.8,534.9 479.0,538.4 497.1,547.1 485.5,530.3 500.6,540.9 488.6,542.9 482.3,541.8 499.4,545.0 497.0,547.5 499.8,540.9 496.0,548.7 490.0,543.5 492.6,541.9 489.7,527.4 495.6,548.9 495.7,548.9 490.4,542.9 495.0,547.9 492.3,540.9 497.9,544.5 506.2,529.0 509.5,538.4 500.1,537.2 502.7,545.2 491.5,546.6 494.3,546.4 493.1,545.9 487.7,545.7 519.3,538.3 486.0,543.3 512.9,542.8 500.7,546.0 498.1,542.2 491.7,545.9 486.9,518.2 507.3,527.7 503.5,546.1 495.6,548.9 494.0,547.4 503.5,538.1 498.0,548.5 492.4,547.9 495.2,548.3 498.0,543.4 498.3,548.2 493.8,545.3 502.6,523.4 499.4,546.7 493.3,548.1 502.8,533.0 501.2,539.0 503.1,537.8 490.9,547.4 504.9,545.3 481.0,525.3 503.9,534.7 490.3,533.0 486.9,543.7 505.2,534.3 511.9,530.2 481.8,523.2 501.0,544.3 499.2,540.6 488.5,533.1 484.5,544.6 487.4,534.4 487.8,518.2 492.2,541.9 497.7,545.3 489.3,546.5 498.5,545.5 487.8,521.3 519.7,525.7 498.8,542.2 502.1,538.2 502.0,529.9 499.6,542.0 505.8,520.1 508.2,524.2 514.4,543.4 487.2,531.3 504.8,519.9 507.1,537.4 498.3,545.4 494.6,547.4 499.8,543.3 501.1,533.1 483.8,526.4 497.3,546.5 500.4,537.4 502.6,546.0 493.5,545.9 511.1,521.0 490.8,533.8 496.9,547.8 477.1,536.4 519.8,529.0 502.2,540.7 481.9,519.4 497.0,548.1 493.3,546.1 496.8,548.6 505.4,526.7 503.6,524.6 507.6,525.0 490.0,533.7 488.2,523.6 497.0,547.0 479.9,541.2 501.8,539.6 496.7,548.4 490.2,529.8 499.6,547.1 495.8,548.7 490.7,541.4 500.7,545.1 485.1,520.3 495.3,548.6 493.3,543.6 514.7,531.3 500.2,538.1 487.4,530.9 507.2,520.0 488.0,526.4 504.6,541.8 501.7,545.0 475.1,523.9 519.0,537.7 493.5,548.0 496.9,548.0 498.7,543.5 492.9,541.5 482.2,544.9 493.6,543.7 489.8,542.3 510.3,526.3 488.8,543.3 505.6,536.5 504.4,519.0 493.2,546.2 503.5,529.8 497.6,548.5 495.1,548.1 499.9,538.0 503.6,536.5 510.3,522.5 494.2,547.3 496.0,548.8 480.9,533.3 490.9,546.6 494.8,547.8 494.2,545.8 494.0,548.3 483.0,529.1 501.9,539.0 500.5,533.4 495.7,548.8 494.1,546.3 490.9,542.8 501.8,529.9 498.4,541.7 489.7,536.3 502.7,546.0 493.9,546.0 495.3,548.4 504.2,527.3 500.6,533.1 488.3,537.8 504.3,537.8 482.9,523.8 498.6,541.3 488.9,523.3 496.8,547.9 486.1,527.1 488.5,532.4 491.1,544.2 493.5,548.0 508.3,516.9 512.1,526.5 495.8,548.7 481.0,536.9 494.7,548.5 497.3,545.5 485.6,532.8 509.6,517.2 495.6,548.9 511.9,539.7 493.9,544.9 494.1,547.1 518.3,532.5 490.1,529.9 478.2,528.8 501.2,533.0 493.9,545.8 502.9,535.2 499.3,537.4 497.5,547.2 495.3,548.7 499.9,548.0 498.9,546.3 515.0,543.2 494.6,548.6 513.4,518.4 492.6,545.8 503.1,545.1 504.6,546.2 482.1,539.9 499.7,539.8 494.6,548.1 479.0,526.7 503.8,533.7 487.0,538.1 482.9,532.4 493.6,548.0 488.6,521.8 493.5,543.4 510.2,522.2 484.8,537.4 504.3,539.8 486.9,529.1 516.9,518.7 500.7,544.8 499.5,536.6 486.2,535.5 516.2,520.0 491.2,535.3 497.5,547.4 497.1,548.5 487.7,539.9 490.9,545.9 489.2,546.8 495.1,548.1 500.6,531.7 495.7,548.8 496.2,548.4 498.3,544.3 486.4,540.5 508.9,530.1 488.9,533.4 500.0,540.7 498.9,547.3 494.2,545.9 489.5,541.6 488.1,522.0 493.6,547.6 492.3,540.1 496.8,546.4 497.0,546.6 497.5,545.7 488.9,532.0 490.2,539.7 491.0,543.9 492.7,543.8 502.4,539.8 498.9,545.4 499.7,546.4 513.0,529.4 492.2,538.3 488.8,537.1 487.6,534.6 511.5,534.7 495.6,548.9 491.9,541.0 493.7,545.8 502.1,535.3 477.7,527.9 506.5,519.9 504.0,546.2 518.6,541.0 489.5,529.9 495.2,548.6 497.2,548.2 500.8,538.8 484.5,517.2 494.2,546.9 506.7,544.5 497.2,547.4 484.5,537.0 487.1,542.0 498.8,542.1 502.4,534.6 499.6,546.6 487.4,537.4 510.1,529.6 509.9,517.4 499.9,540.3 493.5,548.2 489.8,546.6 492.5,541.7 492.2,544.3 496.5,548.6 506.6,530.7 501.7,542.0 487.4,532.5 509.7,536.4 500.2,546.1 494.5,546.5 497.7,545.6 509.9,538.1 490.7,539.1 492.4,540.1 496.2,548.3 488.7,540.3 497.1,547.2 495.5,548.8 493.1,548.1 498.9,541.6 486.9,534.4 483.7,540.9 498.4,545.6 495.2,548.6 518.7,535.1 496.2,547.7 490.8,538.0 493.4,543.8 522.4,530.3 488.4,522.7 507.1,520.3 498.7,540.1 493.4,546.4 489.8,534.7 501.8,539.2 494.8,548.1 493.0,547.5 496.8,548.4 492.0,537.5 512.7,527.5 490.4,545.4 491.3,540.8 494.6,548.0 491.8,545.4 507.2,544.4 489.4,535.4 497.6,544.0 502.8,536.8 494.3,547.0 499.1,538.4 509.2,537.8 493.6,544.3 493.9,546.1 496.5,547.0 491.1,546.9 505.9,540.2 494.6,548.2 497.9,543.1 499.3,547.5 477.0,536.5 499.3,537.1 478.3,541.9 498.0,547.8 493.2,546.2 495.5,548.9 520.1,537.9 497.4,546.5 512.8,532.2 493.4,545.3 493.8,548.2 482.8,532.4 500.3,545.3 489.0,547.5 494.9,547.7 480.6,516.5 497.2,545.4 509.0,533.2 508.2,535.4 496.0,548.1 496.6,548.6 489.6,545.0 492.9,547.8 494.5,547.3 490.8,537.3 480.3,524.8 491.9,547.4 499.8,544.4 496.3,548.7 494.6,547.9 488.8,538.3 489.0,536.3 502.1,538.8 499.9,542.8 498.5,540.6 506.2,542.5 493.8,544.9 490.3,540.8 500.6,535.6 493.2,543.3 489.9,545.3 492.8,547.1 503.7,522.4 498.0,544.4 497.4,544.5 484.3,527.5 505.0,543.2 510.8,535.0 511.1,534.7 493.2,547.3 506.4,546.1 489.9,532.9 481.9,539.8 503.5,520.0 490.6,535.7 510.2,516.2 510.8,518.5 489.8,531.9 491.9,539.2 490.5,541.4 487.0,517.7 488.1,528.3 491.6,542.4 491.5,537.2 502.2,532.1 488.6,536.0 502.7,522.3 500.5,534.9 503.8,540.0 502.3,531.0 492.8,547.9 502.0,527.4 504.6,527.2 503.9,544.7 499.8,535.7 492.7,540.5 492.3,539.6 494.7,547.1 475.5,536.8 496.3,547.7 500.9,540.8 494.7,547.5 500.4,546.9 499.4,540.7 499.8,547.7 496.9,548.2 490.0,534.9 504.0,522.3 512.5,529.5 495.5,548.7 500.4,542.1 501.0,544.7 495.7,548.8 472.6,530.5 497.3,546.2 493.1,543.1 497.7,548.0 510.2,541.7 486.2,524.7 491.7,542.9 489.1,529.7 492.0,541.4 518.9,519.9 492.1,546.8 500.0,544.7 494.9,548.2 498.5,540.6 504.7,539.9 511.9,538.1 492.3,541.1 491.4,544.2 494.7,547.0 518.3,530.7 488.2,530.0 490.8,535.1 498.4,545.3 512.2,538.6 487.2,528.9 487.2,524.3 493.5,546.8 490.7,533.8 502.5,539.9 492.2,543.4 504.5,523.5 486.9,542.9 510.0,528.3 501.3,541.4 489.7,542.1 480.8,542.8 491.7,546.9 487.1,539.8 492.2,539.3 513.6,520.7 493.4,547.2 491.1,536.0 498.4,546.2 481.5,516.9 504.4,528.1 497.1,547.0 500.9,531.0 497.3,546.2 498.8,541.4 501.8,541.5 484.2,527.8 490.2,530.7 497.9,543.9 483.8,538.6 496.5,548.8 498.7,543.0 501.3,532.0 491.4,546.3 493.7,547.5 499.7,542.2 502.7,522.9 497.2,547.3 497.5,548.5 499.9,545.7 507.4,525.9 498.2,547.9 488.4,531.1 498.0,543.5 503.7,522.9 487.7,524.7 504.6,540.9 497.5,548.1 499.2,543.2 501.6,531.3 490.0,531.5 486.8,523.6 505.6,533.3 490.8,543.5 493.5,544.7 479.8,520.2 497.0,547.3 490.8,535.1 499.3,541.2 491.6,543.1 496.1,548.5 491.7,541.9 494.7,548.5 486.2,519.5 492.2,539.5 488.0,528.9 497.2,548.1 487.8,546.7 500.3,542.8 498.5,545.9 490.2,540.1 492.0,546.6 504.7,537.3 501.3,542.9 488.7,531.9 506.7,537.7 494.9,548.3 487.1,528.5 502.9,523.5 489.9,534.7 495.3,548.5 490.8,541.7 498.6,540.4 491.5,536.8 493.2,543.2 512.1,531.1 489.7,529.8 495.1,548.7 490.3,539.3 512.0,526.6 486.6,544.2 503.7,539.4 501.7,532.0 510.1,544.6 482.2,525.5 501.1,545.5 502.3,525.1 490.3,534.1 495.2,548.2 493.8,547.3 500.0,542.1 484.1,543.5 494.1,547.7 470.0,535.2 490.3,532.2 497.4,545.7 481.6,524.3 496.7,546.9 498.1,548.2 500.8,546.3 497.1,547.8 493.9,547.9 492.3,544.2 500.7,534.5 506.0,542.7 491.1,542.1 502.3,531.4 486.9,521.8 489.7,547.3 494.1,546.8 503.0,546.4 487.2,539.4 492.3,539.3 487.2,518.9 490.3,535.8 484.6,524.2 499.8,545.2 500.2,547.0 484.7,544.8 501.6,546.6 480.7,539.1 509.4,539.1 504.8,517.7 505.2,532.3 503.3,519.6 489.5,527.1 494.4,547.9 492.4,540.5 490.9,541.2 501.1,535.1 511.7,516.7 495.3,548.7 492.0,538.9 502.4,537.1 485.6,516.7 491.0,535.8 499.0,538.8 489.8,541.0 502.3,541.3 497.3,545.4 498.7,546.0 503.8,530.3 483.8,528.6 490.4,545.7 487.9,544.9 499.0,547.9 489.3,538.8 487.4,527.3 493.7,548.6 499.8,542.2 512.9,540.4 494.9,548.1 490.5,545.1 496.3,547.6 492.1,542.0 490.9,538.9 491.4,542.8 497.6,548.5 495.9,548.8 500.3,543.1 492.1,547.2 488.3,542.1 495.7,548.8 497.3,547.5 502.9,521.8 495.9,548.7 506.1,524.3 502.7,541.5 509.9,530.4 501.1,532.3 505.0,538.7 499.9,544.3 498.9,547.5 509.6,517.7 483.3,544.4 494.9,547.4 494.7,548.4 501.1,536.9 500.2,540.8 498.0,548.0 498.9,547.0 501.3,528.1 496.8,546.2 490.7,536.2 493.7,544.8 494.2,548.4 501.9,536.3 493.4,547.9 492.1,542.2 494.4,546.6 500.5,534.7 495.8,548.8 483.7,536.0 494.7,548.4 491.7,539.4 487.0,519.1 501.1,545.3 494.4,546.7 501.1,545.8 497.0,546.4 494.1,547.0 492.4,542.1 482.6,528.4 499.7,536.0 498.1,546.7 491.5,535.3 484.9,536.3 503.4,542.9 496.7,547.0 494.1,548.3 491.6,545.8 491.5,542.3 498.9,539.6 495.4,548.7 496.6,548.6 503.1,545.3 490.6,543.2 504.4,540.4 501.7,535.0 493.1,542.6 490.3,537.4 514.1,524.6 489.5,526.8 499.0,540.6 505.7,545.7 495.8,548.8 505.4,525.8 491.6,545.1 479.2,543.6 496.3,547.8 495.9,548.6 490.0,539.4 491.4,543.2 497.9,544.1 494.0,548.0 511.8,528.6 488.2,527.6 488.1,528.3 504.0,516.7 500.3,534.2 496.1,548.7 501.5,546.2 497.7,546.7 493.2,546.5 500.4,539.0 496.4,547.3 495.0,548.3 495.5,548.8 504.6,538.1 484.6,525.7 492.0,541.9 497.8,544.9 501.4,539.7 503.4,536.0 506.7,526.5 490.5,531.4 498.7,544.0 486.1,532.6 497.5,544.5 500.8,538.4 494.2,548.5 501.9,547.6 487.7,517.6 486.8,545.3 501.0,531.7 512.2,532.4 490.1,529.4 513.6,529.0 495.4,548.6 493.7,545.7 502.3,544.6 490.6,531.0 500.4,542.2 504.4,517.0 500.6,532.8 511.4,528.5 495.4,548.8 493.1,547.1 483.2,544.0 500.6,534.7 492.1,541.5 486.0,540.6 505.3,534.8 502.5,536.6 502.5,531.4 505.5,519.9 501.4,542.0 511.0,525.9 496.9,548.2 510.3,543.1 498.0,546.5 493.3,546.4 490.7,544.8 499.2,547.7 491.1,539.8 500.0,540.4 491.4,537.1 486.3,522.8 501.8,539.6 502.4,533.4 493.6,548.0 501.4,539.2 504.4,519.1 502.0,540.9 504.5,525.3 514.7,543.3 494.5,547.2 498.9,548.3 495.1,548.3 492.8,547.6 504.2,523.5 486.2,520.0 488.3,530.0 503.4,529.6 485.3,542.0 503.9,542.9 487.4,531.6 491.5,543.1 498.2,542.2 506.1,516.6 503.2,545.9 488.2,537.4 505.7,517.1 490.4,540.2 495.9,548.6 493.9,548.4 495.0,547.9 497.2,546.7 510.2,517.8 497.2,546.9 489.2,538.8 494.2,548.1 486.9,540.1 488.2,534.7 492.9,546.6 495.4,548.8 516.9,536.6 503.5,542.3 506.1,535.6 491.1,545.7 487.7,538.5 501.1,541.2 501.2,534.4 503.0,529.9 504.0,527.0 498.5,542.0 495.9,548.6 500.8,537.7 480.2,533.7 493.2,544.9 511.4,527.9 488.1,519.1 498.0,545.1 495.8,548.6 503.2,527.6 493.3,544.8 507.9,533.2 498.7,546.9 491.3,538.5 499.8,542.2 502.5,538.3 501.8,527.9 502.3,539.8 493.8,546.4 508.9,539.4 515.6,518.1 489.1,525.6 488.8,527.2 489.4,527.3 492.6,542.0 491.4,545.7 499.9,545.4 492.6,542.2 492.2,538.4 492.6,548.0 490.1,534.2 488.3,519.6 495.9,548.5 487.7,542.5 494.6,548.3 503.5,525.4 499.1,542.3 487.1,527.6 491.7,546.4 503.1,522.0 495.1,548.0 497.2,546.7 502.0,535.1 491.2,547.4 501.4,539.4 497.4,547.5 492.1,538.3 497.8,544.4 485.8,545.8 499.9,541.9 494.4,548.6 474.3,523.1 497.6,544.8 504.5,527.9 509.6,541.1 488.5,545.5 500.7,547.0 498.9,542.5 501.0,539.1 493.1,547.9 503.2,546.5 497.5,546.1 499.8,546.1 486.3,543.9 497.0,546.3 487.6,535.8 497.0,547.0 488.0,528.3 489.5,539.9 496.5,548.1 484.2,530.5 506.0,524.6 496.5,547.9 488.7,531.8 502.9,527.8 491.7,545.5 505.2,527.7 482.4,527.9 499.2,538.1 483.5,543.8 510.8,516.9 488.9,528.9 486.7,521.7 504.5,523.7 490.3,533.8 503.8,527.5 497.9,543.3 498.2,542.4 499.8,543.2 506.3,533.4 483.6,523.6 511.9,538.2 490.6,534.8 495.8,548.6 490.5,536.7 499.3,540.0 497.7,544.4 492.4,541.4 498.1,546.0 494.6,548.2 495.5,548.7 502.0,547.0 500.9,537.6 495.0,548.2 502.9,541.3 493.4,543.6 489.6,528.8 494.2,545.9 503.5,531.5 483.2,517.9 490.9,545.7 495.1,548.1 492.4,547.1 493.6,547.3 499.2,540.1 496.8,547.5 485.2,539.1 494.7,548.3 499.2,537.6 493.0,545.5 491.7,548.2 505.2,541.2 489.9,545.6 500.4,543.5 513.7,524.9 500.9,539.7 487.6,532.4 496.3,548.4 497.1,548.1 486.3,536.3 489.1,533.8 495.9,548.5 497.6,548.2 500.3,547.9 488.7,544.4 507.4,519.6 489.3,530.5 499.1,544.5 503.1,528.1 505.3,524.2 518.3,539.5 493.4,547.0 499.3,538.5 506.8,544.7 490.3,534.4 504.8,528.9 513.0,524.5 511.9,520.5 487.7,523.6 509.0,533.0 508.5,531.2 486.7,529.2 493.7,545.7 493.3,542.8 491.6,546.9 490.1,546.7 491.3,545.1 502.8,541.8 494.0,545.9 489.5,528.3 497.2,547.2 482.2,539.5 495.1,547.9 490.5,533.2 487.7,537.7 484.3,536.8 491.1,536.2 490.4,533.6 497.0,546.2 489.5,529.6 497.3,544.8 511.4,520.8 494.9,548.7 487.8,540.7 496.2,548.0 496.7,546.5 496.1,548.1 497.2,548.1 493.3,545.9 503.1,541.1 481.4,523.0 493.4,548.3 486.3,540.9 496.7,547.1 483.2,517.9 498.3,544.6 508.1,531.4 501.2,529.6 509.2,517.5 473.2,526.1 489.3,535.2 488.3,535.5 503.2,535.9 486.9,531.0 495.5,548.8 503.8,527.6 488.9,531.7 499.1,537.9 486.4,520.4 492.6,544.3 491.0,542.4 489.8,533.5 491.8,539.7 506.3,522.5 489.2,543.7 492.4,540.8 498.9,540.6 502.3,535.3 498.8,543.0 500.0,546.3 493.4,543.1 492.6,543.3 497.2,548.6 509.8,537.7 491.2,547.7 489.1,546.7 500.8,536.8 508.3,544.6 500.9,534.6 492.4,542.7 494.2,546.5 506.3,545.6 497.6,547.2 499.0,545.0 492.8,544.2 487.9,546.6 487.6,544.1 497.4,545.0 506.7,526.1 489.4,527.8 487.4,526.6 501.2,531.9 499.0,544.4 480.7,516.5 489.9,531.9 496.5,547.5 495.9,548.7 497.3,545.3 495.3,548.4 485.3,543.7 492.5,541.4 497.3,546.3 495.6,548.9 492.2,545.6 483.8,519.1 488.9,541.2 502.8,535.6 506.6,524.4 488.0,529.5 500.1,535.9 498.9,543.9 500.6,531.0 492.9,547.1 496.2,548.7 501.2,531.0 513.9,541.3 491.0,541.8 483.1,539.3 514.9,527.2 497.8,546.3 488.4,534.1 479.3,526.3 495.2,548.7 496.2,547.8 485.9,527.2 499.4,539.2 496.6,548.6 489.6,537.2 491.2,542.4 489.1,542.8 498.7,546.1 490.4,535.0 499.2,537.7 516.4,528.5 494.5,548.2 507.7,531.1 495.3,548.8 489.3,545.7 500.4,533.4 504.1,530.6 488.6,547.4 505.9,525.9 490.0,545.5 479.3,516.8 497.6,548.4 506.3,528.8 506.4,535.8 503.1,531.5 490.6,544.5 489.5,538.2 492.0,540.7 477.7,531.1 504.7,543.8 511.8,532.4 491.9,537.1 504.2,523.6 494.1,547.0 490.1,542.6 494.4,547.5 498.7,546.4 497.1,545.4 492.7,543.3 491.0,542.3 487.9,541.3 494.6,547.6 501.0,544.0 492.0,542.4 501.8,533.1 499.5,544.9 488.7,528.9 503.3,529.5 501.9,528.9 485.5,531.5 503.7,521.6 493.0,541.8 493.6,545.6 501.3,542.9 506.9,526.4 497.6,548.2 491.7,538.2 506.9,543.2 492.0,546.0 508.1,524.7 495.8,548.6 489.6,538.2 487.7,523.8 481.9,520.7 511.1,535.4 486.2,544.5 498.7,541.7 493.1,542.9 496.6,547.9 498.3,546.1 485.7,522.1 491.4,544.5 513.2,536.0 496.5,548.5 495.6,548.9 503.5,545.0 506.8,542.7 498.2,541.5 496.9,546.3 501.6,540.9 500.8,535.3 478.4,522.8 497.4,544.7 495.3,548.7 502.0,545.0 498.0,544.2 501.0,545.7 495.6,548.9 491.4,535.5 490.9,536.4 486.9,544.4 491.3,537.3 491.5,537.0 484.3,544.7 501.1,534.3 486.3,523.0 499.2,542.4 497.9,544.1 511.4,541.5 495.0,548.0 502.9,528.1 501.6,539.6 506.2,536.6 510.0,527.0 512.6,522.9 480.1,519.4 497.6,544.8 491.3,545.1 506.4,544.8 495.1,548.4 500.1,540.1 510.3,541.1 496.5,548.5 511.1,521.8 502.2,525.1 493.9,547.4 497.4,548.2 499.3,542.8 495.7,548.8 504.9,528.6 500.8,545.1 491.5,537.9 494.8,548.0 493.4,547.8 503.5,529.1 493.5,546.4 488.5,523.5 490.3,533.1 497.7,546.1 483.4,536.4 481.5,539.4 486.2,543.3 494.6,547.7 486.1,523.4 495.1,548.6 496.6,548.0 489.9,544.9 503.8,529.9 487.0,539.7 497.9,547.9 495.9,548.8 498.8,542.6 517.6,530.4 495.7,548.8 499.7,537.9 490.1,532.7 507.2,540.5 500.5,543.8 489.5,529.1 501.0,543.1 492.1,542.3 492.0,538.0 500.3,536.6 510.3,540.1 497.3,547.1 491.8,544.5 477.7,531.1 492.3,539.8 503.0,523.2 509.9,528.1 505.0,523.3 496.8,547.4 491.7,544.1 503.5,526.3 486.9,521.3 501.1,538.1 516.5,537.5 503.3,545.0 502.5,542.7 509.5,523.0 496.1,548.4 494.0,547.0 491.3,542.4 490.8,546.1 477.7,539.5 487.0,536.9 521.5,538.5 498.7,542.6 494.6,548.2 499.2,539.0 496.7,547.2 487.8,519.9 502.5,528.4 485.4,540.5 499.6,539.3 503.7,517.1 494.5,548.3 503.0,537.8 500.3,538.8 496.5,548.1 489.8,542.1 496.0,548.8 493.9,544.5 497.1,545.6 494.0,547.0 499.7,535.8 495.2,548.8 504.6,530.5 521.1,518.5 503.4,546.4 494.5,548.5 492.0,542.5 492.5,547.2 494.6,547.5 512.2,522.5 481.7,540.2 505.3,520.3 500.0,543.9 494.2,547.2 506.2,536.6 498.5,540.1 486.5,519.5 503.4,518.3 486.3,530.0 489.7,540.6 502.0,544.3 492.4,544.9 502.8,521.7 489.7,540.4 501.0,541.4 489.4,538.6 482.8,537.0 487.4,516.6 490.2,530.9 478.9,535.6 477.5,530.0 492.2,542.1 501.5,530.6 503.5,523.8 506.0,540.8 499.9,538.6 491.8,539.5 495.2,548.5 496.7,548.6 495.8,548.6 494.7,547.4 489.4,536.5 492.8,545.1 503.9,537.1 490.0,534.0 502.8,528.6 492.2,541.6 498.4,541.7 498.6,539.8 503.4,526.4 501.3,538.0 491.5,539.2 497.9,543.9 490.8,540.1 488.2,526.4 489.7,542.0 480.6,517.5 497.3,544.6 508.9,517.6 495.5,548.8 488.7,541.3 488.1,538.8 505.6,546.3 499.2,537.7 485.3,533.8 491.0,542.2 494.9,548.3 492.9,544.7 497.0,548.3 499.4,545.9 486.9,529.2 491.0,542.5 500.0,538.7 505.8,546.1 498.8,545.9 489.5,526.9 485.2,539.5 493.7,546.4 502.3,523.6 506.5,534.9 493.0,546.5 499.4,539.5 500.3,538.9 500.1,535.3 512.8,533.2 499.0,541.5 494.1,548.1 482.8,524.4 499.6,546.9 491.6,547.8 508.5,528.0 494.8,548.4 492.7,541.9 500.5,532.5 499.9,537.9 500.9,530.7 485.7,528.3 491.4,546.2 496.6,547.9 494.9,548.5 494.1,547.4 491.4,545.1 494.9,547.7 496.5,547.0 497.1,546.8 494.6,546.6 500.0,540.0 491.2,539.3 498.5,542.0 497.0,548.7 495.3,548.6 518.2,534.8 499.7,547.2 496.4,547.4 505.5,540.5 500.6,539.4 491.6,546.0 493.1,547.8 501.1,546.1 480.9,518.2 501.3,534.2 487.6,532.7 498.1,546.8 499.0,548.0 492.6,543.0 492.1,542.4 491.0,534.9 494.4,546.4 481.3,517.3 498.7,547.0 484.7,528.3 492.6,544.0 501.2,547.7 501.5,536.1 495.7,548.9 494.8,547.5 504.9,533.0 486.9,518.5 496.8,547.3 502.7,520.8 502.3,532.2 498.2,548.4 502.3,547.0 500.0,542.4 506.2,526.1 486.2,538.5 494.9,548.7 487.2,522.0 493.6,545.2 509.0,535.1 496.9,546.9 506.6,537.6 503.6,520.3 491.4,546.7 481.3,533.5 515.6,527.2 495.2,548.6 488.0,531.1 501.1,541.7 487.1,545.9 488.6,542.4 502.1,544.1 503.0,538.9 489.7,531.0 491.5,542.9 494.8,547.8 514.8,523.5 492.5,543.7 500.4,540.3 497.0,546.8 499.9,541.4 500.1,543.8 488.2,545.5 500.4,544.9 489.1,539.0 489.6,531.9 499.9,538.9 507.7,539.6 503.8,529.4 494.8,548.0 491.4,538.8 492.8,542.6 488.5,530.7 496.7,546.4 514.4,522.5 500.3,544.2 504.5,534.1 503.4,533.4 477.0,532.1 501.3,547.2 499.2,537.4 492.5,545.7 492.4,541.1 500.3,544.5 477.1,542.9 490.1,530.4 490.4,542.7 492.8,543.0 477.9,539.9 498.6,546.0 498.5,540.7 500.5,543.3 499.5,547.8 496.6,548.6 509.4,525.7 499.7,546.3 489.8,544.8 503.8,532.7 497.4,546.9 499.1,546.7 486.5,519.2 496.8,547.0 509.2,529.1 503.3,519.7 508.7,541.3 482.9,523.9 491.4,544.3 499.1,547.8 490.8,535.5 511.5,517.9 491.9,541.0 492.3,539.0 500.3,543.9 500.7,538.3 502.8,545.0 508.7,526.0 490.2,539.5 494.8,548.3 495.5,548.8 491.2,547.3 501.0,538.7 519.8,519.2 491.9,540.0 499.7,537.7 502.2,530.6 499.7,539.9 501.2,538.6 497.2,545.4 492.7,543.5 497.1,545.5 510.6,528.3 501.3,535.3 494.9,548.1 499.9,535.1 499.8,547.0 492.4,539.6 476.9,538.3 496.8,548.6 482.4,519.1 505.5,532.4 492.5,545.3 496.2,548.3 497.0,548.0 506.8,525.8 513.7,534.8 501.0,537.2 498.3,546.0 490.3,537.0 491.5,544.5 514.6,517.5 496.3,547.6 498.4,541.8 495.5,548.8 504.3,529.9 494.4,548.1 497.8,544.1 491.5,542.3 490.0,531.9 482.5,519.6 481.5,527.1 504.1,539.2 498.7,545.5 494.6,547.3 491.1,545.6 488.0,525.5 498.1,544.6 505.8,540.6 488.9,532.7 512.7,537.1 503.9,520.9 488.2,530.1 489.9,532.1 486.3,524.8 490.1,541.1 492.4,544.1 496.0,548.2 496.6,547.9 509.9,532.5 510.7,534.9 511.0,535.1 506.4,522.1 521.7,518.7 494.1,547.5 496.7,548.0 497.7,544.0 505.7,537.9 500.2,544.7 501.4,543.4 490.2,541.6 488.6,540.5 491.6,536.5 492.8,544.4 493.4,547.8 514.0,535.8 503.4,538.1 494.2,546.8 499.8,546.8 500.3,536.2 501.0,540.6 498.3,546.2 500.3,539.7 511.3,532.8 496.9,548.2 500.1,542.3 495.5,548.8 510.2,521.9 482.8,526.6 509.7,531.3 510.4,541.3 490.5,530.9 496.7,548.3 481.6,539.0 495.8,548.8 481.8,519.4 513.3,530.5 486.9,543.1 503.9,544.4 497.7,543.4 507.3,516.3 495.3,548.8 487.7,523.4 496.8,546.4 499.4,545.9 493.4,545.9 493.2,546.8 496.8,546.3 497.8,547.2 495.0,548.6 483.6,531.2 506.4,527.4 499.1,547.7 505.9,521.1 489.1,527.9 514.3,521.8 490.5,531.3 503.5,519.9 487.7,517.3 506.6,537.2 499.8,536.1 493.5,546.6 499.9,548.1 491.6,539.2 500.1,537.4 495.8,548.6 492.4,545.1 486.9,530.9 490.5,533.0 496.3,547.7 511.1,536.9 522.0,536.7 492.9,544.0 502.3,535.8 490.8,539.5 510.2,542.2 486.9,517.7 503.4,520.2 493.8,544.8 502.9,544.4 488.8,529.5 487.6,534.7 490.2,544.1 482.8,522.8 494.9,547.8 497.2,545.0 494.5,546.7 503.4,536.5 497.2,548.3 484.6,537.7 498.3,544.3 489.9,530.8 504.1,537.3 489.9,541.5 505.3,524.2 516.3,539.9 494.0,547.2 494.0,546.3 490.1,538.8 493.8,548.5 504.4,529.9 496.6,547.9 506.8,516.8 497.2,547.9 485.2,539.2 500.9,530.7 493.8,545.4 508.7,537.0 503.0,540.3 508.5,531.0 488.8,530.9 501.8,542.6 501.6,544.5 491.3,535.7 506.0,523.5 485.1,545.2 492.7,540.0 488.4,529.1 490.8,541.3 493.0,542.5 499.0,547.2 493.0,542.2 496.3,548.7 501.1,541.2 495.5,548.8 500.0,537.5 492.9,543.7 494.9,547.7 501.3,535.8 496.4,548.4 498.7,539.6 497.3,545.8 512.8,535.2 494.8,548.5 500.5,542.6 515.3,517.0 485.7,527.4 491.0,534.0 500.6,531.5 493.0,546.5 503.5,527.1 490.1,545.2 495.4,548.9 493.3,542.5 489.4,542.7 489.7,531.5 505.3,518.6 503.9,537.8 493.1,544.9 496.9,547.2 506.6,526.8 497.3,546.5 484.7,543.3 497.2,545.8 486.5,543.7 504.7,532.6 497.2,545.7 510.8,534.7 473.7,516.9 502.2,542.8 487.5,529.0 489.7,543.2 510.5,545.0 509.0,539.0 510.6,528.3 507.5,536.3 490.3,543.5 491.8,540.9 482.9,527.5 489.1,525.2 496.5,548.0 503.4,527.8 497.7,547.6 493.6,546.0 496.8,546.9 489.7,542.3 469.7,528.4 493.6,546.8 494.5,546.5 478.3,517.7 509.2,540.9 486.4,537.9 501.8,544.6 468.8,517.4 505.1,517.4 499.6,545.0 491.3,539.4 501.4,540.7 504.8,521.4 490.9,546.7 493.0,547.0 501.7,544.3 499.5,544.4 469.7,527.9 490.1,529.1 504.8,517.7 499.3,546.5 497.7,545.1 510.6,522.1 499.7,539.3 490.9,535.0 502.3,541.5 496.0,548.3 486.3,519.4 495.8,548.7 520.7,524.4 514.4,516.9 477.9,530.5 494.8,548.4 503.9,539.4 491.6,539.3 503.0,523.5 498.7,546.1 503.8,545.4 487.1,533.9 498.1,543.2 509.5,519.1 509.7,531.6 497.4,544.6 506.2,529.0 508.8,544.9 499.8,545.6 513.2,524.5 491.0,541.4 510.9,522.3 501.0,529.3 501.3,537.1 502.0,528.8 494.9,548.8 486.2,520.6 490.7,540.2 483.5,522.6 485.3,532.9 505.9,518.4 502.8,535.6 488.7,530.1 489.7,538.5 479.5,522.9 485.7,543.5 501.3,531.2 504.5,546.5 498.7,542.1 504.6,523.5 486.7,533.8 494.8,547.8 506.2,544.9 500.3,540.4 498.0,542.5 488.6,528.6 481.9,537.9 483.6,524.2 494.2,547.7 510.9,531.2 499.0,546.7 503.0,546.3 487.2,531.8 495.2,548.5 501.0,543.1 496.4,547.7 499.7,542.7 504.4,521.9 498.5,542.7 496.3,548.4 501.8,532.3 492.1,546.9 496.8,546.4 496.8,548.6 500.9,530.2 499.6,537.8 493.2,547.2 497.2,546.8 488.0,538.7 502.0,547.1 520.7,524.5 497.0,547.3 493.5,547.7 487.1,533.6 490.3,530.4 504.4,543.8 494.9,548.2 493.2,545.5 491.5,542.5 498.7,540.0 491.2,536.2 502.9,540.3 487.4,531.7 492.7,541.7 510.4,542.7 515.2,532.9 502.0,527.1 502.2,529.2 480.5,530.9 493.0,543.1 493.7,548.1 493.5,548.1 488.8,535.2 490.1,539.3 497.3,546.7 500.9,539.9 483.7,527.3 502.4,525.4 491.9,539.1 487.1,521.7 499.4,547.0 496.5,547.0 477.7,543.7 489.8,532.1 499.8,546.2 486.9,519.0 500.6,541.2 498.5,546.6 502.9,534.1 494.6,548.6 494.7,548.4 516.9,525.2 497.9,542.8 505.0,539.9 488.7,524.0 502.9,529.7 496.0,548.8 521.1,530.9 498.0,544.5 483.3,526.3 489.3,544.2 488.4,544.8 512.8,542.4 484.1,537.1 480.2,532.4 483.5,528.4 492.2,545.1 501.4,538.1 509.9,544.8 485.8,528.1 517.6,539.5 511.7,516.6 495.4,548.6 487.4,540.1 496.8,548.2 500.1,547.1 490.5,532.1 499.8,544.3 503.9,535.1 510.2,521.4 483.5,537.8 496.3,547.8 517.6,526.5 490.8,537.4 499.2,543.3 492.6,547.8 497.6,546.1 504.4,539.2 500.7,535.1 503.0,545.8 519.0,521.7 497.3,544.9 500.2,547.3 503.1,519.8 493.8,545.9 492.3,542.2 476.3,532.3 488.0,544.3 500.9,541.0 492.0,538.2 489.8,533.9 494.5,546.7 481.3,544.2 491.4,542.2 495.2,548.8 495.8,548.7 490.2,546.1 487.3,537.8 485.6,522.7 486.7,542.1 505.8,538.7 503.9,545.1 517.1,531.3 503.7,525.1 504.9,519.2 492.2,544.3 502.2,541.8 496.8,547.4 497.2,545.8 503.9,545.0 493.2,545.7 502.4,535.2 497.1,546.7 517.5,524.4 510.2,516.3 490.7,539.9 491.4,542.9 498.1,542.6 491.0,538.6 494.4,546.6 498.2,544.1 492.7,541.2 502.0,532.9 482.0,517.5 493.4,547.0 497.0,547.4 486.4,521.1 500.8,530.4 498.6,546.3 500.9,530.6 501.1,544.5 484.2,526.6 501.1,533.0 500.2,541.3 495.5,548.8 517.1,540.9 486.7,516.2 503.3,532.1 505.4,521.8 487.5,530.8 498.2,544.3 490.1,544.6 483.0,529.0 494.6,547.3 501.4,533.1 492.7,546.8 520.1,518.0 496.0,548.5 498.7,546.6 510.0,534.4 507.8,528.3 491.5,538.1 488.4,540.6 492.4,544.6 503.6,536.7 489.2,542.1 479.8,529.5 479.1,519.6 492.7,540.0 500.2,537.9 500.4,537.8 511.1,522.0 508.9,540.2 490.8,546.4 502.8,538.2 494.8,547.5 501.7,526.8 496.2,548.5 493.7,546.7 509.4,541.1 502.5,544.6 500.9,539.5 496.7,548.0 494.7,547.7 500.8,544.9 500.5,546.2 499.8,547.7 487.5,538.1 503.0,537.1 501.5,542.4 485.8,524.0 511.4,526.9 488.3,520.0 487.4,526.0 498.1,545.2 492.9,542.6 495.6,548.8 510.6,520.2 505.0,528.0 492.3,542.4 497.3,546.4 498.0,544.9 512.5,521.9 500.3,546.0 481.9,536.8 493.1,543.5 485.4,533.4 502.4,526.4 489.2,544.0 489.9,535.6 489.0,538.6 491.0,547.2 491.8,545.9 494.7,547.2 498.9,539.7 490.5,542.2 515.0,527.3 486.0,529.9 493.6,547.0 492.8,544.0 487.0,517.9 493.6,545.7 485.0,536.8 505.7,542.7 501.0,537.3 484.9,527.1 484.7,531.0 499.0,539.4 495.5,548.8 497.9,546.9 493.6,546.5 488.6,530.9 503.5,547.2 503.7,523.5 521.2,539.9 489.3,542.6 497.9,545.9 496.7,547.4 520.4,540.7 496.3,548.3 499.2,538.2 499.7,535.9 501.5,547.2 501.9,536.3 496.1,548.2 505.9,536.3 495.5,548.8 476.0,536.7 510.9,531.4 505.4,522.7 492.7,543.8 501.8,539.1 503.8,544.5 491.8,544.3 498.4,544.4 473.9,531.7 499.8,541.2 508.6,542.0 505.8,518.7 490.6,532.6 509.0,532.9 498.7,544.9 491.0,547.3 488.6,528.7 515.5,526.3 503.1,520.3 502.5,539.0 489.3,531.7 509.3,544.5 498.8,543.2 496.3,547.5 490.3,536.7 507.6,516.6 488.9,523.5 490.0,536.8 506.3,517.6 504.2,517.3 489.4,527.0 514.5,521.6 493.3,546.8 490.9,539.7 503.2,518.4 493.0,543.8 504.0,544.6 480.5,519.2 506.5,522.6 503.3,522.1 487.1,533.0 498.8,542.1 507.0,522.6 489.7,545.0 479.8,541.2 487.6,535.0 496.0,548.3 487.2,525.8 492.7,543.6 503.8,524.2 495.4,548.7 501.3,540.5 504.5,534.6 488.1,527.5 500.4,539.7 489.4,526.6 495.3,548.7 484.3,544.8 497.2,547.0 497.6,547.5 489.8,547.1 496.3,548.7 499.3,547.1 490.8,542.1 508.4,522.5 499.2,539.7 488.2,534.4 490.8,539.8 497.2,547.6 503.4,527.2 491.5,543.4 497.8,542.9 502.6,530.3 497.6,547.2 496.2,548.7 494.8,548.2 485.5,529.6 502.4,546.3 497.5,547.8 484.6,533.0 499.5,545.8 491.7,538.1 504.2,523.6 496.0,548.7 516.3,519.1 487.4,517.0 500.4,532.6 500.4,537.6 495.1,548.4 497.7,548.4 494.7,547.9 509.4,520.1 498.8,543.7 490.6,547.7 505.3,520.7 484.0,521.2 495.6,548.9 493.1,545.5 509.5,524.3 491.8,547.4 494.0,546.3 495.1,548.6 494.7,548.5 510.8,535.1 492.7,547.6 502.4,537.1 501.6,538.9 487.1,525.5 511.7,542.7 508.1,520.5 492.3,541.6 498.1,543.8 492.1,545.9 492.8,544.3 489.1,540.9 491.8,544.2 491.0,534.5 505.5,539.5 495.0,548.7 493.7,548.3 510.6,518.7 498.8,542.9 506.0,524.5 494.7,548.6 501.3,547.4 501.6,545.6 518.0,529.5 498.6,539.6 490.3,540.1 492.5,545.5 483.8,524.4 502.7,523.3 498.5,544.1 480.1,516.4 512.3,529.2 494.5,546.5 494.2,547.0 494.5,548.1 506.9,516.9 495.0,548.6 492.4,546.5 512.6,543.4 493.5,547.8 497.9,548.3 492.6,542.7 493.4,547.6 498.8,545.6 484.8,518.8 488.2,547.2 487.7,533.5 488.3,526.7 499.3,537.1 488.5,530.1 513.0,539.3 505.3,517.9 499.8,537.5 489.1,525.4 482.2,540.0 497.7,548.3 492.5,543.9 499.4,537.4 505.1,522.7 496.4,548.5 504.5,532.6 488.2,535.4 507.9,524.0 495.6,548.9 490.9,547.3 505.0,526.5 507.8,541.1 499.2,546.2 473.6,540.4 499.0,547.8 491.4,541.8 494.4,546.0 503.8,519.1 494.2,548.6 503.1,546.0 494.1,548.2 490.8,545.0 507.3,542.3 491.1,543.9 499.5,540.5 498.5,544.7 504.1,535.9 509.4,532.2 503.1,523.5 504.2,532.7 491.3,546.6 497.9,547.2 487.7,544.0 502.1,537.6 501.3,536.3 496.3,548.4 503.2,523.7 494.3,546.4 498.8,546.9 488.7,523.9 488.2,534.3 492.7,548.2 496.1,548.8 497.9,545.6 512.8,533.2 487.9,531.8 496.0,548.7 483.3,531.4 495.0,548.3 494.5,546.7 491.1,544.8 491.4,547.9 499.1,539.2 499.7,535.9 497.2,546.9 502.0,525.9 502.6,522.7 506.5,533.0 492.5,546.1 515.0,530.6 501.8,535.0 496.9,547.2 497.1,548.5 480.1,543.9 495.8,548.8 506.0,528.4 496.3,548.3 496.2,548.7 494.1,546.5 492.9,541.0 502.3,524.9 499.6,535.4 495.3,548.5 513.4,542.7 501.7,544.8 485.7,521.4 491.6,538.6 512.3,523.2 495.8,548.7 494.2,548.1 489.5,545.1 497.4,545.9 506.6,546.0 501.0,543.3 496.3,548.1 504.6,540.6 491.3,542.8 500.2,542.6 492.5,545.3 500.4,534.7 489.1,539.3 493.0,546.7 517.0,542.8 494.2,547.2 492.7,546.3 485.4,533.9 486.8,540.0 487.6,525.1 487.5,524.2 498.7,545.2 494.2,547.6 491.6,545.3 486.6,531.4 491.6,539.6 490.7,545.2 483.0,519.8 492.8,547.3 492.2,546.1 491.9,545.9 504.1,524.0 489.9,545.9 495.6,548.9 494.7,547.1 500.3,545.4 505.8,524.8 490.5,539.8 508.1,522.2 485.6,524.6 490.9,534.4 504.6,545.9 494.4,546.8 493.0,545.8 490.1,538.7 497.5,545.4 502.8,522.6 505.8,517.5 495.9,548.7 510.0,522.2 508.9,523.7 499.7,540.3 491.1,535.8 495.5,548.9 495.2,548.2 485.7,529.0 498.2,544.3 492.3,545.4 497.5,546.7 500.3,533.1 496.6,547.8 486.0,526.8 494.0,545.0 498.5,542.2 491.8,542.5 496.7,546.5 486.0,543.4 504.3,534.6 490.3,536.7 495.3,548.6 505.1,520.3 486.8,521.3 474.2,542.8 495.9,548.4 493.4,544.3 491.7,536.7 508.6,519.4 501.8,535.5 484.2,519.7 494.8,547.1 494.7,547.0 491.3,547.9 491.7,537.6 509.8,525.2 509.6,518.0 492.3,542.3 491.3,536.9 512.2,540.6 499.5,535.9 508.2,541.9 486.2,520.5 491.5,545.7 502.2,545.2 502.6,527.0 493.6,543.5 511.1,536.2 497.8,547.6 491.3,535.3 490.3,540.8 492.3,545.5 499.2,543.7 502.3,526.5 503.8,537.1 502.2,544.0 498.1,545.4 490.9,546.8 486.0,535.8 488.3,538.0 486.6,528.9 522.5,517.0 488.5,546.3 494.5,547.9 492.6,546.7 492.6,547.2 508.1,524.7 513.7,534.9 500.1,542.6 491.1,538.9 493.3,546.2 505.2,545.5 498.1,548.0 482.3,519.0 482.7,522.1 499.0,541.8 485.7,543.6 489.5,542.5 494.2,548.5 502.8,541.7 488.1,547.3 494.2,546.8 488.8,535.1 503.0,521.7 489.3,543.1 495.0,548.7 500.1,534.9 494.8,548.2 519.4,534.6 500.2,535.0 492.7,540.9 496.7,546.3 503.7,520.1 513.4,520.4 500.9,534.2 484.8,536.9 496.6,546.8 501.6,537.5 497.3,548.1 485.1,534.4 490.1,528.8 488.1,541.3 482.8,524.6 502.9,543.2 488.4,533.1 499.5,541.5 505.7,540.9 493.6,545.0 522.0,520.3 492.0,546.3 497.4,544.6 501.1,541.4 510.2,532.2 486.5,521.4 491.8,539.8 509.3,540.8 504.6,521.3 493.3,546.9 501.8,540.7 494.8,547.6 485.9,546.2 496.0,548.8 500.4,540.4 485.9,532.7 498.8,546.9 502.2,524.2 489.2,532.4 493.5,543.4 495.3,548.7 493.5,545.1 499.8,542.6 484.7,534.1 501.3,547.3 501.9,527.7 506.1,534.0 507.0,538.0 504.2,518.9 498.5,541.6 507.8,532.0 494.4,547.8 492.5,543.7 494.9,548.1 495.2,548.6 492.8,546.1 499.5,537.9 503.7,527.4 491.9,542.5 493.2,547.2 490.8,538.5 494.2,547.6 501.9,542.7 498.5,545.0 485.8,526.4 490.4,547.2 492.3,543.2 493.8,547.4 494.2,545.4 493.6,546.4 500.9,539.6 493.0,544.3 497.0,548.7 501.9,544.0 495.6,548.8 496.9,548.0 497.0,547.5 501.6,529.6 509.1,542.5 511.2,524.8 490.1,545.9 492.7,544.1 498.5,540.0 489.5,545.1 494.7,548.4 489.6,543.2 502.1,534.2 494.1,547.8 486.5,532.6 495.6,548.9 504.4,525.3 501.1,536.2 500.0,535.1 493.0,546.8 503.3,531.0 502.9,536.1 493.8,546.4 505.6,540.0 512.7,516.7 500.0,535.4 490.4,532.4 492.5,541.5 487.6,525.0 501.5,528.2 502.7,527.9 485.7,527.8 499.6,540.2 502.3,523.3 496.0,548.5 497.6,544.1 491.0,535.4 489.7,538.7 487.6,523.8 499.2,544.3 489.4,542.6 493.2,544.4 500.8,535.2 489.9,532.7 505.8,538.0 502.3,537.1 496.6,547.7 490.0,536.8 503.2,530.8 504.9,524.8 504.5,523.2 505.0,542.5 490.9,536.9 498.0,542.1 497.2,546.4 495.1,548.2 504.2,535.8 503.6,536.1 480.5,524.4 502.4,540.2 496.5,547.0 494.6,547.7 496.7,548.3 486.8,528.6 491.0,547.2 511.0,536.0 495.8,548.7 486.2,520.5 499.9,537.7 496.0,548.5 477.5,542.6 492.8,542.6 502.1,524.4 493.1,543.7 498.5,548.2 497.3,546.4 500.9,544.4 504.9,528.7 490.1,534.5 486.5,542.9 494.6,546.7 494.5,547.2 501.3,541.3 495.4,548.7 494.8,548.6 503.4,537.7 499.0,544.2 495.8,548.8 492.1,542.4 496.6,547.5 509.4,524.4 509.3,534.2 481.7,538.8 486.0,528.3 500.1,539.1 499.1,545.2 489.6,537.8 499.0,539.2 493.9,544.6 494.3,546.5 503.3,528.9 494.1,545.6 469.6,538.9 499.3,541.9 499.6,545.0 487.6,543.8 495.4,548.7 502.3,532.6 496.5,547.2 494.2,548.2 492.6,541.6 488.6,537.4 502.5,536.3 485.4,529.2 495.7,548.8 486.0,542.2 503.1,532.6 499.1,548.2 493.4,544.1 500.4,543.7 490.5,530.4 490.9,547.2 497.8,545.3 506.5,540.8 498.1,544.1 486.7,534.1 497.3,545.4 502.1,525.7 496.8,546.7 495.9,548.7 494.2,547.9 486.8,531.3 497.3,545.1 487.5,531.9 490.0,528.4 492.5,548.2 495.3,548.6 490.0,529.5 492.5,541.9 504.1,541.2 488.6,526.1 491.9,545.9 494.9,548.6 489.5,535.3 510.5,518.1 486.3,522.5 496.6,547.4 499.9,544.9 519.4,525.8 493.8,546.4 494.4,548.1 501.3,539.1 487.6,539.3 480.5,540.7 486.3,518.3 502.6,524.1 489.7,543.8 512.6,541.3 494.8,548.7 506.6,532.3 491.9,538.6 493.8,548.4 499.2,538.1 511.9,536.9 516.1,519.5 503.4,539.7 493.3,545.4 500.6,536.1 486.4,521.2 495.3,548.5 499.6,542.2 495.4,548.7 498.7,543.7 497.2,546.0 496.2,548.3 513.6,529.6 503.1,525.0 497.8,547.1 481.6,532.6 478.1,539.2 499.4,541.3 484.0,524.3 496.2,548.6 520.5,533.1 485.3,518.9 500.1,543.1 490.7,532.0 487.4,531.8 502.8,526.8 499.0,546.1 487.3,528.4 495.3,548.5 506.5,525.7 504.0,519.7 483.1,545.8 495.6,548.9 480.4,516.9 509.6,533.2 504.8,536.2 497.6,544.1 491.1,538.3 505.3,538.7 508.2,533.3 497.0,548.1 504.5,537.3 488.8,537.9 486.5,539.4 504.2,518.4 496.9,547.7 499.5,546.1 506.9,541.1 491.0,544.5 513.9,537.4 493.9,544.8 493.9,545.6 500.1,533.7 495.4,548.7 500.9,541.5 490.6,533.1 496.0,548.7 493.1,542.1 508.0,541.5 504.9,544.1 509.5,518.7 506.0,521.9 499.6,538.7 493.3,546.1 488.8,532.0 495.0,548.3 495.2,548.5 486.9,528.8 488.8,536.3 493.6,544.8 494.2,545.6 488.6,544.3 494.3,546.0 495.0,547.9 512.0,520.1 501.0,535.1 495.0,548.5 499.3,541.8 498.3,543.9 494.4,546.9 510.3,517.3 501.4,547.1 502.3,526.0 491.2,537.3 495.1,548.4 509.9,521.3 503.8,545.4 489.9,535.3 501.6,543.9 490.8,545.6 495.9,548.7 502.0,530.3 487.5,544.1 511.4,518.6 512.3,529.1 488.1,520.7 498.9,545.6 491.3,547.8 497.7,546.4 488.4,531.0 500.5,540.1 494.9,547.8 487.1,525.3 507.9,529.0 500.9,542.0 496.1,548.6 493.5,548.5 480.7,525.1 507.5,533.1 485.8,544.4 487.9,533.8 489.2,543.6 494.1,547.0 494.0,547.1 498.2,546.1 501.1,544.7 498.3,545.4 499.1,541.2 479.9,530.2 489.1,527.8 485.4,538.7 507.0,537.7 500.9,533.1 500.8,538.9 484.3,542.1 493.7,548.2 485.3,546.1 501.2,545.1 499.1,544.0 500.9,546.2 503.3,524.9 498.2,546.4 495.1,548.7 489.5,537.7 511.2,534.2 491.6,546.3 501.9,526.0 492.7,544.6 503.4,517.4 499.2,542.7 503.0,522.0 498.3,545.2 490.4,537.8 494.4,547.7 501.6,538.3 497.3,546.3 494.4,546.6 490.7,535.1 490.2,542.6 494.2,547.2 487.8,529.5 499.1,542.0 479.4,538.2 500.3,540.4 498.4,542.2 510.1,540.3 499.4,545.9 498.4,544.5 489.7,534.7 499.8,545.9 501.3,539.4 499.8,545.7 493.7,544.6 509.0,540.4 511.3,522.4 491.6,546.5 489.3,540.0 495.8,548.8 501.7,535.7 488.6,527.3 495.8,548.8 496.1,548.2 498.5,545.6 494.7,548.8 511.7,544.2 500.5,543.5 502.7,544.6 495.6,548.9 494.8,548.8 504.6,518.3 515.9,525.7 490.9,533.7 491.3,538.4 491.2,542.2 510.4,543.3 488.6,528.3 488.3,525.4 483.1,537.2 486.7,516.6 486.9,534.9 488.2,522.6 500.0,544.4 492.4,545.9 505.1,544.7 503.4,536.4 488.0,523.5 487.2,540.2 502.0,532.7 488.5,533.1 498.6,543.1 496.4,547.5 502.6,534.2 497.7,547.9 491.0,533.6 491.5,536.3 482.8,539.1 499.0,547.4 488.9,523.0 510.6,536.4 484.7,523.5 510.5,529.0 483.7,525.3 495.2,548.4 493.5,548.3 492.9,543.6 502.2,526.2 486.3,546.1 504.1,532.9 502.7,524.6 487.7,531.7 519.3,516.6 498.7,540.4 501.8,526.7 489.3,545.7 503.4,523.4 500.2,539.5" fill="none" stroke="none" marker-start="url(#mg)" marker-mid="url(#mg)" marker-end="url(#mg)"/>
<polyline points="466.6,518.5 466.6,523.9 463.7,528.1 457.8,530.6 455.5,536.9 458.7,537.8 461.8,538.4 465.0,539.7 466.2,533.4 465.6,535.9 460.3,535.9" fill="none" stroke="none" marker-start="url(#mlb)" marker-mid="url(#mlb)" marker-end="url(#mlb)"/>
<polyline points="525.8,521.3 530.0,526.9" fill="none" stroke="none" marker-start="url(#mo)" marker-mid="url(#mo)" marker-end="url(#mo)"/>
<polyline points="442.6,369.6 418.5,374.9 420.1,381.6 447.9,382.4 454.0,389.8 446.1,390.9 447.9,390.9 434.8,393.1 447.9,393.9 452.0,398.0 450.8,408.2 452.0,413.4 467.2,413.4 460.1,414.5 463.6,418.0 459.6,417.2 434.5,417.2 456.1,420.1 461.3,423.1 466.6,423.6 465.4,427.2 452.9,426.3 458.2,431.8 452.0,433.2 459.0,438.2 463.6,439.4 466.3,437.7 457.5,441.8 461.9,449.3 457.8,441.9 463.7,440.0 461.8,450.3 466.6,455.8 458.0,458.7 459.9,460.8 465.0,462.7 448.0,463.7 466.6,469.7 460.3,475.1 468.4,476.6 465.6,482.6 466.6,489.0 460.8,496.2 466.6,494.9 463.7,507.5 467.5,504.7 454.5,511.7 459.1,512.2" fill="none" stroke="none" marker-start="url(#mb)" marker-mid="url(#mb)" marker-end="url(#mb)"/>
<polyline points="485.7,509.0 483.2,515.9 479.2,493.3 515.5,474.6 519.4,503.1 507.5,513.8 520.1,452.7 513.7,464.0 504.5,515.1 485.2,503.8 521.1,513.3 518.4,479.5 515.9,475.3 473.8,472.7 477.3,493.7 522.2,455.2 516.9,495.5 515.7,495.4 480.3,500.8 479.4,508.6 511.1,493.5 513.5,487.7 510.6,495.9 483.7,498.3 520.3,443.4 509.4,491.2 483.1,495.4 516.6,478.0 514.8,498.1 518.6,452.4 480.4,484.5 509.5,485.8 483.3,503.3 513.7,484.7 474.2,485.2 510.9,477.6 517.3,504.4 510.9,515.3 512.8,499.3 479.2,469.2 507.8,505.5 504.4,513.1 515.2,463.6 509.6,490.6 512.4,468.0 509.4,493.2 516.3,467.9 522.1,489.7 512.6,489.3 509.7,486.0 511.3,509.0 515.9,471.5 506.9,504.0 485.2,511.4 478.4,501.5 521.3,476.0 522.2,473.4 521.4,453.9 514.6,502.5 481.5,488.1 509.8,490.1 513.4,492.0 509.6,497.5 514.8,461.2 475.1,475.2 479.0,507.3 512.1,471.3 479.4,512.1 508.3,513.1 517.6,481.9 520.1,427.6 514.7,467.6 506.4,511.5 507.1,501.6 512.1,470.4 520.4,457.6 482.0,491.1 482.5,511.0 512.2,500.7 518.4,506.9 481.0,479.7 482.4,488.0 513.7,481.2 514.3,507.3 512.2,490.3 478.3,494.9 512.3,489.0 514.3,489.1 472.9,498.0 468.9,437.1 516.5,476.4 483.8,506.2 513.6,462.6 516.7,487.2 478.0,498.9 477.4,487.6 511.3,487.7 473.4,511.5 508.1,498.0 509.7,515.9 506.8,500.5 513.1,465.0 511.6,495.5 508.2,498.1 472.2,481.6 518.4,507.7 506.7,504.5 511.6,477.7 475.8,487.8 522.6,475.8 514.1,498.5 518.1,484.8 511.9,474.0 520.1,439.9 482.0,503.3 478.6,468.5 510.6,506.5 519.5,437.3 517.4,488.3 506.3,513.5 511.7,481.7 486.5,510.8 471.7,460.1 506.2,513.8 511.2,509.8 509.6,507.7 479.3,513.4 482.3,490.8 513.4,471.8 470.4,434.4 512.2,490.1 511.5,512.4 509.8,497.8 521.1,514.9 516.0,479.5 509.7,496.0 509.3,496.0 478.3,482.4 479.8,496.0 512.5,502.4 506.9,510.6 482.4,514.6 477.5,494.2 487.3,514.9 504.8,512.4 517.6,490.2 470.0,421.8 515.4,503.7 477.8,499.6 510.1,501.2 521.5,450.8 511.6,515.1 522.3,512.1 514.6,460.9 513.5,496.5 474.7,495.9 514.5,496.3 512.5,513.1 505.6,515.5 509.8,484.9 469.4,422.9 481.6,511.3 506.8,503.3 515.1,507.0 518.9,468.0 478.5,508.8 472.0,498.3 514.1,510.4 518.1,465.8 514.0,463.9 481.2,498.7 513.6,468.0 481.4,513.4 482.4,508.5 479.9,480.6 508.6,514.9 511.2,483.3 511.9,495.0 520.7,462.4 511.4,478.9 515.8,487.2 478.1,513.5 514.0,468.1 486.2,515.1 512.8,498.8 511.3,487.1 523.0,450.8 511.0,503.8 511.4,495.3 509.6,491.5 507.2,503.6 478.4,479.6 507.7,511.3 513.2,514.8 512.8,469.9 476.2,487.7 508.1,508.2 510.1,513.8 474.8,510.5 507.5,505.4 507.5,509.6 509.6,501.5 520.0,510.3 474.4,447.0 507.1,509.4 506.1,515.9 513.5,507.1 507.3,502.0 486.4,509.6 510.0,492.2 517.7,481.7 517.2,488.2 512.8,496.7 473.4,483.2 477.1,479.2 516.8,473.5 484.3,505.6 506.0,515.2 479.1,478.6 485.4,510.4 518.1,504.0 478.6,507.2 485.4,509.4 513.1,465.7 510.8,500.2 513.3,461.9 510.3,504.1 512.2,491.2 474.2,477.7 519.4,461.4 519.8,434.6 473.0,479.2 481.2,486.9 506.2,510.7 515.8,471.1 505.1,513.6 512.6,503.7 522.3,478.5 512.5,510.6 472.9,443.9 512.7,511.4 510.7,483.3 477.7,488.7 505.4,514.0 484.8,512.6 468.3,516.1 510.5,514.0 483.6,498.1 518.8,460.6 506.2,508.6 511.2,514.9 508.5,498.3 480.4,511.2 511.9,480.2 510.3,510.2 518.5,469.0 485.7,513.0 484.8,502.1 510.7,494.5 514.3,504.3 517.3,471.3 480.6,486.5 522.4,442.2 511.0,481.3 505.4,514.8 515.2,491.2 522.6,432.3 514.2,486.6 512.5,489.4 470.9,501.0 520.8,467.2 505.9,505.0 512.3,508.7 505.2,514.7 485.4,513.1 472.3,480.6 514.6,486.9 510.2,507.4 507.7,502.9 514.6,475.7 521.0,492.6 482.9,491.9 483.2,510.7 523.2,447.7 481.9,488.8 511.5,485.0 479.0,511.3 506.1,515.2 517.3,478.9 508.8,488.8 479.4,478.5 515.6,487.1 482.6,492.3 483.6,497.2 515.6,498.9 514.3,477.4 507.8,506.5 472.6,453.4 483.9,498.2 517.8,461.4 510.8,512.2 514.4,491.6 518.8,507.7 483.6,494.6 479.1,515.7 476.2,466.2 510.9,497.7 512.0,489.1 512.1,490.1 505.4,507.3 516.0,471.6 517.1,472.3 518.7,496.7 515.1,482.7 514.1,511.8 482.7,494.2 473.8,474.4 511.9,484.5 483.7,510.7 512.1,490.3 508.0,500.5 512.7,465.7 483.1,493.9 511.3,499.1 510.5,504.7 515.0,471.9 516.8,461.4 484.2,503.9 484.0,515.9 518.0,479.8 479.5,499.8 480.4,505.2 514.3,478.9 486.1,512.1 511.8,488.7 483.1,491.6 507.5,495.4 510.6,498.2 484.7,503.0 517.5,475.8 483.1,495.4 510.3,483.6 484.4,500.2 512.5,489.2 481.8,506.2 515.8,454.9 511.8,492.7 517.0,449.1 514.9,485.8 518.5,487.5 504.8,510.5 472.0,447.8 507.8,502.4 480.5,494.4 521.4,433.6 515.7,451.8 482.4,504.9 509.5,505.7 479.0,499.2 486.1,508.2 513.1,496.9 508.8,506.6 516.9,494.4 471.9,433.7 509.7,496.3 505.6,507.3 481.3,507.0 475.7,509.4 505.0,515.6 521.6,477.8 508.6,515.9 486.2,515.2 477.6,472.7 506.1,512.1 473.6,452.9 516.6,486.9 477.2,479.5 518.4,469.6 509.9,514.3 478.2,505.3 510.8,481.5 483.1,510.1 517.3,473.8 508.3,498.2 480.5,500.5 518.5,493.7 477.5,467.6 475.8,495.4 519.1,445.8 509.1,496.7 505.0,516.1 513.5,482.2 519.5,437.8 521.2,474.9 511.2,505.6 504.1,513.5 516.4,452.2 478.7,478.4 509.5,510.1 484.4,505.2 512.1,508.7 518.4,470.3 505.2,513.5 512.2,492.1 480.7,503.4 469.6,495.3 480.7,497.7 476.7,470.9 475.7,461.3 485.2,512.2 511.8,488.5 516.4,488.9 473.6,481.9 508.5,498.5 485.0,506.0 476.5,487.1 480.5,484.0 479.6,478.7 483.9,500.9 518.6,493.3 514.1,489.7 472.9,464.9 511.3,485.6 482.4,491.2 510.8,484.1 508.0,498.0 475.6,478.6 517.7,470.5 482.7,492.7 515.4,500.7 516.7,482.4 484.0,506.5 515.6,454.5 516.2,466.9 512.9,498.1 486.4,512.4 482.8,494.0 510.8,501.8 512.1,468.9 516.7,500.8 514.8,485.6 508.6,496.3 517.9,461.4 513.1,466.4 519.6,457.9 483.6,512.2 483.4,499.3 513.9,475.2 515.9,509.2 481.4,483.0 520.2,490.3 511.4,478.3 511.9,485.1 482.6,503.8 478.9,493.8 474.5,490.4 475.6,513.3 509.8,482.1 483.0,494.7 473.3,487.7 512.5,514.8 510.8,501.3 483.5,497.4 478.1,470.2 476.2,468.6 515.4,467.0 483.4,498.5 482.6,515.2 512.5,501.6 482.1,489.4 521.2,503.1 480.0,483.7 476.4,457.9 514.0,507.0 507.9,506.4 474.8,482.7 484.8,505.7 507.4,495.6 510.8,478.1 507.4,509.0 512.9,496.5 511.2,489.0 476.2,474.3 513.7,499.6 517.3,490.9 483.2,500.8 511.6,487.8 515.7,451.9 511.6,478.0 517.5,489.2 477.3,469.2 510.5,487.5 514.4,457.4 475.2,483.3 506.3,509.6 511.4,494.7 511.5,502.6 513.7,473.5 474.3,460.7 518.4,504.3 480.0,512.7 479.9,502.2 510.9,502.0 515.0,511.7 511.4,502.0 478.2,491.7 471.2,464.9 522.8,444.8 476.5,498.1 510.2,494.6 520.5,468.1 475.7,467.1 505.9,508.0 506.1,503.0 513.0,486.5 520.4,502.4 523.1,465.5 514.2,515.8 513.7,460.0 510.6,484.2 519.1,454.6 507.5,514.4 484.7,505.2 512.5,491.3 505.1,510.7 483.5,496.3 519.8,512.1 480.5,492.0 471.4,440.0 514.6,459.8 506.8,500.6 509.9,500.9 510.8,512.5 478.4,507.3 516.0,451.2 475.3,485.2 474.4,465.4 468.2,432.9 486.7,513.9 475.1,479.7 486.5,510.7 484.7,505.0 475.9,482.8 512.0,491.4 512.5,485.1 512.3,509.9 512.2,478.1 504.8,510.4 485.7,514.0 515.0,478.0 513.6,491.5 512.8,494.3 520.2,478.0 471.8,466.2 477.9,497.1 508.9,487.2 509.7,510.5 512.5,503.8 506.3,510.6 479.6,502.6 511.8,486.7 510.1,510.9 512.1,507.0 485.6,509.8 513.4,468.7 507.8,499.5 472.6,462.7 478.4,475.0 485.9,510.8 485.2,509.6 507.9,511.4 483.8,506.9 509.6,483.5 510.1,502.0 513.9,474.9 521.0,493.5 510.9,478.3 506.3,507.6 512.1,483.0 477.2,459.5 517.8,443.3 510.4,486.6 479.3,505.9 484.2,510.1 508.6,496.5 514.4,457.2 511.3,476.7 485.5,509.1 514.3,512.8 510.4,494.8 507.0,506.3 514.0,469.4 508.1,501.2 481.1,499.8 513.3,464.2 514.1,472.8 511.2,476.6 512.4,507.2 485.4,510.3 487.3,515.2 468.1,430.1 519.5,485.2 508.2,506.6 477.2,471.5 478.5,497.8 482.7,513.8 522.4,422.9 514.5,455.7 476.3,457.8 511.3,511.1 505.1,513.3 478.5,481.8 517.8,462.1 521.5,510.2 510.8,505.4 512.3,470.4 511.0,476.3 514.4,472.8 470.6,506.2 506.2,503.5 486.0,512.2 508.1,497.7 514.3,462.0 473.6,487.3 516.9,474.4 510.7,508.6 482.2,488.2 473.5,478.7 521.0,501.9 511.0,478.2 522.6,512.3 514.7,488.3 517.4,460.9 509.6,506.8 480.8,515.4 514.5,491.4 516.6,446.1 468.3,504.8 520.7,438.3 508.1,515.2 485.9,509.1 508.6,509.6 483.1,499.9 483.2,508.7 473.9,446.6 511.2,490.2 521.1,440.7 469.0,483.5 480.4,490.6 515.9,497.8 511.6,473.3 473.8,500.8 510.5,508.5 484.5,500.3 520.9,507.6 512.4,491.2 514.4,482.3 504.7,516.2 481.0,509.8 480.1,476.7 481.0,492.7 511.7,497.3 503.9,516.0 510.0,515.7 511.2,508.4 481.0,492.6 516.6,471.8 520.7,435.5 484.8,508.3 509.9,515.9 482.0,514.6 480.9,509.3 509.4,505.5 479.6,505.1 509.5,511.9 521.7,499.1 475.6,493.3 516.5,475.3 515.4,461.5 512.6,467.0 507.2,503.5 514.9,457.7 512.6,467.2 508.5,502.1 515.5,481.2 477.7,501.5 482.8,498.2 479.8,484.4 480.0,509.8 515.6,510.3 511.8,496.1 510.0,496.8 485.5,514.5 479.2,473.7 475.2,472.2 511.5,501.7 522.5,441.0 476.0,458.0 511.5,502.7 517.0,476.1 518.1,465.1 510.5,484.9 511.9,499.9 509.3,485.5 482.0,491.6 518.7,455.8 510.6,490.0 510.2,495.0 521.7,492.8 485.6,513.6 480.2,495.5 505.1,511.4 472.7,471.3 506.2,510.3 483.1,506.6 516.1,472.5 513.8,471.5 517.4,474.1 513.5,491.7 517.1,471.9 505.7,507.8 477.8,477.6 516.2,449.9 471.4,432.8 481.3,508.9 481.2,512.6 476.9,504.1 512.0,480.5 519.7,469.2 483.8,510.9 510.9,477.9 514.5,459.9 479.2,500.3 508.4,496.7 476.9,500.7 509.9,497.2 482.7,489.6 483.2,497.8 522.1,504.6 507.0,509.6 517.1,444.5 519.1,469.4 512.6,479.3 484.3,515.6 508.4,511.2 479.5,513.4 515.0,485.1 507.7,509.7 519.5,440.1 510.7,512.0 509.7,500.5 508.4,495.2 506.1,506.7 484.3,501.1 508.9,510.9 509.1,487.8 512.2,481.2 486.4,513.9 513.0,499.7 479.0,480.8 483.5,506.5 513.9,500.9 511.3,508.6 481.8,509.0 485.1,511.6 515.5,467.4 478.0,470.7 486.1,509.5 513.2,470.3 516.3,515.4 520.7,475.9 508.5,506.8 510.8,477.9 515.0,482.0 517.2,444.5 517.3,491.7 510.1,496.9 506.2,502.2 504.0,514.5 514.5,498.8 506.5,511.8 515.0,474.0 514.7,485.7 509.7,485.8 513.1,473.5 468.6,450.6 515.6,474.7 513.4,479.8 515.4,466.3 483.9,499.6 512.1,476.7 513.0,484.6 511.3,490.1 517.8,438.7 477.0,490.6 484.5,501.8 505.6,509.2 513.4,494.9 513.5,509.2 513.8,515.4 514.9,485.7 511.8,498.0 470.4,433.1 519.4,451.0 514.8,458.7 513.3,515.9 474.8,460.4 520.0,489.3 519.1,466.5 515.9,509.0 513.6,465.4 506.8,504.3 469.4,470.0 475.4,469.7 484.6,502.6 481.6,487.2 485.1,512.9 481.1,491.7 477.2,491.0 516.2,512.3 517.6,477.3 483.3,502.4 511.6,479.9 507.9,510.8 477.1,497.3 506.0,513.6 480.7,501.5 512.0,493.9 505.1,509.1 472.2,456.8 484.6,504.4 505.7,508.6 504.9,511.3 514.0,502.6 512.2,473.2 515.7,499.2 484.7,513.7 514.3,477.7 506.7,504.6 518.9,490.2 511.7,485.8 478.0,476.4 468.7,486.5 508.3,501.1 515.6,475.7 507.3,498.5 486.5,513.7 505.6,507.6 517.6,467.1 476.4,512.4 514.2,491.4 473.2,512.0 516.6,459.1 511.7,493.8 481.4,488.8 485.4,511.8 506.2,510.9 475.7,455.0 473.6,455.5 514.1,491.2 472.7,471.2 510.4,489.2 520.0,468.4 509.4,496.2 476.8,514.8 513.9,483.5 476.3,504.6 482.6,512.8 512.1,512.1 509.1,486.0 480.9,493.7 510.0,499.0 518.8,498.4 514.0,496.8 512.9,474.8 507.8,509.3 509.8,504.8 474.3,479.2 510.2,511.7 475.4,498.8 514.6,510.1 521.8,491.7 485.5,506.7 474.8,502.3 471.5,439.2 484.4,503.5 517.3,515.8 517.9,448.5 481.3,506.6 517.1,442.9 485.7,509.9 512.4,476.8 506.4,504.1 512.6,498.2 514.1,459.6 508.7,515.9 485.6,509.0 511.4,491.5 515.7,471.0 511.6,482.5 510.1,488.2 521.3,489.2 510.1,486.8 475.8,484.1 509.4,496.8 509.8,504.4 478.5,499.2 483.9,502.1 473.8,442.5 512.2,481.3 509.7,499.3 479.2,506.4 483.4,506.2 508.4,506.9 471.3,467.6 511.3,505.7 521.9,512.7 484.7,508.3 518.5,495.3 483.0,504.6 486.3,512.5 511.5,481.4 479.2,505.3 477.2,514.1 512.6,507.6 520.9,432.1 510.0,499.0 511.1,511.7 480.1,501.4 518.8,506.6 509.6,497.2 520.8,448.4 511.8,483.9 480.5,486.3 505.4,515.1 505.4,506.8 478.6,469.4 513.6,483.4 515.2,464.0 469.5,492.8 513.9,485.4 484.3,501.5 517.1,460.2 514.0,503.1 510.1,491.0 517.7,459.7 479.1,476.6 521.0,485.9 470.3,478.5 483.1,502.5 508.3,505.0 484.4,510.0 518.2,498.4 510.8,480.5 479.6,496.4 505.5,513.4 521.8,450.0 471.4,491.2 504.2,513.7 514.2,464.9 519.6,448.8 520.8,477.9 506.3,509.5 507.9,512.2 510.9,480.8 480.6,494.7 471.2,486.6 506.4,501.5 517.7,490.0 504.8,516.1 511.1,479.1 513.9,463.6 510.8,510.1 504.7,512.3 517.5,479.7 523.1,465.6 482.4,512.5 482.7,515.3 511.6,480.6 483.3,501.5 518.3,510.1 485.5,510.8 515.5,497.3 511.4,479.2 512.4,501.6 474.6,445.2 479.2,500.8 517.6,471.8 510.6,491.6 508.1,501.0 511.2,482.3 474.7,502.5 518.0,483.6 513.7,482.0 512.1,508.7 518.6,472.3 483.9,502.2 483.3,504.2 517.7,489.9 512.1,478.0 478.6,473.5 471.2,440.4 485.2,505.8 504.2,514.6 514.5,488.5 515.8,467.6 521.9,483.3 517.1,447.7 482.4,511.1 512.6,471.4 520.7,507.3 482.2,495.5 514.5,469.6 506.3,513.7 511.1,486.2 510.2,492.0 469.4,465.2 510.2,484.1 508.2,497.9 510.6,489.2 516.2,492.4 506.4,515.8 509.7,488.2 513.5,474.6 479.8,475.8 512.4,513.6 516.1,490.1 504.5,513.8 511.7,482.6 516.4,460.6 504.3,516.2 469.2,492.8 469.6,443.4 515.2,498.2 505.0,511.7 506.0,504.2 517.3,506.3 482.9,502.6 505.3,515.5 476.8,513.7 516.4,446.5 477.1,466.4 516.3,484.7 511.2,473.8 508.9,510.2 513.4,474.2 474.1,511.9 518.7,447.0 512.4,479.8 511.7,505.2 472.0,446.6 511.3,509.2 518.7,509.6 483.0,514.1 509.5,496.1 480.0,513.4 509.6,486.5 509.5,504.1 508.9,513.3 487.0,514.4 507.8,512.6 511.9,484.7 478.8,499.5 484.1,513.4 482.8,495.0 511.0,510.3 516.0,479.0 513.2,487.9 516.0,479.2 512.7,490.1 480.2,510.5 507.7,509.4 506.7,511.6 469.9,495.9 512.3,495.2 511.4,493.0 481.0,496.0 468.7,469.9 511.6,504.9 478.2,515.8 515.2,503.9 476.4,479.4 477.5,507.6 504.8,514.3 481.4,513.1 479.1,496.4 513.8,469.0 509.8,499.4 508.8,512.3 480.9,516.0 510.0,492.1 472.3,433.0 475.7,459.7 513.0,490.1 513.7,471.2 514.1,501.3 511.5,489.2 479.2,473.1 515.4,478.0 516.5,504.3 511.7,472.7 475.2,482.3 476.9,471.0 513.4,471.0 508.4,500.0 511.8,502.1 480.0,503.3 504.5,511.5 510.6,511.8 505.8,514.1 512.4,482.5 518.6,445.6 509.6,504.2 481.1,483.3 480.7,489.5 508.5,507.7 468.2,435.0 484.2,510.2 512.3,507.7 477.3,510.6 484.3,514.6 514.4,500.6 519.1,516.0 514.7,472.3 514.4,516.0 514.7,483.5 468.5,428.2 518.1,469.0 479.9,480.0 512.3,469.7 479.8,495.5 484.0,503.6 511.9,477.9 511.9,483.6 505.0,515.9 483.0,501.0 515.3,475.7 475.8,465.4 512.2,506.1 476.1,488.0 483.0,515.6 507.8,494.8 509.5,509.6 509.9,489.8 505.4,513.2 512.0,488.7 473.9,448.6 509.4,493.9 477.0,492.6 511.3,497.8 513.9,514.7 505.5,508.9 472.1,445.6 474.5,477.3 505.2,508.4 511.0,511.3 485.9,512.8 473.9,463.6 510.4,479.1 510.8,492.7 473.6,475.5 517.5,480.5 517.2,504.7 478.5,481.5 514.1,509.2 518.2,481.1 510.5,503.6 514.5,466.1 512.6,493.0 511.3,487.3 522.4,470.2 480.7,497.4 481.1,513.6 509.0,488.4 509.4,501.0 509.0,507.9 505.1,508.4 484.3,502.5 510.5,481.4 478.9,480.1 483.3,494.5 519.6,456.8 517.7,455.3 510.1,513.4 511.8,497.5 510.4,482.0 510.9,498.8 515.7,463.2 510.8,498.9 512.0,499.1 506.8,498.8 484.4,501.5 518.8,439.5 484.3,507.5 510.3,503.4 511.4,503.9 507.3,496.9 507.8,507.7 484.0,509.1 481.1,502.3 472.1,500.2 506.6,501.6 513.5,487.4 483.6,500.9 508.4,507.4 515.5,468.5 513.2,500.0 506.6,501.5 519.4,484.3 477.0,473.4 518.6,452.5 469.6,444.2 469.2,489.5 505.8,507.4 509.1,500.8 509.7,486.7 514.0,497.8 511.4,506.7 484.8,513.7 472.2,464.4 522.5,474.9 511.1,500.9 515.7,475.6 509.8,485.3 482.8,503.1 513.3,513.8 512.5,475.8 480.3,475.9 476.5,506.8 506.1,503.4 505.5,509.5 513.4,504.7 484.0,501.6 485.1,515.7 481.7,514.5 486.8,514.5 511.3,507.3 509.2,508.0 480.7,507.8 518.1,445.2 522.6,472.1 508.6,512.2 511.6,480.7 508.2,503.9 482.4,488.3 478.0,479.8 511.4,502.6 514.6,470.3 485.0,508.2 512.3,493.9 509.5,510.1 510.4,513.7 513.5,477.9 485.4,505.6 511.1,511.6 513.4,480.8 516.9,464.1 512.7,503.2 514.6,474.6 511.0,477.6 517.3,442.0 475.9,460.9 505.5,516.0 483.7,510.1 515.2,477.9 481.2,488.9 512.8,496.2 484.3,509.2 482.2,506.7 482.9,503.4 504.1,514.7 514.1,479.0 517.6,451.6 513.1,480.0 520.5,483.4 522.4,473.6 514.3,494.5 516.1,480.1 510.3,481.8 508.7,514.1 510.8,509.9 480.3,511.2 484.7,508.1 511.4,506.4 506.2,508.0 510.3,507.9 506.5,508.4 476.1,493.7 516.9,490.9 481.5,511.9 514.9,466.9 516.0,468.2 514.8,510.9 478.3,509.5 507.4,502.4 513.5,486.0 515.3,502.0 516.2,471.0 507.4,512.8 517.6,452.9 520.9,497.8 513.3,478.2 470.8,460.6 511.6,507.5 473.9,481.0 482.9,511.2 483.0,493.0 484.1,508.9 469.6,429.0 478.3,470.9 514.8,499.5 481.0,507.4 505.2,511.6 507.8,497.9 480.1,479.8 477.9,477.4 511.8,503.2 472.3,455.0 522.6,416.4 520.5,475.2 514.9,481.8 468.5,417.6 476.5,477.8 512.1,491.6 506.4,502.4 507.2,511.2 476.5,489.4 518.8,496.5 504.4,515.3 512.4,487.8 508.2,503.3 484.0,508.1 481.9,486.8 475.6,472.7 514.9,505.0 473.2,510.0 515.6,510.3 478.2,491.3 521.2,447.6 479.3,503.1 513.2,491.0 515.1,506.4 514.3,489.5 507.6,495.8 512.5,488.5 513.7,505.5 504.7,512.8 512.8,504.7 516.3,502.9 512.3,503.5 478.7,472.0 472.1,501.1 479.7,496.8 483.3,495.8 484.1,506.2 506.6,511.7 507.3,510.2 513.5,501.9 510.5,484.2 520.1,457.3 511.0,483.9 485.8,515.3 472.2,479.4 514.9,464.3 522.3,470.4 507.7,499.0 477.4,490.9 513.2,480.6 484.9,505.9 516.4,513.6 519.8,434.5 484.4,502.2 510.7,501.1" fill="none" stroke="none" marker-start="url(#mk)" marker-mid="url(#mk)" marker-end="url(#mk)"/>
<polyline points="560.1,365.8 575.0,366.2 597.0,366.2 532.7,420.4 539.9,434.7 526.6,442.5 523.5,448.0 531.7,454.2 524.5,458.2 565.0,350.0 552.0,356.0 529.7,472.8 535.1,418.4 526.8,416.9 525.4,426.0 535.3,405.8 526.9,408.6 524.7,462.1 542.6,384.1 524.2,479.2 540.4,454.3 524.1,462.3 523.5,488.1 525.2,428.0 525.5,503.6 549.6,364.9 524.6,488.7 529.4,453.7 529.4,404.9 532.4,433.0 526.1,465.5 545.5,439.0 554.1,404.8 535.5,455.7 530.1,456.3 523.3,475.5 526.4,450.7 537.0,400.8 543.3,399.6 526.2,405.9 523.5,451.3 525.5,496.6 543.5,389.2 539.0,422.9 526.3,439.8 531.5,418.8 532.4,468.8 540.5,435.4 530.3,508.5 527.7,410.9 524.4,430.0 539.5,446.1 526.5,434.9 526.5,451.8 530.9,459.8 531.1,391.7 523.8,459.0 527.2,431.2 525.8,421.8 526.7,452.4 543.0,387.4 531.9,397.2 528.0,461.5 531.8,503.0 534.5,464.5 531.4,505.5 527.1,493.6 531.5,493.9 548.3,419.1 524.4,513.0 527.5,478.0 524.6,461.3 525.8,421.0 524.5,464.0 524.8,453.9 526.9,479.2 532.2,426.2 528.1,424.5 526.3,463.0 532.9,417.4 523.3,499.6 524.5,475.0 526.8,502.2 532.9,387.9 524.9,407.5 523.8,473.2 540.5,424.7 531.7,452.8 535.5,404.9 528.7,449.0 538.0,467.1 525.6,498.3 524.0,500.0 526.5,491.8 527.2,406.8 534.6,497.6 524.9,481.0 527.2,403.0 531.2,428.6 524.0,442.8 532.7,401.7 528.1,413.4 525.8,487.1 541.8,439.1 538.9,411.6 526.4,500.6 538.3,398.2 530.8,463.4 529.4,414.4 524.1,446.1 525.7,461.0 528.2,483.2 523.6,453.7 534.6,460.9 524.3,423.0 524.6,439.6 527.9,426.6 549.4,457.2 532.0,469.0 551.1,402.6 527.5,498.9 528.8,482.7 534.7,466.8 547.2,409.2 534.5,401.9 523.4,461.2 566.4,385.5 526.3,443.5 536.6,380.3 525.1,434.2 523.3,426.9 532.7,468.6 526.0,480.3 524.6,483.7 535.8,437.0 526.3,426.4 537.2,397.0 533.9,385.1 526.3,491.9 538.8,409.0 528.7,410.9 543.0,470.8 526.5,466.8 540.3,383.2 529.6,441.3 530.2,446.6 527.3,428.8 546.9,394.9 538.9,433.9 527.5,400.9 535.1,475.5 530.3,502.5 528.4,438.5 540.1,465.8 530.1,443.4 525.7,490.8 529.7,418.4 525.1,422.8 526.5,434.8 529.9,477.8 532.3,409.6 529.8,444.4 542.6,465.6 536.5,426.7 532.8,488.7 528.7,428.1 537.3,399.5 539.8,391.6 525.5,497.3 524.6,486.2 570.8,386.0 532.7,442.7 523.9,514.6 529.8,434.1 529.5,505.7 543.6,366.5 529.1,401.4 527.8,467.0 523.8,411.0 527.5,401.1 527.2,400.2 527.7,482.8 525.1,471.9 525.5,430.1 544.6,443.9 525.0,458.9 535.6,401.0 531.7,417.9 540.2,432.9 526.6,476.4 541.4,420.0 534.9,380.2 534.7,439.1 527.6,498.1 542.5,415.3 525.9,424.3 524.8,449.2 527.2,423.8 544.0,370.2 530.3,408.4 529.0,493.3 527.5,414.3 528.4,443.6 528.8,488.2 525.2,448.3 526.4,412.1 525.5,421.9 531.3,501.2 527.9,414.0 524.5,486.5 527.1,442.5 523.3,467.5 550.8,409.1 537.6,439.0 525.8,437.8 538.5,491.3 525.1,515.7 546.1,434.6 526.6,500.8 534.1,386.2 526.7,419.3 560.3,417.1 527.4,511.9 530.7,392.9 524.8,412.0 529.2,403.3 525.6,481.5 523.9,483.0 544.9,457.1 535.4,459.3 527.7,407.7 540.2,452.6 528.9,482.6 566.9,374.1 527.6,406.6 528.9,456.0 526.7,428.6 527.8,497.9 536.3,499.1 528.1,418.0 523.7,425.3 526.3,453.9 525.0,441.2 525.6,462.0 528.8,458.8 526.5,452.0 537.4,448.5 529.1,421.6 524.6,506.6 530.9,426.5 535.7,461.4 544.7,450.8 526.3,428.0 533.9,476.2 528.2,465.0 524.1,441.6 540.3,413.4 529.3,402.0 529.5,476.9 525.0,427.3 525.0,469.3 538.9,513.9" fill="none" stroke="none" marker-start="url(#mr)" marker-mid="url(#mr)" marker-end="url(#mr)"/>
<path d="M560.1,365.8L614.9,365.8" stroke="#111" stroke-width="0.9"/>
<path d="M619.4,365.8L613.9,368.4L613.9,363.2Z" fill="#111"/>
<text x="621.5" y="369.2" font-size="9.6">SOS1 S1120</text>
<path d="M532.7,420.4L587.5,420.4" stroke="#111" stroke-width="0.9"/>
<path d="M592,420.4L586.5,423.0L586.5,417.8Z" fill="#111"/>
<text x="595.6" y="424.1" font-size="9.6">GAB1 S1120</text>
<path d="M539.9,434.7L569.1,434.7" stroke="#111" stroke-width="0.9"/>
<path d="M573.6,434.7L568.1,437.3L568.1,432.1Z" fill="#111"/>
<text x="576" y="438.8" font-size="9.6">EPHA2 S898</text>
<path d="M526.6,442.5L556.5,447.3" stroke="#111" stroke-width="0.9"/>
<path d="M560.9,448L555.1,449.7L555.9,444.6Z" fill="#111"/>
<text x="563.8" y="452.1" font-size="9.6">IRS2 S675</text>
<path d="M523.5,448L552.6,459.6" stroke="#111" stroke-width="0.9"/>
<path d="M556.8,461.3L550.7,461.7L552.7,456.8Z" fill="#111"/>
<text x="561.7" y="468.5" font-size="9.6">RAF1 S29</text>
<path d="M531.7,454.2L557.7,479.7" stroke="#111" stroke-width="0.9"/>
<path d="M560.9,482.8L555.2,480.8L558.8,477.1Z" fill="#111"/>
<text x="565" y="485.4" font-size="9.6">RPS6KA3 S17</text>
<path d="M524.5,458.2L542.2,486.1" stroke="#111" stroke-width="0.9"/>
<path d="M544.6,489.9L539.5,486.6L543.9,483.9Z" fill="#111"/>
<text x="541.5" y="502.2" font-size="9.6">GAB1 Y660</text>
<text x="-0.5" y="593" font-size="19" font-weight="bold" fill="#000">e</text>
<path d="M41.8,592V744.6H380" fill="none" stroke="#000" stroke-width="1"/>
<path d="M37,744.6H41.8" stroke="#000" stroke-width="1"/>
<text x="31" y="748.9" font-size="12" text-anchor="end">0</text>
<path d="M37,693.9H41.8" stroke="#000" stroke-width="1"/>
<text x="31" y="698.15" font-size="12" text-anchor="end">1</text>
<path d="M37,643.1H41.8" stroke="#000" stroke-width="1"/>
<text x="31" y="647.4" font-size="12" text-anchor="end">2</text>
<path d="M37,592.4H41.8" stroke="#000" stroke-width="1"/>
<text x="31" y="596.65" font-size="12" text-anchor="end">3</text>
<text transform="translate(11.3,669) rotate(-90)" font-size="13.4" text-anchor="middle">log (fold change)</text>
<rect x="86.1" y="603.2" width="22.3" height="6.3" fill="#7d1416"/>
<rect x="86.1" y="621.8" width="22.3" height="6.5" fill="#dd2a2e"/>
<text x="114.7" y="609.9" font-size="11.6">5 min FGF4</text>
<text x="114.7" y="628.6" font-size="11.6">20 min FGF4</text>
<path d="M61.5,744.6V749.2" stroke="#000" stroke-width="1"/>
<rect x="54.9" y="603.8" width="6.15" height="140.8" fill="#7d1416"/>
<path d="M58.0,601.0V607.8M56.6,601.0H59.4" stroke="#000" stroke-width="0.8"/>
<circle cx="57.4" cy="601" r="1.6" fill="#000"/>
<circle cx="58.7" cy="601.9" r="1.6" fill="#000"/>
<circle cx="57.8" cy="607.8" r="1.6" fill="#000"/>
<rect x="63.1" y="657.0" width="6.15" height="87.6" fill="#dd2a2e"/>
<path d="M66.2,649.6V664.3M64.8,649.6H67.6" stroke="#000" stroke-width="0.8"/>
<circle cx="65.6" cy="649.6" r="1.6" fill="#000"/>
<circle cx="66.9" cy="656.4" r="1.6" fill="#000"/>
<circle cx="66.0" cy="664.3" r="1.6" fill="#000"/>
<text transform="translate(66.1,756.3) rotate(-90)" font-size="13.3" text-anchor="end">WNK4 S676</text>
<path d="M87.4,744.6V749.2" stroke="#000" stroke-width="1"/>
<rect x="80.8" y="710.9" width="6.15" height="33.7" fill="#7d1416"/>
<path d="M83.9,688.2V733.7M82.5,688.2H85.3" stroke="#000" stroke-width="0.8"/>
<circle cx="83.3" cy="688.2" r="1.6" fill="#000"/>
<circle cx="84.6" cy="710.2" r="1.6" fill="#000"/>
<circle cx="83.7" cy="733.7" r="1.6" fill="#000"/>
<rect x="89.0" y="668.8" width="6.15" height="75.8" fill="#dd2a2e"/>
<path d="M92.1,664.3V672.6M90.7,664.3H93.5" stroke="#000" stroke-width="0.8"/>
<circle cx="91.5" cy="664.3" r="1.6" fill="#000"/>
<circle cx="92.8" cy="668.9" r="1.6" fill="#000"/>
<circle cx="91.9" cy="672.6" r="1.6" fill="#000"/>
<text transform="translate(92.0,756.3) rotate(-90)" font-size="13.3" text-anchor="end">EPHA2 S898</text>
<path d="M113.4,744.6V749.2" stroke="#000" stroke-width="1"/>
<rect x="106.8" y="685.9" width="6.15" height="58.7" fill="#7d1416"/>
<path d="M109.8,671.3V697.9M108.4,671.3H111.2" stroke="#000" stroke-width="0.8"/>
<circle cx="109.2" cy="671.3" r="1.6" fill="#000"/>
<circle cx="110.5" cy="687.6" r="1.6" fill="#000"/>
<circle cx="109.6" cy="697.9" r="1.6" fill="#000"/>
<rect x="115.0" y="666.7" width="6.15" height="77.9" fill="#dd2a2e"/>
<path d="M118.0,657.9V672.0M116.6,657.9H119.4" stroke="#000" stroke-width="0.8"/>
<circle cx="117.4" cy="657.9" r="1.6" fill="#000"/>
<circle cx="118.7" cy="669.8" r="1.6" fill="#000"/>
<circle cx="117.8" cy="672" r="1.6" fill="#000"/>
<text transform="translate(118.0,756.3) rotate(-90)" font-size="13.3" text-anchor="end">RPS6KA3 S17</text>
<path d="M139.3,744.6V749.2" stroke="#000" stroke-width="1"/>
<rect x="132.7" y="713.2" width="6.15" height="31.4" fill="#7d1416"/>
<path d="M135.8,699.3V725.6M134.4,699.3H137.2" stroke="#000" stroke-width="0.8"/>
<circle cx="135.2" cy="699.3" r="1.6" fill="#000"/>
<circle cx="136.5" cy="715.7" r="1.6" fill="#000"/>
<circle cx="135.6" cy="725.6" r="1.6" fill="#000"/>
<rect x="140.9" y="678.5" width="6.15" height="66.1" fill="#dd2a2e"/>
<path d="M144.0,671.5V683.9M142.6,671.5H145.4" stroke="#000" stroke-width="0.8"/>
<circle cx="143.4" cy="671.5" r="1.6" fill="#000"/>
<circle cx="144.7" cy="680.4" r="1.6" fill="#000"/>
<circle cx="143.8" cy="683.9" r="1.6" fill="#000"/>
<text transform="translate(143.9,756.3) rotate(-90)" font-size="13.3" text-anchor="end">EPHA2 S898 S902</text>
<path d="M165.2,744.6V749.2" stroke="#000" stroke-width="1"/>
<rect x="158.6" y="700.2" width="6.15" height="44.4" fill="#7d1416"/>
<path d="M161.7,693.0V705.0M160.3,693.0H163.1" stroke="#000" stroke-width="0.8"/>
<circle cx="161.1" cy="693" r="1.6" fill="#000"/>
<circle cx="162.4" cy="701.8" r="1.6" fill="#000"/>
<circle cx="161.5" cy="705" r="1.6" fill="#000"/>
<rect x="166.8" y="678.5" width="6.15" height="66.1" fill="#dd2a2e"/>
<path d="M169.9,669.7V688.2M168.5,669.7H171.3" stroke="#000" stroke-width="0.8"/>
<circle cx="169.3" cy="669.7" r="1.6" fill="#000"/>
<circle cx="170.6" cy="677.6" r="1.6" fill="#000"/>
<circle cx="169.7" cy="688.2" r="1.6" fill="#000"/>
<text transform="translate(169.8,756.3) rotate(-90)" font-size="13.3" text-anchor="end">PAK1 S223</text>
<path d="M191.2,744.6V749.2" stroke="#000" stroke-width="1"/>
<rect x="184.6" y="668.4" width="6.15" height="76.2" fill="#7d1416"/>
<path d="M187.6,662.1V674.1M186.2,662.1H189.0" stroke="#000" stroke-width="0.8"/>
<circle cx="187.0" cy="662.1" r="1.6" fill="#000"/>
<circle cx="188.3" cy="668.8" r="1.6" fill="#000"/>
<circle cx="187.4" cy="674.1" r="1.6" fill="#000"/>
<rect x="192.8" y="687.3" width="6.15" height="57.3" fill="#dd2a2e"/>
<path d="M195.8,685.4V688.6M194.4,685.4H197.2" stroke="#000" stroke-width="0.8"/>
<circle cx="195.2" cy="685.4" r="1.6" fill="#000"/>
<circle cx="196.5" cy="687.7" r="1.6" fill="#000"/>
<circle cx="195.6" cy="688.6" r="1.6" fill="#000"/>
<text transform="translate(195.8,756.3) rotate(-90)" font-size="13.3" text-anchor="end">CHEK1 S280</text>
<path d="M217.1,744.6V749.2" stroke="#000" stroke-width="1"/>
<rect x="210.5" y="679.4" width="6.15" height="65.2" fill="#7d1416"/>
<path d="M213.5,658.9V702.7M212.1,658.9H214.9" stroke="#000" stroke-width="0.8"/>
<circle cx="212.9" cy="658.9" r="1.6" fill="#000"/>
<circle cx="214.2" cy="675.3" r="1.6" fill="#000"/>
<circle cx="213.3" cy="702.7" r="1.6" fill="#000"/>
<rect x="218.7" y="688.8" width="6.15" height="55.8" fill="#dd2a2e"/>
<path d="M221.7,682.9V696.2M220.3,682.9H223.1" stroke="#000" stroke-width="0.8"/>
<circle cx="221.1" cy="682.9" r="1.6" fill="#000"/>
<circle cx="222.4" cy="685.4" r="1.6" fill="#000"/>
<circle cx="221.5" cy="696.2" r="1.6" fill="#000"/>
<text transform="translate(221.7,756.3) rotate(-90)" font-size="13.3" text-anchor="end">RAF1 S29</text>
<path d="M243.0,744.6V749.2" stroke="#000" stroke-width="1"/>
<rect x="236.4" y="660.2" width="6.15" height="84.4" fill="#7d1416"/>
<path d="M239.5,651.6V666.8M238.1,651.6H240.9" stroke="#000" stroke-width="0.8"/>
<circle cx="238.9" cy="651.6" r="1.6" fill="#000"/>
<circle cx="240.2" cy="662.1" r="1.6" fill="#000"/>
<circle cx="239.3" cy="666.8" r="1.6" fill="#000"/>
<rect x="244.6" y="693.4" width="6.15" height="51.2" fill="#dd2a2e"/>
<path d="M247.7,688.0V698.7M246.3,688.0H249.1" stroke="#000" stroke-width="0.8"/>
<circle cx="247.1" cy="688" r="1.6" fill="#000"/>
<circle cx="248.4" cy="692.7" r="1.6" fill="#000"/>
<circle cx="247.5" cy="698.7" r="1.6" fill="#000"/>
<text transform="translate(247.6,756.3) rotate(-90)" font-size="13.3" text-anchor="end">ULK1 S614</text>
<path d="M268.9,744.6V749.2" stroke="#000" stroke-width="1"/>
<rect x="262.3" y="677.9" width="6.15" height="66.7" fill="#7d1416"/>
<path d="M265.4,669.3V682.6M264.0,669.3H266.8" stroke="#000" stroke-width="0.8"/>
<circle cx="264.8" cy="669.3" r="1.6" fill="#000"/>
<circle cx="266.1" cy="681" r="1.6" fill="#000"/>
<circle cx="265.2" cy="682.6" r="1.6" fill="#000"/>
<rect x="270.5" y="693.0" width="6.15" height="51.6" fill="#dd2a2e"/>
<path d="M273.6,689.8V695.5M272.2,689.8H275.0" stroke="#000" stroke-width="0.8"/>
<circle cx="273.0" cy="689.8" r="1.6" fill="#000"/>
<circle cx="274.3" cy="692.4" r="1.6" fill="#000"/>
<circle cx="273.4" cy="695.5" r="1.6" fill="#000"/>
<text transform="translate(273.5,756.3) rotate(-90)" font-size="13.3" text-anchor="end">MAP3K3 S337</text>
<path d="M294.9,744.6V749.2" stroke="#000" stroke-width="1"/>
<rect x="288.3" y="661.2" width="6.15" height="83.4" fill="#7d1416"/>
<path d="M291.3,650.4V676.8M289.9,650.4H292.7" stroke="#000" stroke-width="0.8"/>
<circle cx="290.7" cy="650.4" r="1.6" fill="#000"/>
<circle cx="292.0" cy="656.1" r="1.6" fill="#000"/>
<circle cx="291.1" cy="676.8" r="1.6" fill="#000"/>
<rect x="296.5" y="701.3" width="6.15" height="43.3" fill="#dd2a2e"/>
<path d="M299.5,692.1V706.7M298.1,692.1H300.9" stroke="#000" stroke-width="0.8"/>
<circle cx="298.9" cy="692.1" r="1.6" fill="#000"/>
<circle cx="300.2" cy="705.1" r="1.6" fill="#000"/>
<circle cx="299.3" cy="706.7" r="1.6" fill="#000"/>
<text transform="translate(299.5,756.3) rotate(-90)" font-size="13.3" text-anchor="end">CHEK1 S280 S284</text>
<path d="M320.8,744.6V749.2" stroke="#000" stroke-width="1"/>
<rect x="314.2" y="694.4" width="6.15" height="50.2" fill="#7d1416"/>
<path d="M317.3,682.2V705.9M315.9,682.2H318.7" stroke="#000" stroke-width="0.8"/>
<circle cx="316.7" cy="682.2" r="1.6" fill="#000"/>
<circle cx="318.0" cy="694.7" r="1.6" fill="#000"/>
<circle cx="317.1" cy="705.9" r="1.6" fill="#000"/>
<rect x="322.4" y="703.9" width="6.15" height="40.7" fill="#dd2a2e"/>
<path d="M325.5,701.3V705.6M324.1,701.3H326.9" stroke="#000" stroke-width="0.8"/>
<circle cx="324.9" cy="701.3" r="1.6" fill="#000"/>
<circle cx="326.2" cy="702.8" r="1.6" fill="#000"/>
<circle cx="325.3" cy="705.6" r="1.6" fill="#000"/>
<text transform="translate(325.4,756.3) rotate(-90)" font-size="13.3" text-anchor="end">ATR S438</text>
<path d="M346.7,744.6V749.2" stroke="#000" stroke-width="1"/>
<rect x="340.1" y="680.2" width="6.15" height="64.4" fill="#7d1416"/>
<path d="M343.2,675.0V683.7M341.8,675.0H344.6" stroke="#000" stroke-width="0.8"/>
<circle cx="342.6" cy="675" r="1.6" fill="#000"/>
<circle cx="343.9" cy="682.2" r="1.6" fill="#000"/>
<circle cx="343.0" cy="683.7" r="1.6" fill="#000"/>
<rect x="348.3" y="713.9" width="6.15" height="30.7" fill="#dd2a2e"/>
<path d="M351.4,708.2V722.8M350.0,708.2H352.8" stroke="#000" stroke-width="0.8"/>
<circle cx="350.8" cy="708.2" r="1.6" fill="#000"/>
<circle cx="352.1" cy="709.7" r="1.6" fill="#000"/>
<circle cx="351.2" cy="722.8" r="1.6" fill="#000"/>
<text transform="translate(351.3,756.3) rotate(-90)" font-size="13.3" text-anchor="end">STK17B S12</text>
<path d="M372.7,744.6V749.2" stroke="#000" stroke-width="1"/>
<rect x="366.1" y="693.2" width="6.15" height="51.4" fill="#7d1416"/>
<path d="M369.1,687.8V700.5M367.7,687.8H370.5" stroke="#000" stroke-width="0.8"/>
<circle cx="368.5" cy="687.8" r="1.6" fill="#000"/>
<circle cx="369.8" cy="689.8" r="1.6" fill="#000"/>
<circle cx="368.9" cy="700.5" r="1.6" fill="#000"/>
<rect x="374.3" y="720.0" width="6.15" height="24.6" fill="#dd2a2e"/>
<path d="M377.3,711.7V726.6M375.9,711.7H378.7" stroke="#000" stroke-width="0.8"/>
<circle cx="376.7" cy="711.7" r="1.6" fill="#000"/>
<circle cx="378.0" cy="720.9" r="1.6" fill="#000"/>
<circle cx="377.1" cy="726.6" r="1.6" fill="#000"/>
<text transform="translate(377.3,756.3) rotate(-90)" font-size="13.3" text-anchor="end">MAPK11Y182</text>
<text x="413.2" y="680.2" font-size="19" font-weight="bold" fill="#000">f</text>
<text x="445.5" y="684.8" font-size="13.3" text-anchor="middle">0</text>
<text x="466.1" y="684.8" font-size="13.3" text-anchor="middle">5</text>
<text x="486.7" y="684.8" font-size="13.3" text-anchor="middle">10</text>
<text x="507.3" y="684.8" font-size="13.3" text-anchor="middle">15</text>
<text x="527.9" y="684.8" font-size="13.3" text-anchor="middle">20</text>
<text x="548.5" y="684.8" font-size="13.3" text-anchor="middle">30</text>
<text x="568.7" y="684.8" font-size="13.5">FGF4 (min)</text>
<text x="568.7" y="706.3" font-size="13.6">WB: EPHA2 pS898</text>
<text x="568.7" y="738.5" font-size="13.6">WB: EPHA2</text>
<defs><filter id="bl" x="-50%" y="-50%" width="200%" height="200%"><feGaussianBlur stdDeviation="1.6"/></filter><filter id="bl2" x="-50%" y="-50%" width="200%" height="200%"><feGaussianBlur stdDeviation="1.4"/></filter><clipPath id="cb1"><rect x="435.2" y="690.9" width="126.6" height="22.7"/></clipPath><clipPath id="cb2"><rect x="435.2" y="722.9" width="126.6" height="22.7"/></clipPath></defs>
<rect x="435.2" y="690.9" width="126.6" height="22.7" fill="#e9e9ea"/>
<g clip-path="url(#cb1)"><g filter="url(#bl)">
<rect x="461.59999999999997" y="696.5" width="15.6" height="11" rx="3" fill="#404040" opacity="0.27"/>
<rect x="481.9" y="696.5" width="15.6" height="11" rx="3" fill="#404040" opacity="0.45"/>
<rect x="500.4" y="696.5" width="15.6" height="11" rx="3" fill="#404040" opacity="0.36"/>
<rect x="519.4000000000001" y="696.5" width="15.6" height="11" rx="3" fill="#404040" opacity="0.26"/>
<rect x="539.8000000000001" y="696.5" width="15.6" height="11" rx="3" fill="#404040" opacity="0.08"/>
<ellipse cx="489.7" cy="701.5" rx="5" ry="3" fill="#303030" opacity="0.25"/>
</g></g>
<rect x="435.2" y="722.9" width="126.6" height="22.7" fill="#9c9c9c"/>
<g clip-path="url(#cb2)"><g filter="url(#bl2)">
<rect x="436.5" y="725.5" width="18" height="20" fill="#545454"/>
<rect x="436.8" y="728.5" width="17.4" height="7.5" rx="2" fill="#222"/>
<rect x="457" y="725.5" width="18" height="20" fill="#545454"/>
<rect x="457.3" y="728.5" width="17.4" height="7.5" rx="2" fill="#222"/>
<rect x="478.2" y="725.5" width="18" height="20" fill="#545454"/>
<rect x="478.5" y="728.5" width="17.4" height="7.5" rx="2" fill="#222"/>
<rect x="498.7" y="725.5" width="18" height="20" fill="#545454"/>
<rect x="499.0" y="728.5" width="17.4" height="7.5" rx="2" fill="#222"/>
<rect x="519.1" y="725.5" width="18" height="20" fill="#545454"/>
<rect x="519.4" y="728.5" width="17.4" height="7.5" rx="2" fill="#222"/>
<rect x="541.2" y="725.5" width="18" height="20" fill="#545454"/>
<rect x="541.5" y="728.5" width="17.4" height="7.5" rx="2" fill="#222"/>
</g></g>
<rect x="435.2" y="690.9" width="126.6" height="22.7" fill="none" stroke="#111" stroke-width="1"/>
<rect x="435.2" y="722.9" width="126.6" height="22.7" fill="none" stroke="#111" stroke-width="1"/>
</svg></body></html>
